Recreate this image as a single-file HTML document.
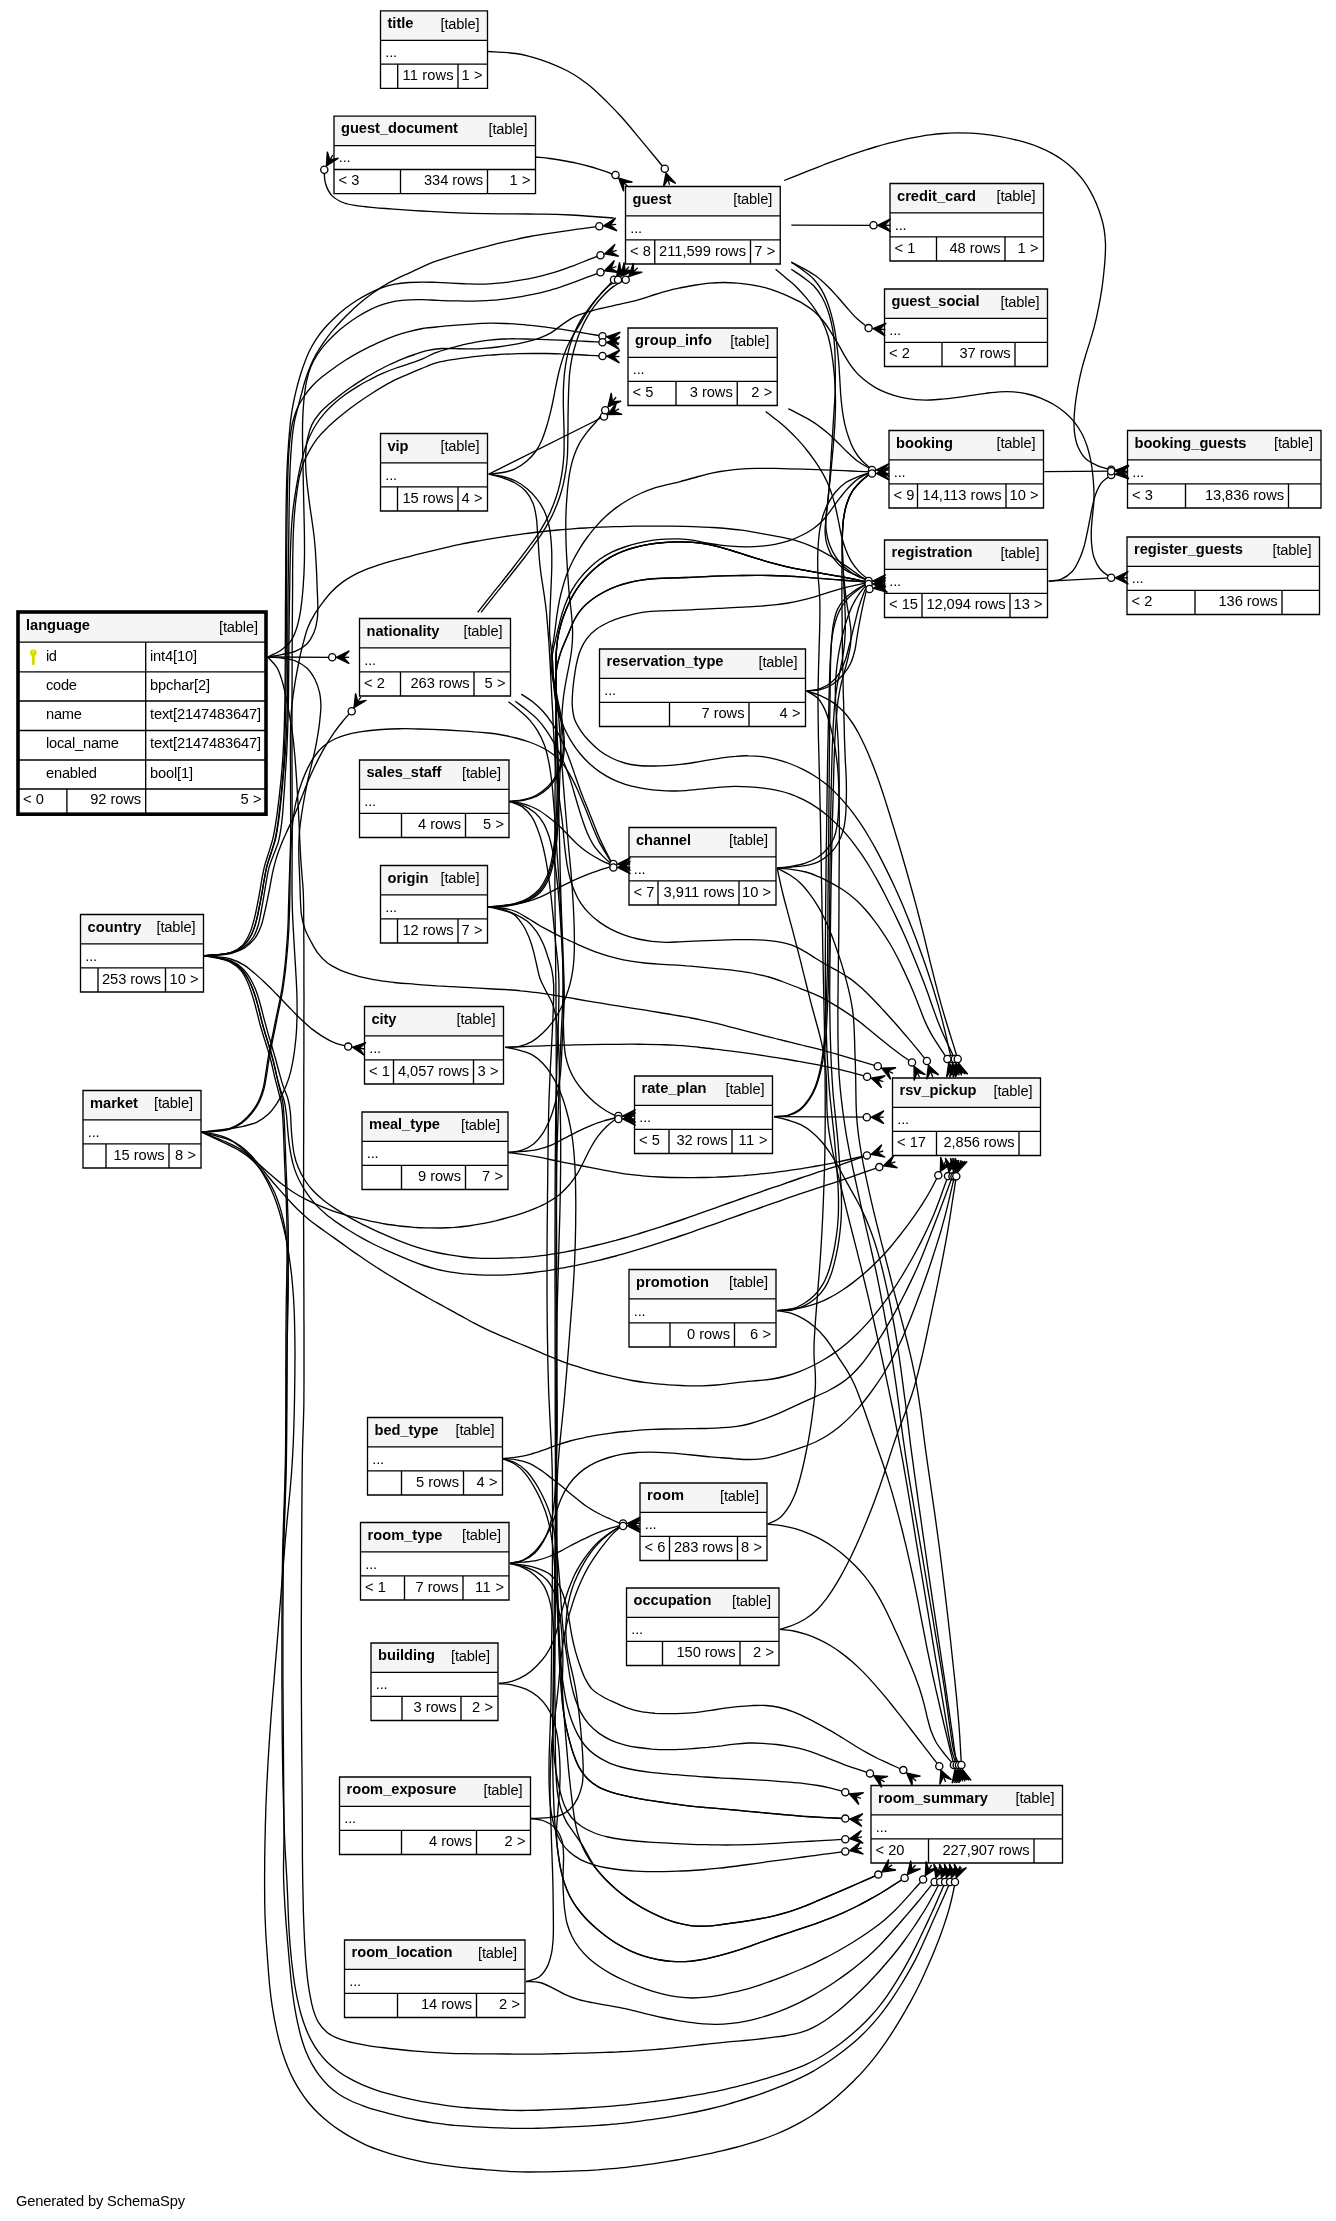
<!DOCTYPE html>
<html><head><meta charset="utf-8"><title>SchemaSpy - language</title>
<style>
html,body{margin:0;padding:0;background:#fff}
svg{display:block}
text{font-family:"Liberation Sans",sans-serif;font-size:14.67px;fill:#000}
.b{fill:none;stroke:#000;stroke-width:1.33}
.e path{fill:none;stroke:#000;stroke-width:1.33}
.h circle{fill:#fff;stroke:#000;stroke-width:1.33}
.h path{fill:none;stroke:#000;stroke-width:1.33}
.h path.c{fill:#000;stroke-width:1.3;stroke-linejoin:miter}
</style></head><body>
<svg width="1336" height="2221" viewBox="0 0 1336 2221">
<rect width="1336" height="2221" fill="#fff"/>
<g class="e">
<path d="M487.7,51.5C492.4,51.8 497.0,52.0 501.7,52.3C506.4,52.6 511.0,52.8 515.7,53.5C520.0,54.1 524.2,55.0 528.4,56.1C532.9,57.2 537.4,58.6 541.8,60.1C546.2,61.6 550.6,63.2 554.9,65.1C559.3,66.9 563.5,68.8 567.6,71.0C571.7,73.2 575.8,75.6 579.6,78.3C583.2,80.7 586.6,83.4 590.0,86.1C593.6,89.1 597.0,92.3 600.4,95.5C603.8,98.7 607.1,102.0 610.4,105.4C613.7,108.7 616.9,112.0 620.1,115.5C623.3,118.9 626.3,122.5 629.3,126.0C632.4,129.6 635.3,133.3 638.3,136.9C641.0,140.2 643.8,143.5 646.6,146.9C649.6,150.5 652.6,154.1 655.6,157.7C658.5,161.3 661.5,164.9 664.5,168.5"/>
<path d="M535.5,157.0C540.2,157.5 544.8,157.9 549.5,158.5C553.8,159.1 558.1,159.8 562.4,160.5C567.0,161.3 571.6,162.1 576.2,163.1C580.7,164.1 585.3,165.2 589.8,166.5C594.0,167.6 598.1,169.1 602.2,170.4C606.7,171.9 611.1,173.5 615.5,175.0"/>
<path d="M613.7,218.0C609.1,217.7 604.4,217.3 599.8,217.0C595.1,216.7 590.5,216.3 585.8,216.0C580.8,215.6 575.8,215.3 570.8,215.0C566.2,214.8 561.5,214.6 556.8,214.4C552.2,214.3 547.5,214.2 542.8,214.1C538.1,214.1 533.5,214.0 528.8,214.0C523.8,214.0 518.8,214.0 513.8,213.9C509.1,213.9 504.5,213.9 499.8,213.9C495.1,213.8 490.4,213.8 485.8,213.7C481.1,213.6 476.4,213.5 471.8,213.4C467.1,213.2 462.4,213.0 457.8,212.8C452.8,212.6 447.8,212.4 442.8,212.1C438.1,211.9 433.4,211.6 428.8,211.4C424.1,211.1 419.5,210.9 414.8,210.6C410.1,210.3 405.5,210.0 400.8,209.7C395.8,209.3 390.8,208.9 385.8,208.5C381.2,208.2 376.5,207.8 371.9,207.3C367.2,206.9 362.6,206.6 358.0,205.9C353.4,205.1 348.6,204.7 344.3,203.0C339.9,201.3 335.3,199.0 331.9,195.6C328.8,192.4 326.9,188.0 325.6,183.8C324.2,179.4 324.5,174.6 324.0,170.0"/>
<path d="M784.2,180.5C788.5,178.8 792.9,177.1 797.2,175.4C801.6,173.6 805.9,171.9 810.3,170.2C814.6,168.5 819.0,166.7 823.3,165.0C827.4,163.5 831.4,161.9 835.5,160.4C839.9,158.8 844.3,157.3 848.7,155.7C853.1,154.2 857.5,152.7 862.0,151.2C866.4,149.8 870.9,148.3 875.3,147.0C879.8,145.6 884.3,144.3 888.8,143.1C893.3,141.9 897.9,140.8 902.4,139.8C907.0,138.8 911.6,137.9 916.2,137.1C920.8,136.3 925.4,135.5 930.0,134.9C934.3,134.3 938.6,133.8 943.0,133.5C947.6,133.1 952.3,132.9 956.9,132.8C961.6,132.8 966.3,132.9 971.0,133.1C975.6,133.4 980.3,133.8 984.9,134.3C989.6,134.8 994.2,135.5 998.8,136.3C1003.4,137.1 1008.0,138.0 1012.5,139.1C1017.1,140.1 1021.6,141.3 1026.1,142.7C1030.5,144.0 1035.0,145.5 1039.3,147.3C1043.3,148.9 1047.3,150.7 1051.1,152.8C1055.1,155.0 1059.2,157.4 1062.9,160.2C1066.7,162.9 1070.2,165.9 1073.6,169.2C1076.9,172.5 1080.0,176.0 1082.8,179.7C1085.6,183.4 1088.1,187.3 1090.4,191.4C1092.7,195.5 1094.7,199.7 1096.5,204.0C1098.3,208.3 1099.9,212.7 1101.2,217.2C1102.5,221.3 1103.5,225.5 1104.2,229.8C1104.9,234.4 1105.3,239.1 1105.5,243.7C1105.6,248.4 1105.4,253.1 1105.1,257.7C1104.9,262.4 1104.4,267.0 1103.9,271.7C1103.5,276.3 1102.9,281.0 1102.3,285.6C1101.7,290.2 1100.9,294.8 1100.1,299.4C1099.3,304.0 1098.4,308.6 1097.4,313.2C1096.5,317.8 1095.4,322.3 1094.2,326.9C1093.1,331.0 1091.9,335.2 1090.6,339.4C1089.3,343.8 1087.8,348.3 1086.4,352.7C1085.1,357.2 1083.7,361.7 1082.5,366.2C1081.3,370.7 1080.3,375.3 1079.3,379.8C1078.4,384.4 1077.5,389.0 1076.8,393.6C1076.0,398.2 1075.4,402.8 1074.9,407.5C1074.4,412.1 1074.0,416.8 1074.0,421.5C1074.0,426.1 1074.1,430.8 1074.9,435.4C1075.6,439.6 1076.5,443.9 1078.4,447.8C1080.3,451.9 1082.7,456.0 1086.0,459.1C1089.3,462.1 1093.6,464.0 1097.8,465.8C1102.1,467.6 1106.7,468.4 1111.2,469.7"/>
<path d="M791.3,225.1L873.5,225.3"/>
<path d="M791.3,262.1C795.8,264.4 800.3,266.6 804.7,269.1C808.8,271.4 812.9,273.7 816.6,276.5C820.6,279.5 824.3,283.0 827.9,286.5C831.2,289.8 834.3,293.3 837.5,296.8C840.9,300.6 844.0,304.5 847.4,308.3C850.5,311.8 853.5,315.4 856.9,318.6C860.6,322.1 864.7,324.9 868.6,328.1"/>
<path d="M1048.7,581.2C1052.9,580.5 1057.4,580.8 1061.4,579.1C1065.5,577.4 1069.2,574.7 1072.2,571.5C1075.2,568.3 1077.0,564.3 1078.8,560.4C1080.9,556.2 1082.4,551.7 1083.8,547.2C1085.1,543.1 1085.9,538.8 1086.8,534.5C1087.8,530.3 1088.6,526.0 1089.4,521.7C1090.3,517.1 1091.1,512.4 1092.1,507.9C1093.0,503.6 1093.8,499.3 1095.3,495.2C1096.9,490.9 1098.6,486.5 1101.4,482.9C1104.0,479.6 1107.9,477.6 1111.2,474.9"/>
<path d="M1048.7,581.2L1111.2,577.8"/>
<path d="M1044.4,471.7L1111.2,471.2"/>
<path d="M791.3,262.1C795.1,264.8 799.1,267.3 802.8,270.1C806.3,272.7 809.9,275.2 812.9,278.3C816.1,281.7 818.9,285.4 821.3,289.4C823.7,293.3 825.6,297.7 827.3,302.0C829.0,306.4 830.3,310.9 831.5,315.4C832.7,319.6 833.6,323.9 834.4,328.1C835.2,332.7 835.9,337.4 836.5,342.0C837.1,346.7 837.7,351.3 838.1,356.0C838.6,360.3 838.9,364.6 839.2,369.0C839.5,373.7 839.7,378.3 840.0,383.0C840.3,387.7 840.5,392.4 840.9,397.0C841.3,401.4 841.7,405.7 842.3,410.0C842.9,414.6 843.7,419.3 844.7,423.8C845.8,428.4 847.0,432.9 848.6,437.3C850.1,441.7 851.8,446.1 854.1,450.2C856.2,453.9 858.8,457.4 861.8,460.5C864.9,463.9 868.8,466.6 872.3,469.7"/>
<path d="M791.3,269.2C795.2,271.8 799.1,274.3 802.9,277.1C806.6,279.9 810.5,282.5 813.7,285.8C816.9,289.2 819.6,293.0 821.9,297.0C824.3,301.0 826.0,305.3 827.6,309.7C829.2,314.1 830.4,318.6 831.4,323.1C832.5,327.7 833.2,332.3 833.7,336.9C834.3,341.6 834.6,346.2 834.9,350.9C835.1,355.6 835.2,360.2 835.2,364.9C835.3,369.6 835.4,374.2 835.3,378.9C835.3,383.6 835.3,388.2 835.1,392.9C835.0,397.6 834.6,402.2 834.3,406.9C834.0,411.6 833.7,416.2 833.4,420.9C833.1,425.2 832.9,429.5 832.6,433.9C832.3,438.5 832.0,443.2 831.7,447.8C831.4,452.5 831.1,457.2 830.8,461.8C830.5,466.5 830.2,471.2 829.9,475.8C829.6,480.5 829.3,485.1 828.9,489.8C828.5,494.4 828.0,499.1 827.5,503.7C827.0,508.4 826.1,513.0 825.9,517.6C825.7,522.2 825.7,526.9 826.3,531.5C827.0,536.1 828.1,540.7 829.7,545.0C831.3,549.3 833.4,553.5 836.0,557.4C838.6,561.2 841.7,564.7 845.2,567.8C848.6,570.9 852.4,573.6 856.5,575.7C860.6,577.9 865.2,579.0 869.5,580.6"/>
<path d="M775.6,269.2C779.2,272.2 782.8,275.2 786.3,278.2C789.9,281.3 793.5,284.2 796.8,287.5C800.3,291.0 803.7,294.8 806.9,298.6C809.9,302.2 812.7,305.9 815.3,309.8C817.9,313.6 820.4,317.6 822.5,321.8C824.5,325.9 826.2,330.3 827.7,334.7C829.1,339.2 830.0,343.8 830.9,348.3C831.8,353.3 832.4,358.2 833.1,363.2C833.6,367.8 834.1,372.5 834.5,377.1C834.9,381.8 835.2,386.4 835.3,391.1C835.5,395.8 835.5,400.5 835.5,405.1C835.4,409.8 835.3,414.5 835.1,419.1C834.9,424.1 834.6,429.1 834.2,434.1C833.9,438.8 833.5,443.4 833.1,448.1C832.6,452.8 832.2,457.4 831.8,462.1C831.4,466.7 830.9,471.4 830.5,476.0C830.0,480.7 829.5,485.3 829.0,490.0C828.5,494.9 828.0,499.9 827.5,504.9C827.0,509.5 826.4,514.2 826.0,518.8C825.6,523.5 824.8,528.1 825.1,532.7C825.3,537.3 826.0,542.0 827.5,546.3C828.9,550.7 830.9,555.0 833.7,558.7C836.6,562.7 840.2,566.2 844.1,569.1C847.9,571.8 852.3,573.5 856.5,575.4C860.8,577.3 865.2,578.9 869.5,580.6"/>
<path d="M788.4,408.6C792.9,410.9 797.4,413.1 801.8,415.6C806.2,418.0 810.7,420.3 814.8,423.1C819.0,425.9 822.9,429.1 826.8,432.3C830.4,435.3 833.8,438.6 837.2,441.9C840.8,445.4 844.1,449.1 847.8,452.5C851.5,455.9 855.1,459.5 859.2,462.3C863.3,465.2 867.9,467.2 872.3,469.7"/>
<path d="M765.7,411.4C769.4,414.3 773.1,417.1 776.7,420.1C780.1,422.8 783.5,425.6 786.7,428.5C790.1,431.7 793.5,435.0 796.7,438.4C799.7,441.6 802.6,444.8 805.3,448.2C808.3,451.8 811.1,455.5 813.8,459.4C816.5,463.2 819.1,467.1 821.4,471.2C823.6,474.9 825.7,478.8 827.5,482.7C829.4,487.0 831.0,491.4 832.4,495.9C833.7,500.0 834.8,504.2 835.8,508.5C836.9,513.0 837.7,517.6 838.7,522.2C839.6,526.8 840.3,531.5 841.5,536.0C842.5,540.2 843.7,544.4 845.3,548.5C846.9,552.8 848.7,557.2 851.1,561.2C853.3,564.9 856.0,568.3 858.9,571.4C862.1,574.8 866.0,577.5 869.5,580.6"/>
<path d="M488.8,474.2L604.0,416.5"/>
<path d="M488.8,474.2C493.4,473.6 498.1,473.5 502.7,472.5C506.9,471.7 511.1,470.6 515.0,468.8C519.2,466.8 523.1,464.2 526.6,461.2C530.2,458.2 533.4,454.7 536.0,451.0C538.5,447.5 540.4,443.5 542.1,439.5C543.9,435.2 545.3,430.8 546.7,426.3C548.1,421.8 549.2,417.3 550.4,412.7C551.4,408.5 552.3,404.3 553.2,400.0C554.1,395.4 554.9,390.8 555.9,386.2C556.8,381.6 557.7,377.0 558.8,372.5C559.8,368.3 561.0,364.1 562.3,359.9C563.8,355.5 565.3,351.1 567.2,346.8C569.1,342.5 571.4,338.5 573.7,334.4C575.9,330.6 578.2,327.0 580.5,323.2C582.9,319.2 585.2,315.2 587.8,311.2C590.3,307.3 593.0,303.5 595.9,299.8C598.6,296.4 601.6,293.2 604.5,290.0C607.6,286.5 610.8,283.1 614.0,279.7"/>
<path d="M477.7,612.4C480.6,608.7 483.4,605.0 486.3,601.4C489.2,597.7 492.1,594.1 495.0,590.4C498.0,586.8 500.9,583.1 503.8,579.5C506.7,575.8 509.6,572.2 512.5,568.5C515.3,564.8 518.2,561.1 521.0,557.4C523.9,553.7 526.7,550.0 529.4,546.2C532.2,542.5 534.9,538.7 537.5,534.8C540.1,530.9 542.6,527.0 544.8,522.9C547.1,518.8 549.2,514.6 551.0,510.4C552.9,506.1 554.6,501.7 556.1,497.3C557.6,492.9 558.8,488.4 559.9,483.9C560.9,479.3 561.8,474.7 562.4,470.1C563.1,465.5 563.5,460.8 563.8,456.2C564.1,451.9 564.1,447.5 564.1,443.2C564.2,438.5 564.1,433.9 564.0,429.2C563.9,424.5 563.7,419.9 563.6,415.2C563.5,410.6 563.3,405.9 563.3,401.2C563.3,396.6 563.3,391.9 563.5,387.2C563.7,382.6 564.0,377.9 564.5,373.3C565.0,368.6 565.7,364.0 566.6,359.4C567.5,354.9 568.5,350.3 569.8,345.9C571.2,341.4 572.6,336.9 574.4,332.7C576.2,328.4 578.4,324.2 580.7,320.2C583.1,316.2 585.9,312.5 588.7,308.7C591.5,305.0 594.4,301.3 597.4,297.8C600.4,294.2 603.3,290.6 606.8,287.5C610.2,284.5 614.3,282.3 618.0,279.7"/>
<path d="M481.0,612.4C483.9,608.7 486.8,605.0 489.7,601.4C492.6,597.7 495.5,594.1 498.4,590.4C501.3,586.8 504.2,583.1 507.2,579.5C510.1,575.8 513.0,572.2 515.9,568.5C518.8,564.8 521.6,561.2 524.5,557.5C527.3,553.7 530.1,550.0 532.9,546.3C535.6,542.5 538.4,538.7 541.0,534.8C543.6,530.9 546.1,527.0 548.3,522.9C550.6,518.8 552.7,514.6 554.5,510.4C556.4,506.1 558.1,501.7 559.6,497.3C561.0,492.9 562.3,488.4 563.4,483.8C564.4,479.3 565.2,474.7 565.9,470.1C566.6,465.5 567.1,460.8 567.4,456.2C567.7,451.2 567.7,446.2 567.8,441.2C567.9,436.5 567.9,431.8 568.0,427.1C568.0,422.5 568.0,417.8 568.1,413.1C568.2,408.5 568.2,403.8 568.4,399.1C568.5,394.5 568.6,389.8 568.9,385.1C569.1,380.5 569.3,375.8 569.9,371.2C570.4,366.5 571.2,361.9 572.1,357.4C573.1,352.8 574.3,348.3 575.7,343.8C577.1,339.4 578.6,335.0 580.4,330.7C582.3,326.4 584.3,322.1 586.6,318.1C588.9,314.0 591.4,310.1 594.2,306.4C596.9,302.6 599.9,299.0 603.2,295.7C606.4,292.4 609.8,289.1 613.6,286.4C617.4,283.8 621.7,281.9 625.7,279.7"/>
<path d="M509.7,801.5C514.3,800.9 519.0,800.7 523.5,799.6C528.0,798.5 532.5,797.2 536.6,795.0C540.6,792.9 544.4,790.0 547.7,786.8C550.7,783.8 553.4,780.4 555.5,776.7C557.9,772.7 559.8,768.4 561.0,764.0C562.3,759.5 562.8,754.9 563.2,750.2C563.5,745.6 563.3,740.9 563.0,736.3C562.7,731.6 562.1,727.0 561.3,722.4C560.6,717.8 559.5,713.2 558.6,708.7C557.7,704.4 556.7,700.2 555.9,695.9C555.0,691.4 554.1,686.8 553.3,682.2C552.5,677.6 551.6,673.0 551.3,668.3C550.9,663.7 550.9,659.1 551.2,654.4C551.6,649.8 552.8,645.3 553.5,640.7C554.2,636.1 554.8,631.4 555.4,626.8C556.0,622.5 556.4,618.2 557.1,613.9C557.8,609.3 558.6,604.7 559.5,600.1C560.5,595.6 561.6,591.0 562.9,586.5C564.1,582.1 565.5,577.6 567.2,573.3C568.9,568.9 570.9,564.7 573.0,560.5C575.1,556.3 577.4,552.3 579.8,548.3C582.1,544.6 584.5,541.0 587.1,537.5C589.9,533.8 592.7,530.1 595.8,526.6C598.9,523.1 602.1,519.7 605.5,516.5C608.9,513.4 612.5,510.4 616.3,507.6C620.0,504.8 624.0,502.3 628.0,500.0C632.0,497.6 636.1,495.4 640.4,493.5C644.6,491.5 648.9,489.7 653.3,488.3C657.4,486.9 661.7,485.9 665.9,484.9C670.4,483.8 675.0,482.9 679.5,481.8C684.0,480.6 688.5,479.3 693.0,478.0C697.5,476.8 702.0,475.4 706.5,474.3C711.0,473.2 715.6,472.3 720.2,471.5C724.8,470.7 729.4,470.1 734.1,469.6C738.4,469.1 742.7,468.8 747.0,468.6C751.7,468.4 756.4,468.4 761.0,468.3C765.7,468.3 770.4,468.4 775.0,468.4C779.7,468.5 784.4,468.6 789.0,468.8C793.7,468.9 798.4,469.0 803.0,469.1C807.7,469.3 812.4,469.4 817.0,469.6C821.4,469.7 825.7,469.9 830.0,470.1C834.7,470.3 839.4,470.5 844.0,470.7C848.7,470.9 853.3,471.1 858.0,471.3C862.7,471.5 867.3,471.7 872.0,471.9"/>
<path d="M509.7,801.5C514.3,801.1 519.0,801.2 523.6,800.3C528.1,799.4 532.7,798.2 536.8,796.2C540.9,794.2 544.7,791.5 548.1,788.3C551.2,785.4 553.8,781.8 555.9,778.2C558.3,774.2 560.2,769.9 561.6,765.5C563.0,761.1 563.7,756.4 564.1,751.8C564.5,747.2 564.4,742.5 564.1,737.8C563.9,733.2 563.3,728.5 562.6,723.9C561.9,719.3 560.8,714.8 559.9,710.2C559.0,705.6 557.9,701.1 557.0,696.5C556.2,692.2 555.3,688.0 554.6,683.7C553.8,679.1 552.9,674.5 552.5,669.9C552.1,665.3 551.8,660.6 552.2,656.0C552.6,651.4 553.9,646.8 554.9,642.3C555.9,637.7 557.0,633.2 558.2,628.7C559.3,624.2 560.3,619.6 561.6,615.1C563.0,610.7 564.4,606.2 566.2,601.9C567.8,597.9 569.7,594.0 571.9,590.2C574.2,586.2 576.8,582.3 579.7,578.7C582.6,575.0 585.7,571.6 589.1,568.3C592.4,565.1 596.0,562.0 599.7,559.3C603.5,556.6 607.5,554.2 611.7,552.1C615.9,550.1 620.3,548.5 624.7,547.0C629.1,545.5 633.6,544.2 638.1,543.1C642.7,542.0 647.2,541.1 651.9,540.4C656.1,539.8 660.5,539.4 664.8,539.1C669.4,538.9 674.1,538.7 678.8,538.9C683.4,539.1 688.1,539.5 692.7,540.2C697.3,540.9 701.8,542.1 706.4,543.0C711.0,543.8 715.6,544.6 720.2,545.2C724.8,545.7 729.5,546.1 734.2,546.4C738.8,546.6 743.5,546.8 748.1,546.8C752.5,546.8 756.8,546.6 761.1,546.2C765.8,545.8 770.4,545.2 775.0,544.3C779.5,543.4 784.1,542.3 788.5,540.8C792.9,539.4 797.3,537.6 801.4,535.5C805.6,533.5 809.7,531.2 813.5,528.5C817.2,525.7 820.7,522.6 823.9,519.2C827.0,515.8 829.6,511.9 832.4,508.2C835.0,504.7 837.4,501.1 840.1,497.7C843.0,494.1 845.8,490.3 849.1,487.0C852.3,483.7 855.7,480.4 859.5,477.9C863.4,475.3 867.8,473.9 872.0,471.9"/>
<path d="M488.5,906.8C493.2,906.5 497.8,906.4 502.5,905.8C507.1,905.2 511.7,904.6 516.1,903.2C520.6,901.8 525.0,900.2 528.9,897.8C532.8,895.4 536.5,892.4 539.5,889.0C542.5,885.5 544.7,881.3 546.6,877.1C548.5,872.9 549.7,868.3 550.8,863.8C552.0,859.3 552.7,854.7 553.4,850.1C554.1,845.5 554.6,840.8 555.1,836.2C555.5,831.2 555.8,826.2 556.0,821.2C556.3,816.5 556.5,811.8 556.7,807.2C556.8,802.5 557.0,797.8 557.1,793.2C557.2,788.5 557.2,783.8 557.3,779.2C557.3,774.5 557.3,769.8 557.2,765.1C557.2,760.5 557.1,755.8 557.0,751.1C556.9,746.5 556.8,741.8 556.7,737.1C556.5,732.4 556.4,727.8 556.3,723.1C556.2,718.4 556.1,713.8 556.1,709.1C556.0,704.4 556.0,699.7 556.0,695.1C555.9,690.4 555.8,685.7 555.8,681.1C555.7,676.4 555.6,671.7 555.7,667.0C555.8,662.4 555.9,657.7 556.2,653.0C556.5,648.4 556.9,643.7 557.6,639.1C558.4,634.5 559.3,629.9 560.6,625.4C562.0,620.6 563.6,615.9 565.5,611.3C567.2,606.9 569.1,602.6 571.2,598.5C573.4,594.4 575.8,590.4 578.5,586.6C581.2,582.8 584.1,579.1 587.3,575.7C590.5,572.3 593.9,569.2 597.5,566.2C601.1,563.3 604.9,560.5 608.9,558.1C612.9,555.7 617.1,553.7 621.4,551.9C625.7,550.1 630.2,548.7 634.7,547.5C639.2,546.2 643.7,545.2 648.3,544.4C652.9,543.6 657.6,543.1 662.2,542.7C666.9,542.3 671.5,542.0 676.2,541.9C680.9,541.8 685.6,541.9 690.2,542.2C694.9,542.5 699.5,542.9 704.1,543.7C708.7,544.4 713.3,545.4 717.8,546.6C722.4,547.7 726.8,549.1 731.3,550.5C735.7,551.8 740.2,553.3 744.6,554.7C749.1,556.1 753.5,557.5 758.0,558.9C762.8,560.3 767.6,561.9 772.4,563.2C776.9,564.4 781.4,565.6 786.0,566.6C790.5,567.6 795.1,568.5 799.7,569.4C804.3,570.2 808.9,571.1 813.5,571.9C818.1,572.7 822.7,573.5 827.3,574.3C831.9,575.1 836.5,575.8 841.1,576.7C845.7,577.5 850.3,578.5 854.9,579.4C859.5,580.3 864.0,581.3 868.6,582.3"/>
<path d="M488.5,906.8C493.2,906.6 497.8,906.6 502.5,906.1C507.1,905.6 511.7,905.0 516.2,903.8C520.7,902.6 525.2,901.1 529.2,898.9C533.2,896.7 537.0,893.9 540.1,890.5C543.1,887.1 545.4,883.0 547.3,878.8C549.3,874.6 550.5,870.0 551.7,865.6C552.8,861.0 553.6,856.4 554.3,851.8C555.1,847.2 555.6,842.6 556.1,837.9C556.5,833.3 556.8,828.6 557.0,823.9C557.3,819.3 557.5,814.6 557.7,809.9C557.9,805.3 558.1,800.6 558.2,795.9C558.3,791.6 558.4,787.3 558.5,782.9C558.5,778.3 558.5,773.6 558.4,768.9C558.4,764.3 558.2,759.6 558.0,754.9C557.9,750.3 557.7,745.6 557.4,740.9C557.2,736.3 557.0,731.6 556.8,726.9C556.5,722.3 556.3,717.6 556.1,712.9C555.9,708.3 555.8,703.6 555.7,698.9C555.6,694.3 555.4,689.6 555.5,684.9C555.6,680.3 555.7,675.6 556.3,671.0C556.9,666.4 557.9,661.8 559.2,657.3C560.4,652.8 562.2,648.5 563.9,644.2C565.7,639.9 567.6,635.6 569.4,631.3C571.3,627.1 572.7,622.6 575.0,618.5C577.3,614.5 580.0,610.7 583.1,607.3C586.2,603.9 589.9,601.0 593.7,598.3C597.5,595.5 601.5,593.2 605.7,591.1C609.8,589.0 614.1,587.2 618.5,585.6C622.9,584.1 627.4,582.9 632.0,581.8C636.5,580.8 641.2,580.1 645.8,579.5C650.4,578.9 655.1,578.6 659.7,578.4C664.4,578.1 669.1,578.0 673.7,577.9C678.4,577.7 683.1,577.6 687.7,577.5C692.4,577.3 697.1,577.0 701.7,576.8C706.1,576.6 710.4,576.4 714.7,576.2C719.4,576.0 724.1,575.9 728.7,575.7C733.4,575.6 738.1,575.5 742.7,575.5C747.4,575.4 752.1,575.4 756.8,575.4C761.4,575.4 766.1,575.4 770.8,575.5C775.4,575.6 780.1,575.8 784.8,576.0C789.4,576.2 794.1,576.5 798.8,576.8C803.4,577.1 808.1,577.5 812.7,577.8C817.4,578.2 822.0,578.5 826.7,578.9C831.4,579.2 836.0,579.6 840.7,580.0C845.3,580.3 850.0,580.7 854.6,581.1C859.3,581.5 863.9,581.9 868.6,582.3"/>
<path d="M488.5,906.8C493.2,906.7 497.8,906.8 502.5,906.4C507.1,906.0 511.8,905.5 516.3,904.4C520.5,903.5 524.7,902.3 528.6,900.4C532.7,898.4 536.7,896.0 539.9,892.7C543.2,889.5 545.6,885.4 547.6,881.3C549.7,877.2 551.0,872.7 552.2,868.2C553.4,863.7 554.2,859.0 555.0,854.4C555.7,849.8 556.3,845.2 556.8,840.6C557.2,836.2 557.5,831.9 557.8,827.6C558.1,822.9 558.3,818.2 558.5,813.6C558.7,808.9 558.9,804.2 559.1,799.6C559.2,794.9 559.4,790.2 559.5,785.6C559.7,780.9 559.8,776.2 560.0,771.5C560.1,766.9 560.3,762.2 560.4,757.5C560.5,753.2 560.6,748.8 560.8,744.5C560.9,739.8 561.0,735.2 561.2,730.5C561.4,725.8 561.5,721.2 561.8,716.5C562.1,711.8 562.4,707.2 562.9,702.5C563.3,697.9 563.9,693.2 564.7,688.6C565.3,684.3 566.2,680.1 567.0,675.8C567.9,671.2 568.9,666.7 569.7,662.1C570.5,657.5 571.4,652.9 571.8,648.2C572.3,643.6 572.6,638.9 572.6,634.2C572.7,629.6 572.4,624.9 572.0,620.3C571.7,615.6 571.1,611.0 570.6,606.3C570.1,602.0 569.6,597.7 569.2,593.4C568.7,588.7 568.4,584.1 568.1,579.4C567.7,574.7 567.4,570.1 567.2,565.4C566.9,560.7 566.6,556.1 566.4,551.4C566.2,546.7 566.0,542.1 565.9,537.4C565.8,532.7 565.8,528.0 565.8,523.4C565.8,519.0 565.9,514.7 566.1,510.4C566.3,505.7 566.6,501.0 567.0,496.4C567.3,491.7 567.7,487.0 568.3,482.4C568.8,477.8 569.5,473.1 570.5,468.6C571.5,464.0 572.7,459.5 574.3,455.1C575.8,450.8 577.7,446.5 580.0,442.4C582.1,438.6 584.7,435.2 587.3,431.8C590.2,428.1 593.5,424.8 596.5,421.2C599.5,417.6 602.3,413.9 605.2,410.2"/>
<path d="M868.6,582.3C864.0,583.3 859.5,584.3 854.9,585.3C850.4,586.4 845.8,587.3 841.3,588.6C836.8,589.8 832.3,591.2 827.9,592.6C823.4,594.0 819.1,595.6 814.6,596.9C810.1,598.2 805.6,599.4 801.0,600.4C796.8,601.4 792.5,602.3 788.3,603.0C783.7,603.8 779.0,604.4 774.4,604.9C769.8,605.4 765.1,605.8 760.4,606.1C755.8,606.4 751.1,606.7 746.5,606.9C741.8,607.2 737.1,607.4 732.5,607.6C727.8,607.9 723.1,608.2 718.5,608.4C713.8,608.6 709.1,608.9 704.5,609.1C699.8,609.3 695.2,609.6 690.5,609.8C685.8,610.0 681.2,610.2 676.5,610.4C671.8,610.6 667.2,610.6 662.5,610.8C657.8,611.0 653.2,611.1 648.5,611.6C643.9,612.1 639.3,612.9 634.7,613.8C630.5,614.7 626.3,615.9 622.2,617.2C617.7,618.6 613.3,620.1 609.0,622.0C604.8,624.0 600.6,626.0 596.9,628.8C593.2,631.5 589.8,634.7 587.0,638.4C584.2,642.0 582.0,646.2 580.3,650.5C578.5,654.8 577.5,659.3 576.5,663.9C575.5,668.4 574.9,673.1 574.2,677.7C573.6,682.3 573.0,687.0 572.7,691.6C572.3,696.3 571.9,700.9 572.3,705.6C572.6,710.2 573.1,714.8 574.6,719.2C576.1,723.5 578.6,727.5 581.2,731.3C583.6,734.9 586.4,738.2 589.4,741.3C592.6,744.7 596.0,747.9 599.7,750.7C603.4,753.5 607.4,755.9 611.6,758.0C615.7,760.1 620.1,761.8 624.6,763.0C629.0,764.3 633.7,765.0 638.3,765.5C642.9,766.0 647.6,766.0 652.3,766.0C656.9,766.1 661.6,765.9 666.3,765.6C670.9,765.3 675.6,764.9 680.2,764.4C684.9,763.9 689.5,763.2 694.1,762.5C698.7,761.8 703.3,760.9 707.9,760.1C712.5,759.3 717.1,758.5 721.7,757.8C726.3,757.2 731.0,756.6 735.6,756.3C740.0,755.9 744.3,755.7 748.6,755.8C753.3,755.8 757.9,756.1 762.6,756.7C767.2,757.3 771.8,758.1 776.3,759.3C780.8,760.4 785.3,761.9 789.6,763.5C794.0,765.2 798.2,767.1 802.4,769.2C806.6,771.3 810.7,773.5 814.7,776.0C818.6,778.4 822.4,781.2 826.0,784.1C829.6,787.0 833.0,790.3 836.3,793.6C839.6,796.9 842.7,800.3 845.7,803.9C848.8,807.5 851.7,811.1 854.4,814.9C857.2,818.6 859.8,822.5 862.4,826.4C864.8,830.0 867.0,833.7 869.2,837.5C871.6,841.5 873.9,845.5 876.1,849.6C878.4,853.8 880.5,857.9 882.6,862.1C884.7,866.2 886.8,870.4 888.8,874.6C890.9,878.8 892.9,883.1 894.8,887.3C896.7,891.5 898.7,895.8 900.5,900.1C902.4,904.4 904.2,908.7 905.9,913.0C907.7,917.3 909.4,921.7 911.1,926.0C912.8,930.4 914.4,934.8 916.1,939.1C917.7,943.5 919.3,947.9 920.9,952.3C922.5,956.7 924.1,961.1 925.6,965.5C927.1,969.9 928.6,974.3 930.0,978.8C931.4,982.9 932.7,987.0 934.0,991.2C935.3,995.6 936.7,1000.1 938.0,1004.6C939.3,1009.1 940.5,1013.6 941.7,1018.1C942.9,1022.6 944.0,1027.2 945.1,1031.7C946.2,1036.2 947.2,1040.8 948.2,1045.4C949.3,1049.9 950.3,1054.5 951.4,1059.0"/>
<path d="M488.8,474.2C493.4,475.0 498.1,475.3 502.6,476.5C507.1,477.6 511.5,478.9 515.7,481.0C519.8,483.1 523.6,485.8 527.1,488.8C530.7,491.8 534.0,495.1 536.8,498.8C539.7,502.4 542.2,506.4 544.1,510.6C546.1,514.8 547.5,519.3 548.6,523.8C549.7,528.0 550.2,532.3 550.7,536.6C551.2,541.2 551.5,545.9 551.7,550.5C551.9,555.2 551.8,559.9 551.8,564.5C551.8,569.2 551.6,573.9 551.4,578.5C551.3,583.2 551.0,587.9 550.8,592.5C550.6,597.2 550.4,601.9 550.2,606.5C550.1,611.2 549.8,615.9 549.7,620.5C549.6,625.2 549.4,629.9 549.7,634.5C549.9,639.2 550.6,643.8 551.1,648.4C551.6,653.0 552.4,657.6 552.7,662.3C553.1,666.9 553.1,671.6 553.3,676.3C553.6,680.9 553.7,685.6 554.2,690.2C554.6,694.5 555.2,698.8 556.0,703.1C557.0,707.6 558.2,712.2 559.7,716.6C561.2,721.0 562.9,725.3 564.9,729.5C566.9,733.7 569.1,737.9 571.6,741.8C574.1,745.8 576.7,749.6 579.7,753.2C582.6,756.8 585.8,760.2 589.3,763.4C592.7,766.5 596.3,769.5 600.2,772.1C604.0,774.7 608.0,777.1 612.2,779.1C616.4,781.2 620.8,782.8 625.2,784.3C629.6,785.7 634.2,786.8 638.7,787.7C643.3,788.6 647.9,789.3 652.6,789.9C657.2,790.4 661.9,790.7 666.5,790.9C671.2,791.1 675.9,791.0 680.5,790.8C684.9,790.7 689.2,790.3 693.5,789.9C698.1,789.5 702.8,788.9 707.4,788.4C712.1,788.0 716.7,787.4 721.4,787.1C726.0,786.8 730.7,786.5 735.4,786.4C740.0,786.4 744.7,786.5 749.3,786.8C754.0,787.1 758.7,787.5 763.3,788.1C767.9,788.7 772.5,789.4 777.1,790.4C781.6,791.4 786.2,792.5 790.6,794.1C795.0,795.6 799.2,797.6 803.4,799.6C807.5,801.7 811.6,804.0 815.5,806.6C819.4,809.1 823.2,811.9 826.7,814.9C830.3,817.9 833.7,821.1 837.0,824.4C840.1,827.4 843.1,830.6 845.9,833.9C849.0,837.4 851.9,841.0 854.7,844.8C857.5,848.5 860.2,852.3 862.8,856.2C865.4,860.1 867.9,864.0 870.3,868.0C872.7,872.0 875.0,876.1 877.3,880.2C879.5,884.2 881.7,888.4 883.9,892.5C886.0,896.7 888.1,900.8 890.2,905.0C892.3,909.2 894.4,913.4 896.4,917.6C898.4,921.8 900.4,926.0 902.3,930.3C904.2,934.5 906.1,938.8 907.9,943.1C909.7,947.4 911.5,951.7 913.3,956.1C915.1,960.4 916.8,964.7 918.6,969.0C920.2,973.1 921.8,977.1 923.3,981.1C925.0,985.5 926.6,989.9 928.2,994.3C929.7,998.7 931.2,1003.1 932.8,1007.5C934.4,1011.9 935.9,1016.3 937.6,1020.7C939.3,1025.0 941.1,1029.3 942.9,1033.6C944.8,1037.9 946.8,1042.1 948.8,1046.3C950.8,1050.6 952.8,1054.8 954.8,1059.0"/>
<path d="M488.8,474.2C493.3,475.4 497.9,476.2 502.3,477.7C506.7,479.2 511.2,480.7 515.2,483.0C519.1,485.3 523.0,488.1 526.0,491.5C529.0,494.9 531.3,499.0 533.0,503.3C534.7,507.5 535.5,512.2 536.2,516.8C537.0,521.4 537.1,526.0 537.4,530.7C537.8,535.3 538.0,540.0 538.4,544.7C538.7,549.3 538.9,554.0 539.3,558.6C539.7,563.3 540.2,567.9 540.8,572.6C541.4,577.2 542.2,581.8 542.9,586.4C543.5,590.7 544.3,595.0 544.8,599.3C545.5,603.9 546.0,608.5 546.5,613.2C546.9,617.8 547.3,622.5 547.7,627.1C548.1,631.8 548.4,636.4 548.8,641.1C549.1,645.7 549.4,650.4 549.6,655.0C549.9,659.7 550.1,664.4 550.4,669.0C550.6,673.7 550.9,678.4 551.1,683.0C551.3,687.7 551.6,692.3 551.8,697.0C552.1,701.7 552.3,706.3 552.6,711.0C552.8,715.7 553.0,720.3 553.2,725.0C553.5,729.6 553.7,734.3 553.9,739.0C554.2,743.6 554.4,748.3 554.7,753.0C555.0,757.6 555.3,762.3 555.7,766.9C556.1,771.6 556.5,776.2 557.0,780.9C557.6,785.5 558.2,790.1 558.8,794.8C559.4,799.4 560.0,804.0 560.6,808.6C561.2,813.3 561.8,817.9 562.4,822.5C562.9,827.2 563.3,831.8 563.7,836.5C564.2,841.1 564.5,845.8 565.1,850.4C565.7,855.0 566.3,859.7 567.0,864.3C567.8,868.5 568.6,872.8 569.7,877.0C570.9,881.5 572.3,885.9 574.1,890.2C575.9,894.5 577.9,898.7 580.4,902.6C583.0,906.5 585.9,910.1 589.2,913.4C592.4,916.8 596.1,919.7 599.8,922.4C603.6,925.1 607.6,927.6 611.7,929.7C615.9,931.8 620.2,933.7 624.6,935.2C628.9,936.8 633.5,938.0 638.0,939.0C642.6,940.0 647.2,940.8 651.8,941.4C656.4,941.9 661.1,942.2 665.7,942.3C670.4,942.4 675.1,942.0 679.7,941.8C684.4,941.7 689.0,941.4 693.7,941.2C698.4,941.0 703.0,940.9 707.7,940.7C712.4,940.5 717.0,940.3 721.7,940.1C726.4,940.0 731.0,939.8 735.7,939.7C740.4,939.6 745.0,939.6 749.7,939.6C754.4,939.7 759.0,939.8 763.7,940.1C768.3,940.4 773.0,940.8 777.6,941.6C782.2,942.4 786.8,943.4 791.1,944.9C795.5,946.4 799.7,948.5 803.7,950.8C807.8,953.0 811.6,955.8 815.5,958.3C819.2,960.6 822.9,962.8 826.7,965.0C830.7,967.3 834.9,969.3 839.0,971.7C843.0,974.0 847.0,976.4 850.8,979.1C854.6,981.9 858.1,984.9 861.6,988.0C865.1,991.1 868.4,994.4 871.6,997.8C874.9,1001.1 878.0,1004.5 881.2,1007.9C884.4,1011.4 887.6,1014.8 890.7,1018.3C893.8,1021.7 896.9,1025.2 900.0,1028.7C903.0,1032.3 906.0,1035.8 909.1,1039.4C912.1,1043.0 915.1,1046.6 918.0,1050.1C921.0,1053.7 923.9,1057.4 926.9,1061.0"/>
<path d="M806.5,691.0C810.9,692.4 815.5,693.5 819.8,695.3C824.1,697.2 828.2,699.3 832.1,701.9C835.9,704.5 839.5,707.5 842.8,710.8C846.2,714.4 849.3,718.4 852.1,722.5C854.8,726.3 857.0,730.4 859.2,734.5C861.4,738.6 863.4,742.9 865.3,747.1C867.3,751.4 869.1,755.7 870.8,760.0C872.6,764.3 874.3,768.7 875.9,773.1C877.6,777.5 879.1,781.9 880.6,786.3C882.1,790.7 883.6,795.2 885.0,799.6C886.5,804.4 888.0,809.2 889.5,814.0C890.9,818.4 892.2,822.9 893.6,827.4C895.0,831.8 896.3,836.3 897.7,840.8C899.0,845.3 900.4,849.7 901.7,854.2C903.0,858.7 904.3,863.2 905.6,867.7C906.9,872.2 908.2,876.7 909.4,881.2C910.7,885.7 911.9,890.2 913.2,894.7C914.4,899.2 915.6,903.7 916.8,908.2C918.1,913.1 919.4,917.9 920.6,922.8C921.8,927.3 922.9,931.8 924.0,936.4C925.1,940.9 926.2,945.5 927.3,950.0C928.4,954.5 929.5,959.1 930.6,963.6C931.8,968.2 932.9,972.7 934.0,977.2C935.1,981.8 936.3,986.3 937.5,990.8C938.7,995.3 939.9,999.9 941.1,1004.4C942.5,1009.2 943.9,1014.0 945.3,1018.8C946.7,1023.3 948.0,1027.7 949.4,1032.2C950.8,1036.7 952.2,1041.1 953.6,1045.6C955.0,1050.1 956.3,1054.5 957.7,1059.0"/>
<path d="M806.5,691.0C811.1,690.2 815.8,690.2 820.2,688.7C824.2,687.3 828.1,685.3 831.3,682.6C834.6,679.9 837.3,676.4 839.5,672.8C842.0,668.8 843.7,664.4 845.3,660.1C846.9,655.7 847.8,651.0 849.0,646.5C850.2,642.3 851.2,638.1 852.2,633.8C853.2,629.6 854.2,625.4 855.3,621.1C856.4,616.6 857.4,612.0 858.7,607.5C860.1,603.0 861.6,598.6 863.3,594.2C864.9,590.2 866.8,586.3 868.6,582.3"/>
<path d="M806.5,691.0C811.1,690.5 815.9,690.8 820.3,689.6C824.7,688.5 829.0,686.7 832.8,684.2C836.7,681.6 840.0,678.3 843.0,674.8C846.0,671.3 848.7,667.4 850.7,663.2C852.7,659.0 853.8,654.5 854.9,650.0C855.9,645.8 856.3,641.4 857.0,637.2C857.7,632.5 858.5,627.9 859.3,623.3C860.2,618.7 861.1,614.1 862.0,609.6C863.0,605.0 864.0,600.4 865.1,595.9C866.2,591.3 867.4,586.8 868.6,582.3"/>
<path d="M777.2,868.2C781.9,868.6 786.6,868.7 791.2,869.3C796.1,869.9 801.1,870.7 805.9,872.0C810.4,873.2 814.7,875.1 819.0,876.9C823.3,878.8 827.4,881.0 831.5,883.2C835.6,885.4 839.8,887.7 843.6,890.3C847.7,893.1 851.7,896.2 855.5,899.5C859.0,902.6 862.2,906.0 865.3,909.5C868.4,912.9 871.3,916.6 874.1,920.4C877.0,924.1 879.7,927.9 882.3,931.8C885.1,935.9 887.8,940.2 890.4,944.5C892.7,948.5 895.0,952.6 897.1,956.7C899.3,960.9 901.3,965.1 903.3,969.4C905.3,973.6 907.2,977.9 909.1,982.1C911.1,986.7 913.1,991.3 915.0,996.0C916.8,1000.3 918.4,1004.7 920.1,1009.1C921.8,1013.4 923.3,1017.8 925.3,1022.1C927.2,1026.4 929.3,1030.5 931.6,1034.6C934.1,1038.9 936.9,1043.1 939.7,1047.3C942.2,1051.2 944.8,1055.1 947.4,1059.0"/>
<path d="M777.2,868.2C781.8,867.6 786.5,867.1 791.1,866.3C795.7,865.5 800.3,864.9 804.7,863.4C809.1,862.0 813.4,860.0 817.3,857.5C820.9,855.2 824.3,852.5 827.0,849.2C830.0,845.7 832.4,841.6 834.1,837.4C835.9,833.1 836.6,828.5 837.3,823.9C838.1,819.3 838.3,814.6 838.5,809.9C838.8,805.3 839.0,800.6 839.1,795.9C839.2,791.6 839.2,787.3 839.2,782.9C839.2,778.2 839.1,773.6 839.0,768.9C838.9,764.2 838.8,759.5 838.7,754.9C838.5,750.2 838.4,745.5 838.1,740.9C837.9,736.2 837.5,731.5 837.2,726.9C836.9,722.2 836.5,717.5 836.2,712.9C835.9,708.2 835.6,703.6 835.5,698.9C835.3,694.5 835.3,690.2 835.4,685.9C835.6,681.2 835.8,676.5 836.3,671.9C836.7,667.2 837.3,662.6 838.0,658.0C838.7,653.4 839.5,648.8 840.5,644.2C841.4,639.6 842.5,635.0 843.7,630.5C844.8,626.3 846.0,622.2 847.4,618.1C849.0,613.7 850.5,609.2 852.6,605.1C854.6,600.9 857.1,596.9 859.7,593.1C862.4,589.3 865.6,585.9 868.6,582.3"/>
<path d="M777.2,868.2C781.8,867.8 786.5,867.5 791.1,867.1C795.8,866.6 800.5,866.6 805.1,865.7C809.6,864.8 814.2,863.8 818.3,861.8C822.7,859.7 826.8,856.7 830.3,853.3C833.6,850.1 836.3,846.2 838.5,842.2C840.7,838.1 842.3,833.7 843.5,829.3C844.7,824.8 845.2,820.1 845.6,815.5C846.1,810.8 846.1,806.2 846.2,801.5C846.4,796.8 846.5,792.2 846.4,787.5C846.4,782.5 846.2,777.5 846.0,772.5C845.8,767.9 845.4,763.2 845.2,758.5C845.0,753.9 844.9,749.2 844.7,744.6C844.5,739.9 844.4,735.2 844.3,730.6C844.2,725.9 844.1,721.2 843.9,716.6C843.8,711.9 843.7,707.2 843.6,702.6C843.4,697.9 843.3,693.2 843.2,688.6C843.1,683.6 843.0,678.6 842.9,673.6C842.8,668.9 842.7,664.2 842.6,659.6C842.5,654.9 842.4,650.2 842.4,645.6C842.3,640.9 842.3,636.2 842.2,631.6C842.2,626.9 842.1,622.2 842.1,617.6C842.0,612.9 842.0,608.2 842.0,603.6C841.9,598.6 841.9,593.6 841.9,588.6C841.9,583.9 841.9,579.2 841.9,574.6C841.9,569.9 841.9,565.2 842.0,560.6C842.0,555.9 842.1,551.2 842.1,546.6C842.2,541.9 842.2,537.2 842.4,532.6C842.7,527.9 842.9,523.2 843.5,518.6C844.3,513.7 845.2,508.8 846.7,504.0C848.1,499.6 849.8,495.3 852.3,491.4C854.8,487.5 858.1,484.2 861.3,480.9C864.6,477.7 868.4,474.9 872.0,471.9"/>
<path d="M488.5,906.8C493.1,907.2 497.8,907.2 502.4,908.0C507.0,908.8 511.5,909.8 515.8,911.5C520.1,913.3 523.9,916.0 528.0,918.3C532.0,920.7 535.8,923.3 539.9,925.7C543.9,928.0 548.1,930.1 552.2,932.3C556.4,934.4 560.6,936.5 564.8,938.5C569.0,940.5 573.3,942.4 577.5,944.3C581.8,946.2 586.1,948.1 590.4,949.9C594.8,951.6 599.1,953.3 603.6,954.7C608.0,956.1 612.5,957.4 617.1,958.4C621.6,959.5 626.2,960.4 630.8,961.2C635.4,961.9 640.0,962.5 644.7,963.0C649.3,963.5 654.0,963.8 658.6,964.1C663.3,964.5 668.0,964.6 672.6,964.9C677.3,965.2 682.0,965.5 686.6,965.9C691.3,966.2 695.9,966.7 700.6,967.1C704.9,967.5 709.2,967.9 713.5,968.3C718.2,968.7 722.8,969.2 727.5,969.7C732.1,970.2 736.8,970.8 741.4,971.4C746.0,972.1 750.6,972.8 755.2,973.8C759.8,974.7 764.3,975.7 768.8,977.0C773.3,978.3 777.7,979.9 782.1,981.5C786.5,983.1 790.8,984.9 795.2,986.5C799.5,988.2 803.9,989.8 808.3,991.6C812.6,993.3 816.9,995.1 821.0,997.2C825.2,999.3 829.2,1001.7 833.2,1004.1C837.3,1006.5 841.2,1009.0 845.1,1011.6C849.0,1014.1 852.8,1016.8 856.6,1019.6C860.4,1022.3 864.0,1025.3 867.6,1028.2C871.2,1031.2 874.8,1034.2 878.4,1037.2C882.0,1040.1 885.6,1043.1 889.3,1046.0C893.0,1048.8 896.7,1051.7 900.4,1054.5C904.2,1057.2 908.1,1059.8 912.0,1062.4"/>
<path d="M521.3,694.1C525.2,696.7 529.3,699.0 532.9,702.0C536.5,704.9 540.0,708.0 543.1,711.5C546.2,714.9 549.0,718.7 551.6,722.6C554.4,726.7 556.9,731.1 559.3,735.5C561.4,739.7 563.3,744.0 565.1,748.3C566.9,752.6 568.6,757.0 570.2,761.4C571.8,765.7 573.3,770.2 574.8,774.6C576.3,779.0 577.8,783.5 579.5,787.9C581.1,792.3 582.8,796.6 584.5,801.0C586.3,805.3 588.1,809.6 589.8,814.0C591.7,818.6 593.4,823.3 595.3,828.0C597.1,832.3 598.8,836.6 600.8,840.9C602.7,845.2 604.9,849.3 607.0,853.5C609.1,857.7 611.3,861.8 613.4,866.0"/>
<path d="M515.3,701.3C519.0,704.1 522.9,706.8 526.5,709.7C530.2,712.7 533.8,715.6 537.1,718.9C540.3,722.3 543.2,726.0 545.9,729.8C548.6,733.6 551.0,737.6 553.3,741.7C555.7,745.7 557.9,749.9 560.0,754.1C562.0,758.2 564.0,762.5 565.7,766.9C567.4,771.2 569.0,775.6 570.4,780.1C571.9,784.5 573.1,789.1 574.4,793.5C575.7,798.0 577.0,802.5 578.4,807.0C579.7,811.5 581.1,816.0 582.6,820.4C584.1,824.8 585.6,829.3 587.5,833.6C589.4,837.8 591.4,842.0 594.0,845.9C596.6,849.7 599.9,853.1 603.1,856.4C606.4,859.8 610.0,862.8 613.4,866.0"/>
<path d="M509.7,801.5C514.3,802.3 519.0,802.6 523.5,803.9C528.0,805.1 532.3,806.9 536.5,809.0C540.3,811.0 543.9,813.6 547.4,816.2C551.2,819.0 554.8,822.0 558.3,825.1C561.7,828.3 564.9,831.7 568.2,835.0C571.6,838.4 574.7,841.9 578.2,845.0C581.5,847.9 584.9,850.6 588.5,853.0C592.4,855.6 596.5,857.9 600.6,860.1C604.8,862.3 609.1,864.0 613.4,866.0"/>
<path d="M488.5,906.8C493.5,906.3 498.5,905.8 503.5,905.3C508.2,904.8 512.9,904.5 517.5,903.6C522.4,902.7 527.3,901.6 532.1,900.1C536.8,898.5 541.4,896.4 545.9,894.3C550.2,892.3 554.3,890.0 558.4,887.8C562.9,885.6 567.4,883.2 571.9,881.1C576.5,879.0 581.1,877.0 585.8,875.1C590.1,873.4 594.5,871.7 598.9,870.3C603.7,868.7 608.6,867.4 613.4,866.0"/>
<path d="M267.8,657.0L332.2,657.3"/>
<path d="M267.8,657.0C271.9,654.9 276.4,653.3 280.2,650.7C284.0,648.1 287.7,645.3 290.4,641.7C293.2,638.1 294.8,633.6 296.3,629.3C297.9,624.9 298.8,620.3 299.7,615.7C300.6,611.2 301.2,606.5 301.7,601.9C302.3,597.6 302.6,593.3 303.0,588.9C303.3,584.3 303.6,579.6 303.9,575.0C304.1,570.3 304.3,565.6 304.4,561.0C304.5,556.3 304.6,551.6 304.5,546.9C304.5,542.3 304.4,537.6 304.4,532.9C304.3,528.3 304.2,523.6 304.1,518.9C304.0,514.3 303.9,509.6 303.8,504.9C303.7,500.3 303.6,495.6 303.5,490.9C303.4,486.2 303.3,481.6 303.2,476.9C303.1,472.2 303.0,467.6 303.0,462.9C302.9,458.2 302.7,453.6 302.7,448.9C302.6,444.6 302.5,440.2 302.5,435.9C302.5,431.2 302.5,426.5 302.6,421.9C302.8,417.2 303.0,412.5 303.3,407.9C303.6,403.2 304.0,398.6 304.6,393.9C305.2,389.3 305.7,384.7 306.8,380.1C307.8,375.6 309.1,371.1 310.8,366.8C312.6,362.5 314.9,358.4 317.4,354.5C319.9,350.6 322.8,346.9 325.9,343.4C328.9,339.9 332.2,336.6 335.6,333.4C339.1,330.2 342.7,327.3 346.4,324.5C350.1,321.7 354.0,319.0 357.9,316.5C361.9,314.1 366.0,311.8 370.2,309.7C374.0,307.8 378.0,306.1 382.1,304.7C386.5,303.2 391.1,302.1 395.6,301.2C400.2,300.4 404.9,300.0 409.5,299.8C414.2,299.5 418.9,299.5 423.5,299.6C428.2,299.7 432.8,300.1 437.5,300.3C442.2,300.5 446.8,300.7 451.5,300.8C456.2,300.9 460.8,301.0 465.5,301.1C470.2,301.1 474.8,301.1 479.5,300.9C484.2,300.8 488.8,300.5 493.5,300.1C498.1,299.8 502.8,299.2 507.4,298.7C512.1,298.1 516.7,297.4 521.3,296.6C525.6,295.9 529.8,295.1 534.1,294.2C538.6,293.2 543.2,292.1 547.7,290.9C552.2,289.7 556.6,288.3 561.1,286.9C565.5,285.4 569.9,283.8 574.3,282.2C578.7,280.6 583.0,278.8 587.4,277.2C591.7,275.6 596.1,273.9 600.5,272.3"/>
<path d="M267.8,657.0C272.4,656.2 277.0,655.6 281.6,654.6C286.1,653.7 290.8,653.2 295.1,651.4C299.3,649.7 303.4,647.4 306.6,644.3C309.8,641.0 312.1,636.9 313.9,632.7C315.7,628.5 316.6,623.9 317.2,619.3C317.9,614.7 317.8,610.0 317.8,605.3C317.8,600.7 317.5,596.0 317.3,591.4C317.1,586.7 316.9,582.0 316.8,577.4C316.6,572.7 316.4,568.0 316.1,563.4C315.9,558.7 315.6,554.1 315.3,549.4C314.9,544.8 314.5,540.1 314.0,535.5C313.4,530.8 312.8,526.2 312.1,521.6C311.5,517.0 310.7,512.4 310.1,507.7C309.4,503.1 308.8,498.5 308.3,493.9C307.7,489.2 307.1,484.6 306.7,479.9C306.2,475.3 305.8,470.6 305.7,466.0C305.5,461.3 305.5,456.7 305.8,452.0C306.1,447.4 306.6,442.7 307.6,438.2C308.6,433.6 309.8,429.1 311.8,424.9C313.7,420.8 316.4,417.0 319.4,413.5C322.4,409.9 326.0,406.9 329.5,403.8C333.0,400.7 336.6,397.8 340.3,394.9C344.0,392.1 347.8,389.3 351.6,386.7C355.7,383.9 360.0,381.2 364.2,378.6C368.2,376.2 372.2,373.8 376.3,371.5C380.4,369.3 384.5,367.0 388.7,365.0C392.9,363.0 397.2,361.0 401.5,359.3C405.8,357.5 410.2,355.9 414.6,354.5C419.0,353.0 423.4,351.4 428.0,350.4C432.5,349.4 437.1,348.8 441.8,348.5C446.4,348.3 451.1,348.7 455.7,348.7C460.4,348.8 465.1,349.0 469.7,348.9C474.4,348.8 479.1,348.6 483.7,348.3C488.4,348.0 493.0,347.6 497.6,347.0C502.3,346.4 506.9,345.7 511.5,344.9C516.1,344.1 520.7,343.2 525.2,342.1C529.7,341.0 534.3,340.0 538.7,338.4C543.0,336.8 547.3,334.9 551.3,332.6C555.3,330.2 558.7,327.0 562.5,324.4C566.3,321.7 570.1,319.0 574.2,316.9C578.4,314.8 582.9,313.5 587.3,312.1C591.7,310.7 596.3,309.6 600.8,308.5C605.3,307.4 609.9,306.5 614.5,305.4C619.0,304.4 623.6,303.5 628.1,302.4C632.7,301.3 637.2,300.2 641.7,298.8C646.2,297.5 650.5,295.9 655.0,294.5C659.4,293.1 663.9,291.7 668.4,290.6C672.9,289.4 677.5,288.5 682.1,287.5C686.6,286.6 691.2,285.7 695.8,285.0C700.4,284.3 705.1,283.6 709.7,283.2C714.4,282.8 719.0,282.6 723.7,282.5C728.3,282.5 733.0,282.8 737.6,283.2C742.3,283.5 746.9,284.1 751.5,284.9C756.1,285.7 760.7,286.5 765.2,287.7C769.7,288.9 774.1,290.4 778.5,292.1C782.9,293.7 787.1,295.6 791.3,297.7C795.5,299.7 799.7,301.7 803.7,304.1C807.7,306.6 811.6,309.1 815.1,312.2C818.5,315.3 821.6,318.8 824.4,322.5C827.3,326.2 829.6,330.2 832.1,334.1C834.6,338.1 837.0,342.1 839.3,346.1C841.7,350.2 843.7,354.4 846.2,358.4C848.6,362.3 851.1,366.3 854.1,369.8C857.0,373.4 860.4,376.7 863.9,379.6C867.5,382.6 871.4,385.3 875.4,387.6C879.4,389.9 883.7,391.8 888.0,393.4C892.4,395.1 896.9,396.4 901.4,397.4C906.0,398.5 910.6,399.2 915.2,399.6C920.2,400.1 925.2,400.1 930.2,400.0C934.8,399.9 939.5,399.3 944.1,398.9C948.8,398.4 953.4,397.9 958.0,397.3C962.6,396.7 967.3,396.1 971.9,395.4C976.5,394.7 981.1,393.9 985.7,393.3C990.3,392.7 995.0,392.0 999.6,391.8C1004.3,391.6 1009.0,391.5 1013.6,391.9C1018.2,392.3 1022.9,392.9 1027.4,394.0C1031.9,395.0 1036.4,396.4 1040.7,398.1C1045.0,399.9 1049.3,401.8 1053.3,404.2C1057.3,406.5 1061.1,409.2 1064.7,412.2C1068.2,415.2 1071.5,418.5 1074.4,422.1C1077.3,425.7 1079.8,429.7 1082.0,433.8C1084.1,437.9 1085.8,442.3 1087.3,446.7C1088.7,451.1 1089.8,455.7 1090.7,460.2C1091.6,464.8 1092.2,469.4 1092.7,474.1C1093.2,478.7 1093.6,483.4 1093.8,488.0C1094.0,492.7 1094.1,497.3 1093.8,502.0C1093.6,506.7 1092.9,511.3 1092.5,515.9C1092.0,520.6 1091.5,525.2 1091.3,529.9C1091.2,534.5 1091.1,539.2 1091.6,543.8C1092.0,548.4 1092.5,553.1 1094.0,557.5C1095.5,561.8 1097.5,566.0 1100.5,569.5C1103.4,573.0 1107.6,575.0 1111.2,577.8"/>
<path d="M203.9,955.6C208.6,955.3 213.2,955.3 217.9,954.7C222.4,954.2 227.2,954.1 231.5,952.4C235.6,950.8 239.6,948.3 242.7,945.1C245.8,941.8 247.8,937.5 249.7,933.3C251.6,929.0 252.7,924.5 254.0,920.0C255.2,915.5 256.1,910.9 257.0,906.3C258.0,901.8 258.8,897.2 259.6,892.6C260.5,888.0 261.1,883.4 261.9,878.8C262.8,874.2 263.6,869.6 264.8,865.1C266.0,860.6 267.6,856.2 269.0,851.8C270.3,847.3 271.8,842.9 272.9,838.4C274.0,833.8 274.7,829.2 275.5,824.6C276.2,820.0 276.9,815.4 277.5,810.8C278.1,806.1 278.7,801.5 279.2,796.9C279.7,792.2 280.2,787.6 280.7,782.9C281.1,778.3 281.6,773.6 282.0,769.0C282.3,764.3 282.7,759.7 283.0,755.0C283.3,750.4 283.5,745.7 283.7,741.0C283.9,736.4 284.1,731.7 284.3,727.1C284.4,722.4 284.5,717.7 284.6,713.1C284.8,708.4 284.8,703.7 284.9,699.1C285.0,694.4 285.0,689.7 285.1,685.1C285.1,680.4 285.2,675.7 285.2,671.1C285.2,666.4 285.3,661.7 285.3,657.0C285.3,652.4 285.3,647.7 285.3,643.0C285.3,638.4 285.3,633.7 285.4,629.0C285.4,624.4 285.4,619.7 285.4,615.0C285.4,610.4 285.5,605.7 285.5,601.0C285.5,596.4 285.6,591.7 285.6,587.0C285.6,582.4 285.6,577.7 285.7,573.0C285.7,568.4 285.7,563.7 285.7,559.0C285.7,554.4 285.8,549.7 285.8,545.0C285.8,540.4 285.9,535.7 285.9,531.0C285.9,526.4 286.0,521.7 286.0,517.0C286.1,512.0 286.1,507.0 286.2,502.0C286.3,497.4 286.4,492.7 286.5,488.0C286.6,483.4 286.7,478.7 286.9,474.0C287.0,469.4 287.3,464.7 287.5,460.0C287.8,455.4 288.0,450.7 288.4,446.1C288.7,441.4 289.0,436.7 289.5,432.1C289.9,427.5 290.3,422.8 290.9,418.2C291.5,413.6 292.2,408.9 293.1,404.3C294.0,399.8 295.0,395.2 296.1,390.7C297.2,386.1 298.4,381.6 299.7,377.2C301.1,372.7 302.4,368.2 304.1,363.9C305.7,359.5 307.4,355.1 309.4,351.0C311.5,346.8 313.8,342.7 316.4,338.8C318.9,335.0 321.9,331.3 324.9,327.8C328.0,324.3 331.3,321.0 334.7,317.8C338.0,314.6 341.6,311.5 345.2,308.6C348.9,305.7 352.7,303.0 356.6,300.5C360.6,298.0 364.6,295.7 368.8,293.6C372.9,291.5 377.2,289.5 381.5,287.9C385.9,286.3 390.4,285.0 394.9,284.1C399.5,283.2 404.2,282.8 408.8,282.5C413.5,282.2 418.1,282.1 422.8,282.1C427.5,282.1 432.1,282.3 436.8,282.4C441.5,282.6 446.1,282.8 450.8,283.1C455.4,283.3 460.1,283.6 464.8,283.8C469.4,283.9 474.1,284.1 478.8,284.1C483.4,284.1 488.1,283.9 492.7,283.6C497.4,283.3 502.0,282.8 506.7,282.3C511.3,281.7 515.9,281.0 520.5,280.2C525.1,279.4 529.7,278.6 534.3,277.6C538.8,276.6 543.4,275.5 547.9,274.2C552.4,273.0 556.8,271.6 561.2,270.1C565.7,268.6 570.0,266.9 574.4,265.3C578.7,263.6 583.1,261.9 587.4,260.2C591.8,258.5 596.1,256.9 600.5,255.2"/>
<path d="M203.9,955.6C208.6,955.3 213.2,955.2 217.9,954.7C222.5,954.1 227.2,953.9 231.6,952.4C235.8,950.9 240.0,948.8 243.4,945.8C246.8,942.7 249.3,938.8 251.4,934.7C253.6,930.6 254.8,926.1 256.1,921.6C257.4,917.1 258.2,912.5 259.1,907.9C260.1,903.4 260.9,898.8 261.8,894.2C262.6,889.6 263.2,885.0 264.1,880.4C264.9,875.8 265.7,871.2 266.8,866.6C267.9,862.1 269.5,857.7 270.9,853.3C272.2,848.8 273.8,844.4 274.9,839.9C276.0,835.7 276.6,831.4 277.3,827.1C278.0,822.5 278.6,817.9 279.1,813.2C279.7,808.6 280.2,804.0 280.7,799.3C281.2,794.7 281.6,790.0 282.0,785.4C282.4,780.7 282.8,776.0 283.2,771.4C283.5,766.7 283.8,762.1 284.1,757.4C284.3,752.7 284.6,748.1 284.7,743.4C284.9,738.7 285.1,734.1 285.2,729.4C285.4,724.7 285.5,720.1 285.6,715.4C285.7,710.7 285.8,706.1 285.8,701.4C285.9,696.7 286.0,692.1 286.0,687.4C286.1,682.7 286.1,678.0 286.1,673.4C286.2,668.7 286.2,664.0 286.2,659.4C286.2,654.7 286.3,650.0 286.3,645.3C286.3,640.7 286.3,636.0 286.3,631.3C286.4,626.7 286.4,622.0 286.4,617.3C286.4,612.6 286.5,608.0 286.5,603.3C286.5,598.6 286.5,594.0 286.6,589.3C286.6,584.6 286.6,580.0 286.6,575.3C286.7,570.6 286.7,565.9 286.7,561.3C286.7,556.6 286.7,551.9 286.8,547.3C286.8,542.9 286.8,538.6 286.9,534.2C286.9,529.6 287.0,524.9 287.0,520.2C287.1,515.6 287.1,510.9 287.2,506.2C287.2,501.6 287.3,496.9 287.4,492.2C287.5,487.5 287.6,482.9 287.8,478.2C287.9,473.5 288.0,468.9 288.2,464.2C288.4,459.5 288.6,454.9 289.0,450.2C289.3,445.6 289.7,440.9 290.3,436.3C290.9,431.6 291.5,427.0 292.6,422.5C293.7,418.0 295.0,413.5 296.9,409.2C298.7,404.9 301.1,400.9 303.6,397.0C306.2,393.1 309.1,389.4 312.2,386.0C315.4,382.6 318.9,379.5 322.5,376.6C326.1,373.6 329.9,370.9 333.7,368.2C337.5,365.5 341.3,362.8 345.3,360.3C349.2,357.8 353.2,355.4 357.3,353.1C361.4,350.9 365.6,348.8 369.8,346.7C374.0,344.7 378.2,342.7 382.5,340.9C386.8,339.0 391.1,337.3 395.5,335.7C399.9,334.2 404.4,332.8 408.9,331.6C413.4,330.3 417.9,329.3 422.5,328.5C427.1,327.8 431.8,327.4 436.4,327.0C441.1,326.5 445.7,326.1 450.4,325.7C454.7,325.4 459.0,324.9 463.3,324.6C468.0,324.2 472.7,323.8 477.3,323.6C482.0,323.4 486.6,323.2 491.3,323.2C496.0,323.2 500.7,323.3 505.3,323.5C510.0,323.7 514.6,324.0 519.3,324.4C524.0,324.8 528.6,325.2 533.3,325.7C537.9,326.2 542.5,326.7 547.2,327.3C551.8,327.8 556.4,328.5 561.1,329.2C565.7,329.9 570.3,330.7 574.9,331.4C579.5,332.2 584.1,333.0 588.7,333.8C593.3,334.6 597.9,335.4 602.5,336.2"/>
<path d="M203.9,955.6C208.6,955.3 213.2,955.2 217.9,954.7C222.5,954.1 227.2,953.9 231.6,952.4C235.8,950.9 240.0,948.8 243.4,945.8C246.8,942.7 249.3,938.8 251.5,934.7C253.6,930.6 254.8,926.1 256.1,921.6C257.4,917.1 258.2,912.5 259.1,907.9C260.1,903.4 260.9,898.8 261.8,894.2C262.6,889.6 263.2,884.9 264.1,880.3C264.9,875.8 265.6,871.1 266.8,866.6C268.0,862.1 269.6,857.7 271.1,853.3C272.5,848.9 274.1,844.5 275.3,840.0C276.4,835.5 277.1,830.9 277.8,826.2C278.6,821.6 279.1,817.0 279.7,812.4C280.2,807.7 280.7,803.1 281.2,798.4C281.7,793.8 282.1,789.1 282.6,784.5C283.0,779.8 283.4,775.2 283.9,770.5C284.3,765.9 284.7,761.2 285.0,756.6C285.4,751.9 285.7,747.2 286.0,742.6C286.2,737.9 286.5,733.2 286.7,728.6C286.9,723.9 287.0,719.2 287.1,714.6C287.2,709.9 287.3,705.2 287.4,700.6C287.5,695.9 287.5,691.2 287.6,686.6C287.6,681.9 287.7,677.2 287.7,672.5C287.7,667.9 287.8,663.2 287.8,658.5C287.8,653.9 287.8,649.2 287.8,644.5C287.8,639.8 287.8,635.2 287.8,630.5C287.8,625.8 287.9,621.2 287.9,616.5C287.9,611.8 287.9,607.1 288.0,602.5C288.0,597.8 288.1,593.1 288.1,588.5C288.2,583.8 288.2,579.1 288.3,574.4C288.3,569.8 288.4,565.1 288.4,560.4C288.5,555.8 288.6,551.1 288.6,546.4C288.7,541.7 288.8,537.1 288.8,532.4C288.9,527.7 289.0,523.1 289.0,518.4C289.1,513.7 289.1,509.0 289.2,504.4C289.3,499.7 289.3,495.0 289.4,490.4C289.5,485.7 289.6,481.0 289.8,476.4C289.9,471.7 290.1,467.0 290.4,462.4C290.6,457.7 290.9,453.0 291.3,448.4C291.6,443.7 292.0,439.1 292.5,434.4C293.1,429.8 293.7,425.2 294.6,420.6C295.6,416.0 296.8,411.5 298.0,407.0C299.2,402.5 300.4,398.0 301.6,393.5C302.8,388.9 303.9,384.4 305.3,380.0C306.7,375.5 308.3,371.1 310.1,366.8C311.9,362.5 313.9,358.3 316.2,354.2C318.5,350.2 321.1,346.2 323.7,342.4C326.4,338.6 329.2,334.8 332.1,331.2C335.1,327.6 338.2,324.1 341.4,320.7C344.6,317.3 347.9,314.0 351.3,310.9C354.7,307.7 358.3,304.6 361.8,301.6C365.4,298.6 369.1,295.7 372.9,293.0C376.7,290.3 380.5,287.6 384.6,285.3C388.6,282.9 392.8,280.8 396.9,278.7C401.1,276.6 405.4,274.8 409.6,272.8C413.9,270.8 418.0,268.7 422.3,266.8C426.5,264.9 430.8,263.0 435.2,261.4C439.6,259.8 444.1,258.5 448.5,257.1C453.0,255.7 457.5,254.5 462.0,253.2C466.5,251.9 471.0,250.6 475.5,249.4C480.0,248.2 484.5,246.9 489.0,245.8C493.5,244.6 498.1,243.5 502.6,242.4C507.1,241.3 511.7,240.3 516.3,239.3C520.8,238.3 525.4,237.4 530.0,236.5C534.6,235.7 539.2,234.9 543.8,234.2C548.4,233.4 553.0,232.7 557.7,232.1C562.3,231.4 566.9,230.8 571.6,230.1C576.2,229.5 580.8,228.9 585.4,228.2C590.1,227.6 594.7,226.9 599.3,226.2"/>
<path d="M203.9,955.6C208.6,955.3 213.2,955.2 217.9,954.7C222.5,954.3 227.2,954.1 231.6,952.7C236.0,951.4 240.4,949.7 244.1,947.0C247.8,944.3 251.0,940.8 253.4,937.0C255.8,933.1 257.2,928.6 258.5,924.2C259.8,919.7 260.4,915.1 261.3,910.5C262.2,905.6 263.1,900.6 263.9,895.7C264.7,891.1 265.3,886.5 266.2,881.9C267.0,877.3 267.7,872.6 268.9,868.1C270.1,863.6 271.9,859.3 273.5,854.9C275.0,850.6 277.1,846.4 278.4,841.9C279.6,837.4 280.3,832.8 281.0,828.2C281.7,823.6 282.1,818.9 282.6,814.3C283.0,809.6 283.3,805.0 283.6,800.3C284.0,795.6 284.3,791.0 284.6,786.3C284.9,781.7 285.2,777.0 285.5,772.3C285.8,767.7 286.1,763.0 286.4,758.3C286.7,753.7 286.9,749.0 287.1,744.3C287.3,739.3 287.5,734.3 287.7,729.3C287.9,724.7 288.0,720.0 288.1,715.3C288.2,710.7 288.3,706.0 288.4,701.3C288.5,696.7 288.5,692.0 288.6,687.3C288.6,682.6 288.7,678.0 288.7,673.3C288.8,668.6 288.8,663.9 288.8,659.3C288.9,654.6 288.9,649.9 288.9,645.3C289.0,640.6 289.0,635.9 289.1,631.2C289.1,626.6 289.2,621.9 289.2,617.2C289.3,612.6 289.4,607.9 289.4,603.2C289.5,598.5 289.6,593.9 289.7,589.2C289.8,584.5 289.8,579.9 289.9,575.2C290.0,570.5 290.1,565.8 290.2,561.2C290.3,556.2 290.4,551.2 290.6,546.2C290.8,541.5 291.0,536.8 291.2,532.2C291.5,527.5 291.8,522.8 292.2,518.2C292.6,513.5 293.1,508.9 293.7,504.3C294.3,499.6 295.0,495.0 295.8,490.4C296.5,485.8 297.4,481.2 298.2,476.6C299.1,472.0 300.0,467.4 301.1,462.9C302.2,458.4 303.4,453.8 304.8,449.4C306.3,445.0 307.8,440.5 309.7,436.3C311.7,432.1 313.9,427.9 316.4,424.0C318.9,420.1 321.8,416.4 324.8,412.9C327.9,409.4 331.3,406.1 334.7,403.0C338.2,399.9 341.9,397.0 345.7,394.3C349.7,391.4 354.0,388.7 358.2,386.1C362.2,383.7 366.4,381.5 370.5,379.3C374.7,377.2 378.8,375.1 383.1,373.2C387.4,371.3 391.7,369.6 396.1,368.0C400.5,366.4 405.0,365.3 409.4,363.7C413.8,362.2 418.2,360.6 422.5,358.8C426.8,357.0 430.8,354.6 435.1,352.9C439.4,351.2 443.9,349.9 448.4,348.6C452.9,347.3 457.4,346.2 462.0,345.1C466.5,344.1 471.1,343.0 475.7,342.2C480.3,341.4 484.9,340.6 489.5,340.1C494.1,339.5 498.8,339.2 503.5,339.0C508.5,338.7 513.5,338.8 518.5,338.8C523.2,338.9 527.8,339.1 532.5,339.2C537.2,339.4 541.8,339.5 546.5,339.7C551.2,339.8 555.8,340.0 560.5,340.2C565.2,340.3 569.8,340.6 574.5,340.8C579.2,341.0 583.8,341.3 588.5,341.5C593.2,341.7 597.8,342.0 602.5,342.2"/>
<path d="M203.9,955.6C208.6,955.4 213.3,955.4 217.9,955.0C222.5,954.6 227.2,954.5 231.7,953.3C236.2,952.1 240.6,950.5 244.5,948.0C248.3,945.6 251.8,942.4 254.6,938.7C257.4,935.1 259.2,930.8 260.9,926.5C262.5,922.4 263.3,918.1 264.3,913.9C265.4,909.4 266.3,904.8 267.3,900.2C268.2,895.7 269.1,891.1 270.0,886.5C270.9,881.9 271.6,877.3 272.6,872.7C273.6,868.1 274.7,863.6 276.0,859.1C277.3,854.6 278.9,850.2 280.6,845.9C282.3,841.5 284.2,837.3 286.2,833.0C288.1,828.7 290.2,824.6 292.1,820.3C294.0,816.0 295.9,811.7 297.6,807.4C299.4,803.1 301.0,798.7 302.8,794.4C304.5,790.0 306.2,785.7 308.0,781.3C309.7,777.3 311.5,773.4 313.3,769.4C315.3,765.2 317.3,761.0 319.5,756.9C321.7,752.7 323.9,748.6 326.3,744.6C328.7,740.6 331.2,736.7 333.9,732.8C336.6,729.0 339.4,725.3 342.4,721.7C345.4,718.1 348.6,714.7 351.7,711.2"/>
<path d="M203.9,955.6C208.6,956.0 213.2,956.2 217.9,956.8C222.1,957.4 226.5,957.7 230.6,959.0C235.0,960.3 239.3,962.3 243.2,964.6C247.0,966.8 250.3,969.7 253.6,972.4C257.2,975.4 260.6,978.6 264.0,981.8C267.2,984.8 270.3,987.9 273.3,990.9C276.6,994.3 279.9,997.6 283.1,1001.0C286.1,1004.1 289.1,1007.3 292.1,1010.4C295.4,1013.7 298.6,1017.1 302.0,1020.3C305.2,1023.3 308.4,1026.2 311.8,1028.9C315.5,1031.7 319.3,1034.5 323.3,1036.9C326.9,1039.2 330.8,1041.3 334.8,1042.8C339.1,1044.5 343.7,1045.3 348.2,1046.6"/>
<path d="M201.7,1132.1C206.4,1131.7 211.0,1131.6 215.7,1131.0C220.2,1130.5 224.9,1130.2 229.3,1128.7C233.7,1127.2 237.8,1125.0 241.5,1122.3C245.2,1119.5 248.4,1116.1 251.3,1112.5C254.2,1108.9 256.7,1104.9 258.7,1100.7C260.7,1096.5 262.1,1092.1 263.3,1087.6C264.5,1083.1 265.0,1078.4 265.7,1073.8C266.5,1069.2 267.0,1064.6 267.8,1060.0C268.6,1055.4 269.5,1050.8 270.4,1046.2C271.3,1041.6 272.2,1037.1 273.2,1032.5C274.1,1027.6 275.1,1022.7 276.1,1017.8C277.1,1013.2 278.1,1008.6 279.0,1004.1C280.0,999.5 280.9,994.9 281.7,990.3C282.5,985.7 283.1,981.1 283.7,976.5C284.3,971.8 284.8,967.2 285.3,962.5C285.7,957.9 286.2,953.2 286.5,948.6C286.9,943.9 287.2,939.3 287.5,934.6C287.8,929.9 288.0,925.3 288.2,920.6C288.3,915.9 288.4,911.3 288.5,906.6C288.7,901.9 288.8,897.3 288.9,892.6C289.0,887.9 289.2,883.3 289.4,878.6C289.5,873.9 289.7,869.3 289.9,864.6C290.1,859.9 290.2,855.3 290.3,850.6C290.5,845.9 290.6,841.2 290.6,836.6C290.7,831.9 290.7,827.2 290.7,822.6C290.7,817.9 290.7,813.2 290.6,808.6C290.6,803.9 290.6,799.2 290.6,794.5C290.5,789.9 290.5,785.2 290.5,780.5C290.5,775.9 290.5,771.2 290.5,766.5C290.4,761.9 290.4,757.2 290.4,752.5C290.4,747.5 290.4,742.5 290.4,737.5C290.5,732.8 290.5,728.2 290.7,723.5C290.8,718.8 291.1,714.2 291.5,709.5C291.9,704.9 292.5,700.2 293.1,695.6C293.7,691.0 294.5,686.4 295.2,681.7C296.0,677.1 296.8,672.5 297.7,668.0C298.6,663.4 299.5,658.8 300.5,654.2C301.6,649.7 302.6,645.1 303.9,640.6C305.1,636.1 306.2,631.6 308.0,627.3C309.7,623.0 311.8,618.8 314.2,614.9C316.5,610.9 319.3,607.1 322.1,603.4C324.9,599.6 327.7,595.9 330.9,592.5C334.1,589.1 337.5,585.9 341.2,583.1C344.9,580.2 348.9,577.8 352.9,575.6C357.0,573.3 361.3,571.5 365.6,569.7C370.0,567.9 374.4,566.4 378.8,564.9C383.2,563.5 387.7,562.2 392.2,560.9C396.7,559.7 401.2,558.5 405.8,557.3C410.3,556.2 414.8,555.0 419.4,553.9C423.9,552.8 428.4,551.7 433.0,550.6C437.5,549.5 442.0,548.4 446.6,547.3C451.5,546.2 456.3,545.1 461.2,544.1C465.8,543.1 470.4,542.3 475.0,541.5C479.6,540.6 484.2,539.9 488.8,539.1C493.4,538.4 498.0,537.6 502.7,536.9C507.3,536.2 511.9,535.5 516.5,534.8C521.1,534.2 525.8,533.6 530.4,533.0C535.0,532.4 539.7,531.9 544.3,531.4C549.0,530.9 553.6,530.4 558.3,530.0C562.9,529.6 567.6,529.2 572.2,528.9C576.9,528.5 581.5,528.2 586.2,528.0C590.9,527.7 595.5,527.4 600.2,527.2C604.9,527.0 609.5,526.8 614.2,526.7C618.9,526.5 623.5,526.4 628.2,526.3C632.9,526.2 637.5,526.2 642.2,526.1C646.9,526.1 651.6,526.1 656.2,526.1C660.9,526.1 665.6,526.1 670.2,526.2C674.9,526.2 679.6,526.3 684.3,526.4C688.9,526.5 693.6,526.6 698.3,526.8C702.9,527.0 707.6,527.2 712.2,527.5C716.9,527.8 721.6,528.1 726.2,528.5C731.2,529.0 736.2,529.5 741.1,530.2C745.8,530.8 750.4,531.6 755.0,532.4C759.6,533.2 764.2,534.0 768.8,534.8C773.4,535.6 778.0,536.4 782.5,537.4C787.1,538.4 791.7,539.4 796.1,540.7C800.6,542.1 805.0,543.6 809.3,545.4C813.6,547.2 817.9,549.2 822.0,551.3C826.1,553.4 830.2,555.8 834.1,558.3C838.1,560.7 842.0,563.3 845.9,565.9C849.8,568.5 853.5,571.3 857.3,574.0C861.1,576.7 864.8,579.5 868.6,582.3"/>
<path d="M201.7,1132.1C206.4,1131.8 211.0,1131.8 215.7,1131.3C220.3,1130.9 225.0,1130.7 229.4,1129.3C233.8,1128.0 237.9,1125.9 241.7,1123.2C245.4,1120.5 248.7,1117.1 251.6,1113.5C254.5,1110.0 257.1,1106.0 259.2,1101.9C261.2,1097.7 262.8,1093.3 264.0,1088.8C265.2,1084.3 265.8,1079.7 266.6,1075.1C267.4,1070.2 268.0,1065.2 268.8,1060.3C269.6,1055.7 270.6,1051.1 271.4,1046.5C272.3,1041.9 273.2,1037.3 274.2,1032.8C275.1,1028.2 276.0,1023.6 276.9,1019.0C277.8,1014.4 278.8,1009.9 279.8,1005.3C280.7,1000.7 281.7,996.2 282.5,991.6C283.3,987.0 283.9,982.3 284.5,977.7C285.2,973.1 285.7,968.4 286.1,963.8C286.6,959.2 287.0,954.5 287.4,949.8C287.8,945.2 288.2,940.5 288.4,935.9C288.7,931.2 289.0,926.6 289.1,921.9C289.3,917.2 289.4,912.6 289.6,907.9C289.7,903.2 289.8,898.5 289.9,893.9C290.0,889.2 290.0,884.5 290.0,879.9C290.1,874.9 290.1,869.9 290.2,864.9C290.3,860.2 290.6,855.5 290.8,850.9C291.0,846.2 291.2,841.5 291.6,836.9C291.9,832.2 292.2,827.6 292.7,822.9C293.2,818.3 293.8,813.6 294.6,809.0C295.4,804.5 296.4,799.9 297.6,795.4C298.8,790.9 300.3,786.4 301.9,782.1C303.5,777.7 305.2,773.3 307.2,769.1C309.3,765.0 311.4,760.8 314.1,757.0C316.7,753.2 319.6,749.5 323.1,746.5C326.6,743.5 330.6,741.0 334.7,739.0C338.9,737.0 343.4,735.6 347.9,734.4C352.4,733.1 357.0,732.4 361.6,731.6C366.2,730.9 370.8,730.4 375.5,730.0C380.5,729.6 385.5,729.3 390.5,729.0C395.1,728.8 399.8,728.8 404.5,728.7C409.1,728.7 413.8,728.9 418.5,729.0C423.1,729.1 427.8,729.3 432.5,729.4C437.1,729.6 441.8,729.8 446.5,730.0C451.1,730.3 455.8,730.5 460.5,730.8C465.1,731.1 469.8,731.4 474.4,731.8C479.1,732.1 483.7,732.5 488.4,733.0C493.0,733.5 497.7,734.2 502.2,735.0C506.8,735.8 511.4,736.8 515.9,738.0C520.4,739.1 524.9,740.4 529.3,742.0C533.7,743.6 538.0,745.3 542.2,747.5C546.3,749.7 550.3,752.1 553.9,755.0C557.5,757.9 560.7,761.3 563.5,764.9C566.6,768.9 569.1,773.3 571.5,777.6C573.8,781.7 575.7,785.9 577.7,790.2C579.6,794.4 581.4,798.8 583.1,803.1C584.9,807.4 586.7,811.7 588.4,816.1C590.1,820.4 591.7,824.8 593.5,829.1C595.3,833.4 597.1,837.7 599.2,841.9C601.3,846.0 603.8,850.0 606.2,854.0C608.5,858.0 611.0,862.0 613.4,866.0"/>
<path d="M201.7,1132.1C206.3,1131.5 211.0,1130.9 215.6,1130.4C220.2,1129.8 224.9,1129.3 229.5,1128.6C234.1,1128.0 238.8,1127.4 243.3,1126.3C247.8,1125.3 252.4,1124.3 256.6,1122.3C260.7,1120.4 264.6,1117.7 267.9,1114.6C271.3,1111.5 274.0,1107.6 276.6,1103.8C279.2,1099.9 281.4,1095.8 283.5,1091.6C285.5,1087.4 287.2,1083.1 288.7,1078.6C290.1,1074.2 291.2,1069.7 292.1,1065.1C293.1,1060.5 293.7,1055.9 294.4,1051.3C295.0,1046.7 295.5,1042.0 296.0,1037.4C296.4,1032.7 296.7,1028.1 296.8,1023.4C297.0,1018.4 297.1,1013.4 297.1,1008.4C297.1,1003.7 297.0,999.0 296.9,994.4C296.7,989.7 296.5,985.0 296.3,980.4C296.0,975.7 295.7,971.1 295.5,966.4C295.2,961.7 294.9,957.1 294.6,952.4C294.4,947.8 294.1,943.1 293.8,938.4C293.6,933.8 293.3,929.1 293.0,924.4C292.8,919.8 292.6,915.1 292.4,910.4C292.2,905.8 292.2,901.1 292.1,896.4C292.0,891.8 292.0,887.1 292.0,882.4C292.0,877.8 292.0,873.1 292.1,868.4C292.1,863.8 292.1,859.1 292.1,854.4C292.2,849.8 292.2,845.1 292.2,840.4C292.2,835.7 292.2,831.1 292.2,826.4C292.2,821.7 292.2,817.1 292.1,812.4C292.1,807.7 292.1,803.1 292.1,798.4C292.1,793.7 292.1,789.0 292.1,784.4C292.1,779.7 292.1,775.0 292.0,770.4C292.0,765.7 292.0,761.0 292.0,756.4C292.0,751.7 292.0,747.0 292.0,742.4C292.0,737.7 292.0,733.0 292.0,728.3C292.0,723.7 292.0,719.0 292.0,714.3C292.0,709.7 292.0,705.0 292.0,700.3C292.0,695.7 292.0,691.0 292.1,686.3C292.1,681.6 292.1,677.0 292.1,672.3C292.1,667.3 292.1,662.3 292.1,657.3C292.1,652.6 292.2,648.0 292.2,643.3C292.2,638.6 292.2,634.0 292.3,629.3C292.3,624.6 292.3,619.9 292.4,615.3C292.4,610.6 292.4,605.9 292.5,601.3C292.5,596.6 292.6,591.9 292.6,587.3C292.6,582.6 292.6,577.9 292.6,573.2C292.7,568.6 292.7,563.9 292.7,559.2C292.8,554.6 292.9,549.9 293.0,545.2C293.1,540.6 293.2,535.9 293.4,531.2C293.7,526.6 293.9,521.9 294.2,517.2C294.6,512.6 295.0,507.9 295.5,503.3C296.0,498.7 296.6,494.0 297.3,489.4C298.0,484.8 298.6,480.2 299.7,475.6C300.8,471.1 302.0,466.6 303.7,462.3C305.4,458.0 307.6,453.8 309.9,449.8C312.2,445.7 314.7,441.8 317.6,438.1C320.5,434.5 323.7,431.1 327.1,427.9C330.4,424.6 333.9,421.6 337.5,418.5C341.0,415.5 344.7,412.6 348.4,409.7C352.1,406.9 355.9,404.1 359.7,401.5C363.5,398.8 367.4,396.2 371.3,393.7C375.2,391.1 379.2,388.6 383.2,386.3C387.3,384.0 391.4,381.7 395.5,379.7C399.7,377.6 404.1,375.9 408.4,374.1C412.7,372.2 417.0,370.4 421.3,368.7C425.9,366.8 430.4,364.7 435.2,363.2C439.7,361.9 444.3,361.1 448.8,360.2C453.4,359.4 458.1,358.8 462.7,358.1C467.3,357.5 472.0,356.9 476.6,356.4C481.2,355.9 485.9,355.5 490.5,355.1C495.2,354.8 499.9,354.4 504.5,354.2C509.2,354.0 513.8,353.8 518.5,353.7C523.2,353.6 527.8,353.5 532.5,353.5C537.2,353.5 541.9,353.5 546.5,353.5C551.2,353.6 555.9,353.7 560.5,353.9C565.2,354.0 569.9,354.3 574.5,354.5C579.2,354.7 583.8,355.0 588.5,355.3C593.2,355.5 597.8,355.8 602.5,356.0"/>
<path d="M267.8,657.0C272.5,657.4 277.1,657.5 281.8,658.1C286.3,658.8 291.0,659.1 295.3,660.8C299.5,662.5 303.5,665.0 306.8,668.1C310.2,671.2 312.7,675.2 314.9,679.2C317.0,683.3 318.5,687.8 319.5,692.3C320.6,696.8 320.8,701.5 320.9,706.1C320.9,710.8 320.3,715.4 319.8,720.1C319.4,724.7 318.7,729.3 318.0,733.9C317.2,738.5 316.4,743.1 315.5,747.7C314.5,752.3 313.4,756.8 312.4,761.4C311.2,766.2 309.9,771.1 308.8,776.0C307.7,780.5 306.8,785.1 305.9,789.7C305.0,794.2 304.2,798.8 303.4,803.5C302.6,808.1 301.8,812.7 301.2,817.3C300.5,821.9 299.9,826.5 299.5,831.2C299.1,835.8 298.9,840.5 298.8,845.2C298.7,849.8 298.8,854.5 298.9,859.2C299.0,863.9 299.3,868.5 299.5,873.2C299.6,877.9 299.9,882.5 300.0,887.2C300.2,891.9 300.2,896.5 300.5,901.2C300.7,905.8 300.8,910.5 301.5,915.1C302.2,919.7 303.2,924.3 304.8,928.6C306.3,933.0 308.6,937.1 310.8,941.2C313.0,945.3 315.1,949.5 317.9,953.2C320.7,956.9 323.9,960.3 327.5,963.1C331.2,965.9 335.4,967.9 339.7,969.9C343.9,971.8 348.4,973.2 352.8,974.6C357.3,976.0 361.8,977.2 366.3,978.2C370.9,979.3 375.5,980.0 380.1,980.7C384.7,981.5 389.4,982.0 394.0,982.5C398.6,983.0 403.3,983.4 408.0,983.7C412.6,984.1 417.3,984.5 421.9,984.8C426.9,985.1 431.9,985.5 436.9,985.8C441.6,986.0 446.2,986.3 450.9,986.6C455.6,986.8 460.2,987.1 464.9,987.4C469.6,987.6 474.2,987.9 478.9,988.2C483.5,988.5 488.2,988.7 492.9,989.0C497.5,989.2 502.2,989.4 506.9,989.7C511.5,990.0 516.2,990.3 520.8,990.8C525.5,991.2 530.1,991.8 534.8,992.4C539.4,993.0 544.0,993.7 548.6,994.4C553.2,995.1 557.8,995.9 562.5,996.7C567.1,997.4 571.7,998.2 576.3,999.0C580.9,999.8 585.5,1000.6 590.1,1001.4C594.7,1002.1 599.3,1002.9 603.9,1003.7C608.5,1004.4 613.1,1005.2 617.7,1005.9C622.4,1006.6 627.0,1007.4 631.6,1008.1C636.2,1008.8 640.8,1009.5 645.4,1010.2C650.0,1011.0 654.7,1011.7 659.3,1012.5C663.9,1013.2 668.5,1014.0 673.1,1014.8C677.7,1015.6 682.3,1016.4 686.9,1017.2C691.5,1018.1 696.1,1018.9 700.6,1019.9C705.2,1020.8 709.8,1021.8 714.3,1022.9C718.9,1024.0 723.4,1025.1 727.9,1026.3C732.8,1027.5 737.6,1028.8 742.4,1030.1C747.0,1031.3 751.5,1032.5 756.0,1033.7C760.5,1034.9 765.0,1036.0 769.6,1037.1C774.1,1038.2 778.7,1039.3 783.2,1040.5C787.7,1041.6 792.3,1042.7 796.8,1043.8C801.3,1044.9 805.9,1046.0 810.4,1047.2C814.9,1048.3 819.5,1049.5 824.0,1050.7C828.5,1051.9 833.0,1053.1 837.5,1054.4C842.0,1055.7 846.5,1057.0 850.9,1058.3C855.4,1059.6 859.9,1061.0 864.4,1062.3C868.8,1063.6 873.3,1065.0 877.8,1066.3"/>
<path d="M267.8,657.0C270.8,660.5 274.4,663.5 276.8,667.4C279.2,671.3 280.5,675.8 281.9,680.2C283.3,684.6 284.3,689.2 285.3,693.8C286.3,698.3 287.1,702.9 288.0,707.5C288.9,712.1 289.8,716.7 290.5,721.3C291.3,725.9 292.1,730.5 292.7,735.1C293.3,739.8 293.8,744.4 294.2,749.0C294.7,753.7 295.1,758.3 295.4,763.0C295.8,767.6 296.1,772.3 296.4,777.0C296.7,781.6 297.0,786.3 297.3,790.9C297.6,795.6 297.8,800.3 298.1,804.9C298.4,809.6 298.6,814.2 298.8,818.9C299.1,823.6 299.3,828.2 299.5,832.9C299.7,837.6 299.9,842.2 300.1,846.9C300.4,851.5 300.6,856.2 300.9,860.9C301.2,865.5 301.6,870.2 302.0,874.8C302.3,879.5 302.8,884.1 303.1,888.8C303.3,893.4 303.5,898.1 303.6,902.8C303.7,907.4 303.7,912.1 303.7,916.8C303.8,921.4 303.8,926.1 303.8,930.8C303.8,935.4 303.8,940.1 303.9,944.8C303.9,949.4 303.9,954.1 303.9,958.8C303.9,963.5 303.9,968.1 303.9,972.8C303.9,977.5 303.9,982.1 303.9,986.8C304.0,991.5 304.0,996.1 304.0,1000.8C304.0,1005.5 303.9,1010.1 303.9,1014.8C303.9,1019.5 303.9,1024.1 303.9,1028.8C303.9,1033.5 303.9,1038.1 303.9,1042.8C303.9,1047.5 303.9,1052.1 303.9,1056.8C303.9,1061.5 303.8,1066.1 303.8,1070.8C303.8,1075.5 303.8,1080.2 303.8,1084.8C303.8,1089.5 303.8,1094.2 303.8,1098.8C303.7,1103.5 303.7,1108.2 303.7,1112.8C303.7,1117.5 303.7,1122.2 303.7,1126.8C303.7,1131.5 303.7,1136.2 303.7,1140.8C303.6,1145.5 303.6,1150.2 303.6,1154.8C303.6,1159.5 303.6,1164.2 303.6,1168.8C303.6,1173.8 303.6,1178.8 303.6,1183.8C303.6,1188.5 303.6,1193.2 303.6,1197.8C303.6,1202.5 303.6,1207.2 303.6,1211.9C303.6,1216.5 303.6,1221.2 303.6,1225.9C303.7,1230.5 303.7,1235.2 303.7,1239.9C303.7,1244.5 303.7,1249.2 303.7,1253.9C303.7,1258.5 303.8,1263.2 303.8,1267.9C303.8,1272.5 303.8,1277.2 303.8,1281.9C303.8,1286.5 303.9,1291.2 303.9,1295.9C303.9,1300.5 303.9,1305.2 303.9,1309.9C303.9,1314.5 303.9,1319.2 304.0,1323.9C304.0,1328.6 304.0,1333.2 304.0,1337.9C304.0,1342.6 304.0,1347.2 304.0,1351.9C304.0,1356.6 304.0,1361.2 304.0,1365.9C304.0,1370.6 304.0,1375.2 304.0,1379.9C304.0,1384.6 304.0,1389.2 303.9,1393.9C303.9,1398.6 303.9,1403.2 303.8,1407.9C303.7,1412.6 303.5,1417.2 303.4,1421.9C303.3,1426.6 303.1,1431.2 302.9,1435.9C302.8,1440.6 302.6,1445.2 302.5,1449.9C302.4,1454.6 302.3,1459.2 302.3,1463.9C302.2,1468.6 302.2,1473.2 302.1,1477.9C302.1,1482.6 302.0,1487.2 302.0,1491.9C302.0,1496.6 301.9,1501.2 301.9,1505.9C301.9,1510.6 301.8,1515.2 301.8,1519.9C301.8,1524.6 301.7,1529.2 301.7,1533.9C301.7,1538.6 301.6,1543.3 301.6,1547.9C301.6,1552.6 301.6,1557.3 301.5,1561.9C301.5,1566.6 301.5,1571.3 301.5,1575.9C301.5,1580.6 301.4,1585.3 301.4,1589.9C301.4,1594.6 301.4,1599.3 301.4,1603.9C301.4,1608.6 301.4,1613.3 301.3,1617.9C301.3,1622.6 301.3,1627.3 301.3,1631.9C301.3,1636.6 301.3,1641.3 301.3,1645.9C301.3,1650.6 301.3,1655.3 301.3,1660.0C301.3,1664.6 301.3,1669.3 301.3,1674.0C301.3,1678.6 301.3,1683.3 301.4,1688.0C301.4,1692.6 301.4,1697.3 301.4,1702.0C301.5,1706.6 301.5,1711.3 301.5,1716.0C301.6,1720.6 301.6,1725.3 301.6,1730.0C301.7,1734.6 301.7,1739.3 301.7,1744.0C301.8,1748.6 301.8,1753.3 301.8,1758.0C301.9,1762.6 301.9,1767.3 302.0,1772.0C302.0,1776.6 302.0,1781.3 302.1,1786.0C302.1,1790.7 302.2,1795.3 302.2,1800.0C302.2,1804.7 302.3,1809.3 302.3,1814.0C302.3,1818.7 302.3,1823.3 302.3,1828.0C302.4,1832.7 302.4,1837.3 302.4,1842.0C302.4,1846.7 302.4,1851.3 302.4,1856.0C302.5,1860.7 302.5,1865.3 302.6,1870.0C302.6,1874.7 302.7,1879.3 302.8,1884.0C302.9,1888.7 303.0,1893.3 303.1,1898.0C303.2,1902.7 303.3,1907.3 303.4,1912.0C303.6,1916.7 303.7,1921.3 303.9,1926.0C304.1,1930.7 304.3,1935.3 304.5,1940.0C304.8,1944.7 305.0,1949.3 305.3,1954.0C305.6,1958.6 306.0,1963.3 306.4,1967.9C306.8,1972.6 307.3,1977.2 307.9,1981.9C308.5,1986.5 309.2,1991.1 310.1,1995.7C310.9,2000.3 311.8,2004.9 313.1,2009.3C314.5,2013.7 315.9,2018.2 318.3,2022.2C320.6,2026.1 323.6,2029.7 327.2,2032.5C330.8,2035.3 335.1,2037.2 339.4,2038.9C343.7,2040.6 348.3,2041.6 352.8,2042.7C357.4,2043.8 362.0,2044.5 366.6,2045.3C371.2,2046.1 375.8,2046.7 380.4,2047.3C385.1,2047.9 389.7,2048.5 394.3,2049.0C399.0,2049.6 403.6,2050.1 408.3,2050.5C412.9,2050.9 417.6,2051.3 422.2,2051.7C426.9,2052.1 431.5,2052.4 436.2,2052.7C440.8,2052.9 445.5,2053.2 450.2,2053.3C454.8,2053.5 459.5,2053.6 464.2,2053.7C468.8,2053.8 473.5,2053.8 478.2,2053.9C483.2,2053.9 488.2,2053.9 493.2,2053.9C497.8,2053.9 502.5,2054.0 507.2,2054.0C511.9,2054.1 516.5,2054.1 521.2,2054.2C525.9,2054.2 530.5,2054.2 535.2,2054.1C539.9,2054.1 544.5,2054.0 549.2,2053.9C553.9,2053.8 558.5,2053.7 563.2,2053.6C567.9,2053.5 572.5,2053.4 577.2,2053.2C581.9,2053.1 586.5,2053.0 591.2,2052.9C595.9,2052.7 600.5,2052.6 605.2,2052.4C609.9,2052.2 614.5,2052.1 619.2,2051.8C623.8,2051.6 628.5,2051.4 633.2,2051.1C637.8,2050.8 642.5,2050.5 647.1,2050.2C651.8,2049.8 656.4,2049.4 661.1,2049.0C665.7,2048.6 670.4,2048.1 675.0,2047.6C679.7,2047.1 684.3,2046.6 688.9,2046.1C693.6,2045.6 698.2,2045.0 702.9,2044.5C707.5,2044.0 712.1,2043.5 716.8,2043.1C721.4,2042.6 726.1,2042.2 730.7,2041.7C735.4,2041.3 740.0,2040.9 744.7,2040.5C749.3,2040.0 754.0,2039.6 758.6,2039.1C763.2,2038.6 767.9,2038.0 772.5,2037.4C777.1,2036.8 781.8,2036.3 786.4,2035.5C791.0,2034.7 795.6,2034.0 800.1,2032.7C804.5,2031.4 808.9,2029.7 813.0,2027.6C817.2,2025.6 821.2,2023.1 825.1,2020.5C828.9,2018.0 832.7,2015.1 836.3,2012.2C840.0,2009.4 843.5,2006.3 847.0,2003.3C850.6,2000.2 854.0,1997.0 857.4,1993.8C860.8,1990.6 864.1,1987.3 867.4,1984.0C870.6,1980.7 873.8,1977.3 877.0,1973.8C880.1,1970.4 883.2,1966.8 886.2,1963.3C889.3,1959.8 892.3,1956.2 895.2,1952.5C898.1,1948.9 901.0,1945.2 903.7,1941.5C906.5,1937.7 909.2,1933.9 911.8,1930.0C914.4,1926.2 917.0,1922.3 919.5,1918.3C922.1,1914.4 924.6,1910.5 926.9,1906.5C929.3,1902.4 931.5,1898.3 933.7,1894.2C935.9,1890.1 938.0,1885.9 940.2,1881.8"/>
<path d="M203.9,955.6C208.5,956.2 213.2,956.6 217.8,957.5C222.3,958.3 227.0,958.9 231.2,960.8C235.4,962.6 239.3,965.2 242.5,968.4C245.9,971.5 248.5,975.5 250.8,979.5C253.2,983.5 254.9,987.8 256.6,992.2C258.2,996.5 259.4,1001.0 260.6,1005.5C261.9,1010.0 262.9,1014.6 264.1,1019.1C265.3,1023.6 266.6,1028.1 267.8,1032.6C269.1,1037.1 270.5,1041.6 271.8,1046.0C273.1,1050.5 274.4,1055.0 275.7,1059.5C276.8,1063.7 277.9,1067.9 279.1,1072.1C280.3,1076.6 281.5,1081.1 282.9,1085.5C284.4,1089.9 286.6,1094.0 287.8,1098.4C289.1,1102.9 289.8,1107.4 290.3,1112.0C290.9,1116.6 290.8,1121.3 291.1,1126.0C291.4,1130.6 291.7,1135.3 292.2,1139.9C292.7,1144.5 293.1,1149.2 294.1,1153.8C295.0,1158.3 296.3,1162.8 298.1,1167.1C299.8,1171.4 301.9,1175.6 304.4,1179.5C306.9,1183.4 309.8,1187.1 312.9,1190.5C316.1,1194.0 319.6,1197.0 323.2,1199.9C326.9,1202.9 330.7,1205.5 334.6,1208.1C338.5,1210.7 342.4,1213.2 346.5,1215.6C350.5,1218.0 354.5,1220.2 358.7,1222.4C362.8,1224.6 367.0,1226.6 371.2,1228.6C375.4,1230.6 379.7,1232.6 384.0,1234.4C388.2,1236.3 392.5,1238.2 396.8,1239.9C401.2,1241.7 405.5,1243.4 409.9,1244.9C414.3,1246.5 418.8,1247.9 423.3,1249.1C427.8,1250.4 432.3,1251.5 436.9,1252.5C441.1,1253.4 445.4,1254.2 449.6,1254.9C454.2,1255.7 458.9,1256.4 463.5,1257.0C468.1,1257.5 472.8,1257.9 477.4,1258.1C482.1,1258.4 486.8,1258.3 491.4,1258.3C496.1,1258.3 500.8,1258.2 505.4,1258.1C510.1,1257.9 514.8,1257.8 519.4,1257.6C524.1,1257.3 528.8,1257.0 533.4,1256.6C538.1,1256.1 542.7,1255.6 547.3,1254.9C551.9,1254.2 556.5,1253.5 561.1,1252.7C565.7,1251.8 570.3,1251.0 574.9,1250.0C579.5,1249.1 584.0,1248.1 588.6,1247.1C593.1,1246.0 597.7,1245.0 602.2,1243.9C606.7,1242.7 611.3,1241.6 615.8,1240.4C620.3,1239.1 624.8,1237.9 629.3,1236.6C633.7,1235.2 638.2,1233.9 642.7,1232.5C647.1,1231.1 651.6,1229.7 656.0,1228.3C660.5,1226.9 664.9,1225.4 669.3,1224.0C673.8,1222.5 678.2,1221.0 682.6,1219.5C687.0,1218.0 691.4,1216.4 695.8,1214.9C700.3,1213.3 704.6,1211.7 709.0,1210.2C713.4,1208.6 717.8,1207.0 722.2,1205.4C726.3,1204.0 730.4,1202.5 734.5,1201.1C738.9,1199.5 743.3,1198.0 747.7,1196.4C752.1,1194.9 756.5,1193.3 760.9,1191.8C765.3,1190.2 769.7,1188.7 774.1,1187.2C778.5,1185.6 783.0,1184.1 787.4,1182.6C791.8,1181.0 796.2,1179.5 800.6,1178.0C805.1,1176.6 809.5,1175.1 813.9,1173.6C818.4,1172.2 822.8,1170.7 827.2,1169.2C831.7,1167.8 836.1,1166.3 840.5,1164.8C844.9,1163.3 849.3,1161.7 853.7,1160.1C858.1,1158.6 862.5,1157.0 866.9,1155.4"/>
<path d="M203.9,955.6C208.5,956.3 213.2,956.8 217.7,957.8C222.2,958.8 226.9,959.5 231.0,961.5C235.1,963.5 238.8,966.3 241.9,969.7C245.0,973.0 247.2,977.2 249.3,981.3C251.5,985.4 253.1,989.8 254.6,994.2C256.0,998.3 257.1,1002.5 258.2,1006.7C259.4,1011.2 260.4,1015.8 261.6,1020.3C262.7,1024.8 264.0,1029.3 265.3,1033.8C266.7,1038.3 268.1,1042.7 269.4,1047.2C270.7,1051.7 272.0,1056.1 273.2,1060.7C274.4,1065.2 275.3,1069.7 276.4,1074.3C277.5,1078.8 278.6,1083.3 279.9,1087.8C281.2,1092.2 283.2,1096.5 284.2,1100.9C285.3,1105.4 285.9,1110.0 286.4,1114.6C287.0,1119.3 287.2,1123.9 287.6,1128.6C288.0,1132.9 288.4,1137.2 288.9,1141.5C289.5,1146.1 290.1,1150.8 291.1,1155.3C292.0,1159.9 293.0,1164.5 294.5,1168.9C295.9,1173.3 297.8,1177.6 300.0,1181.7C302.1,1185.8 304.5,1189.9 307.1,1193.7C309.7,1197.5 312.7,1201.2 315.8,1204.6C319.0,1208.0 322.4,1211.2 326.0,1214.2C329.5,1217.2 333.3,1219.9 337.1,1222.6C340.9,1225.3 344.8,1227.8 348.8,1230.3C352.8,1232.8 356.8,1235.2 360.8,1237.4C364.9,1239.7 369.0,1241.9 373.2,1244.0C377.1,1245.9 381.0,1247.8 384.9,1249.6C389.2,1251.5 393.5,1253.4 397.7,1255.2C402.0,1257.1 406.3,1258.9 410.7,1260.6C415.0,1262.3 419.4,1264.0 423.8,1265.5C428.2,1267.0 432.7,1268.3 437.2,1269.4C441.7,1270.6 446.3,1271.4 450.9,1272.2C455.5,1272.9 460.2,1273.4 464.8,1273.9C469.5,1274.3 474.1,1274.6 478.8,1274.8C483.4,1275.0 488.1,1275.1 492.8,1275.1C497.4,1275.1 502.1,1275.1 506.8,1274.9C511.4,1274.7 516.1,1274.4 520.7,1273.9C525.0,1273.6 529.3,1273.1 533.6,1272.5C538.3,1271.9 542.9,1271.3 547.5,1270.6C552.1,1269.8 556.7,1269.1 561.3,1268.2C565.9,1267.4 570.5,1266.5 575.1,1265.6C579.6,1264.7 584.2,1263.7 588.8,1262.7C593.3,1261.7 597.8,1260.6 602.4,1259.5C606.9,1258.4 611.4,1257.2 615.9,1256.0C620.4,1254.8 624.9,1253.5 629.4,1252.2C633.9,1250.9 638.4,1249.5 642.8,1248.2C647.3,1246.8 651.7,1245.4 656.2,1243.9C660.6,1242.5 665.0,1241.1 669.5,1239.6C673.6,1238.3 677.7,1236.9 681.8,1235.5C686.2,1234.0 690.6,1232.5 695.0,1230.9C699.4,1229.4 703.8,1227.8 708.2,1226.2C712.6,1224.7 717.0,1223.1 721.4,1221.5C725.8,1219.9 730.2,1218.4 734.6,1216.8C739.0,1215.3 743.4,1213.7 747.8,1212.2C752.2,1210.6 756.6,1209.1 761.0,1207.5C765.4,1206.0 769.8,1204.4 774.2,1202.9C778.6,1201.3 783.0,1199.8 787.4,1198.2C791.8,1196.7 796.3,1195.2 800.7,1193.7C804.8,1192.3 808.9,1191.0 813.0,1189.6C817.4,1188.1 821.9,1186.7 826.3,1185.2C830.7,1183.8 835.2,1182.3 839.6,1180.8C844.0,1179.3 848.4,1177.8 852.8,1176.3C857.3,1174.8 861.7,1173.2 866.1,1171.7C870.5,1170.2 874.9,1168.6 879.3,1167.1"/>
<path d="M203.9,955.6C208.5,956.5 213.1,957.1 217.6,958.2C222.1,959.3 226.8,960.1 230.8,962.3C234.8,964.4 238.3,967.4 241.2,970.9C244.1,974.5 246.0,978.8 247.9,983.0C249.8,987.3 251.2,991.7 252.6,996.2C254.1,1000.6 255.1,1005.2 256.3,1009.7C257.5,1014.2 258.5,1018.7 259.7,1023.2C261.0,1027.7 262.3,1032.2 263.7,1036.7C265.1,1041.1 266.6,1045.5 267.9,1050.0C269.2,1054.5 270.5,1059.0 271.6,1063.5C272.7,1068.0 273.6,1072.6 274.7,1077.2C275.8,1081.7 277.1,1086.2 278.2,1090.7C279.3,1095.2 280.8,1099.6 281.5,1104.1C282.3,1108.7 282.4,1113.4 282.8,1118.0C283.1,1122.7 283.3,1127.3 283.5,1132.0C283.7,1136.7 283.8,1141.3 284.0,1146.0C284.2,1150.7 284.3,1155.3 284.5,1160.0C284.7,1164.7 284.9,1169.3 285.1,1174.0C285.3,1178.6 285.5,1183.3 285.7,1188.0C285.9,1192.6 286.1,1197.3 286.3,1202.0C286.4,1206.6 286.6,1211.3 286.7,1215.9C286.9,1220.6 287.0,1225.3 287.0,1229.9C287.1,1234.6 287.1,1239.3 287.1,1243.9C287.1,1248.6 287.1,1253.3 287.0,1257.9C287.0,1262.6 286.9,1267.3 286.8,1271.9C286.8,1276.6 286.7,1281.3 286.6,1285.9C286.5,1290.6 286.4,1295.3 286.3,1299.9C286.3,1304.6 286.2,1309.3 286.1,1313.9C286.1,1318.6 286.0,1323.3 286.0,1327.9C285.9,1332.6 285.9,1337.3 285.9,1341.9C285.9,1346.6 285.9,1351.3 285.9,1355.9C285.9,1360.6 285.8,1365.3 285.8,1370.0C285.8,1374.6 285.8,1379.3 285.8,1384.0C285.8,1389.0 285.8,1394.0 285.8,1399.0C285.8,1403.6 285.8,1408.3 285.8,1413.0C285.8,1417.6 285.7,1422.3 285.7,1427.0C285.7,1431.6 285.7,1436.3 285.6,1441.0C285.6,1445.6 285.5,1450.3 285.5,1455.0C285.4,1459.6 285.3,1464.3 285.2,1469.0C285.1,1473.6 285.0,1478.3 284.9,1483.0C284.7,1487.6 284.6,1492.3 284.4,1496.9C284.3,1501.6 284.1,1506.3 283.9,1510.9C283.8,1515.6 283.6,1520.3 283.4,1524.9C283.3,1529.6 283.1,1534.3 283.0,1538.9C282.9,1543.6 282.7,1548.3 282.6,1552.9C282.5,1557.6 282.5,1562.3 282.4,1566.9C282.3,1571.6 282.2,1576.3 282.2,1580.9C282.1,1585.6 282.1,1590.3 282.1,1594.9C282.0,1599.6 282.0,1604.3 282.0,1608.9C282.0,1613.6 281.9,1618.3 281.9,1622.9C281.9,1627.6 281.9,1632.3 281.9,1636.9C281.9,1641.6 281.9,1646.3 281.9,1650.9C281.9,1655.6 281.9,1660.3 281.9,1664.9C281.9,1669.6 281.9,1674.3 281.9,1678.9C281.9,1683.6 281.9,1688.3 282.0,1692.9C282.0,1697.6 282.0,1702.3 282.0,1706.9C282.0,1711.6 282.1,1716.3 282.1,1720.9C282.1,1725.6 282.2,1730.3 282.2,1734.9C282.3,1739.6 282.3,1744.3 282.4,1748.9C282.5,1753.6 282.5,1758.3 282.6,1762.9C282.7,1767.6 282.8,1772.3 282.9,1776.9C282.9,1781.6 283.0,1786.3 283.2,1790.9C283.3,1795.6 283.4,1800.3 283.5,1804.9C283.6,1809.6 283.8,1814.3 283.9,1818.9C284.1,1823.6 284.2,1828.3 284.4,1832.9C284.6,1837.6 284.8,1842.2 285.0,1846.9C285.2,1851.6 285.5,1856.2 285.8,1860.9C286.1,1865.5 286.3,1870.2 286.6,1874.9C286.9,1879.5 287.1,1884.2 287.3,1888.8C287.5,1893.5 287.7,1898.2 287.9,1902.8C288.0,1907.5 288.2,1912.2 288.4,1916.8C288.6,1921.5 288.8,1926.2 289.1,1930.8C289.4,1935.5 289.7,1940.1 290.1,1944.8C290.5,1949.4 290.9,1954.1 291.4,1958.7C291.9,1963.4 292.4,1968.0 293.0,1972.6C293.6,1977.3 294.2,1981.9 295.0,1986.5C295.8,1991.1 296.6,1995.7 297.6,2000.2C298.6,2004.8 299.6,2009.3 300.9,2013.8C302.2,2018.3 303.6,2022.8 305.3,2027.1C306.9,2031.5 308.8,2035.7 311.0,2039.9C313.2,2044.0 315.6,2048.0 318.3,2051.7C321.1,2055.5 324.1,2059.0 327.4,2062.3C330.7,2065.6 334.3,2068.5 338.1,2071.3C341.8,2074.0 345.8,2076.5 349.9,2078.7C354.0,2081.0 358.2,2083.0 362.5,2084.9C366.7,2086.7 371.1,2088.3 375.5,2089.8C380.0,2091.3 384.4,2092.6 388.9,2093.9C393.4,2095.1 398.0,2096.3 402.5,2097.3C407.0,2098.4 411.6,2099.4 416.2,2100.3C420.7,2101.3 425.3,2102.1 429.9,2102.9C434.5,2103.7 439.1,2104.5 443.7,2105.1C448.4,2105.8 453.0,2106.4 457.6,2106.9C462.3,2107.4 466.9,2107.7 471.6,2108.1C476.2,2108.5 480.9,2108.7 485.6,2109.0C490.2,2109.3 494.9,2109.6 499.5,2109.8C504.2,2110.0 508.9,2110.3 513.5,2110.4C518.2,2110.5 522.9,2110.5 527.5,2110.4C532.2,2110.4 536.8,2110.2 541.5,2110.0C546.2,2109.9 550.8,2109.6 555.5,2109.4C560.2,2109.2 564.8,2109.0 569.5,2108.8C574.5,2108.6 579.5,2108.3 584.5,2108.0C589.1,2107.8 593.8,2107.5 598.4,2107.2C603.1,2106.8 607.8,2106.5 612.4,2106.1C617.0,2105.7 621.7,2105.2 626.3,2104.8C631.0,2104.3 635.6,2103.8 640.3,2103.2C644.9,2102.7 649.5,2102.1 654.2,2101.5C658.8,2100.9 663.4,2100.3 668.0,2099.6C672.6,2099.0 677.3,2098.3 681.9,2097.5C686.5,2096.8 691.1,2096.0 695.7,2095.2C700.3,2094.4 704.9,2093.6 709.4,2092.6C714.0,2091.7 718.6,2090.8 723.1,2089.8C727.7,2088.8 732.2,2087.7 736.8,2086.6C741.3,2085.5 745.8,2084.3 750.3,2083.1C754.8,2081.9 759.3,2080.6 763.8,2079.2C768.3,2077.9 772.7,2076.5 777.2,2075.1C781.6,2073.7 786.0,2072.2 790.4,2070.6C794.8,2069.1 799.2,2067.4 803.5,2065.6C807.7,2063.7 812.0,2061.7 816.0,2059.5C820.1,2057.2 824.1,2054.8 828.0,2052.2C831.9,2049.7 835.7,2047.0 839.5,2044.2C843.2,2041.4 846.9,2038.5 850.4,2035.5C854.0,2032.5 857.5,2029.4 860.9,2026.2C864.3,2023.0 867.6,2019.7 870.7,2016.3C873.9,2012.8 876.9,2009.3 879.8,2005.6C882.7,2002.0 885.4,1998.2 888.1,1994.3C890.7,1990.5 893.2,1986.5 895.7,1982.6C898.2,1978.6 900.6,1974.6 902.9,1970.6C905.3,1966.6 907.5,1962.5 909.7,1958.4C911.9,1954.3 914.0,1950.1 916.1,1945.9C918.2,1941.7 920.2,1937.5 922.2,1933.3C924.2,1929.1 926.2,1924.9 928.2,1920.6C930.1,1916.4 932.1,1912.2 934.1,1907.9C936.0,1903.7 937.8,1899.4 939.6,1895.1C941.5,1890.8 943.3,1886.5 945.1,1882.2"/>
<path d="M203.9,955.6C208.5,956.3 213.2,956.8 217.7,957.8C222.2,958.8 226.9,959.5 231.0,961.5C235.1,963.5 238.8,966.4 241.9,969.7C245.0,973.1 247.2,977.2 249.4,981.3C251.5,985.5 253.1,989.9 254.6,994.3C256.1,998.7 257.2,1003.2 258.4,1007.7C259.6,1012.2 260.6,1016.8 261.8,1021.3C263.0,1025.8 264.3,1030.3 265.6,1034.8C267.0,1039.2 268.4,1043.7 269.7,1048.2C271.0,1052.6 272.3,1057.1 273.4,1061.7C274.5,1066.2 275.5,1070.8 276.5,1075.3C277.6,1079.8 278.6,1084.4 279.7,1088.9C280.7,1093.4 282.1,1097.9 282.8,1102.5C283.5,1107.1 283.7,1111.7 284.0,1116.4C284.3,1121.0 284.5,1125.7 284.7,1130.4C284.9,1135.0 285.0,1139.7 285.2,1144.4C285.4,1149.0 285.5,1153.7 285.7,1158.3C285.8,1162.7 286.0,1167.0 286.2,1171.3C286.4,1176.0 286.6,1180.7 286.8,1185.3C287.0,1190.0 287.2,1194.7 287.3,1199.3C287.5,1204.0 287.7,1208.6 287.8,1213.3C288.0,1218.0 288.1,1222.6 288.2,1227.3C288.3,1232.0 288.3,1236.6 288.3,1241.3C288.3,1246.0 288.3,1250.7 288.3,1255.3C288.2,1260.0 288.2,1264.7 288.1,1269.3C288.0,1274.0 287.9,1278.7 287.9,1283.3C287.8,1288.0 287.7,1292.7 287.6,1297.3C287.5,1302.0 287.4,1306.7 287.4,1311.3C287.3,1316.0 287.2,1320.7 287.2,1325.3C287.2,1330.0 287.1,1334.7 287.1,1339.3C287.1,1344.0 287.1,1348.7 287.0,1353.3C287.0,1358.0 287.0,1362.7 287.0,1367.3C287.0,1372.0 287.0,1376.7 287.0,1381.3C286.9,1386.0 286.9,1390.7 286.9,1395.3C286.9,1400.0 286.9,1404.7 286.9,1409.3C286.8,1414.0 286.8,1418.7 286.8,1423.3C286.8,1428.0 286.7,1432.7 286.7,1437.3C286.6,1442.0 286.6,1446.7 286.5,1451.3C286.5,1456.0 286.4,1460.7 286.3,1465.4C286.2,1470.0 286.1,1474.7 286.0,1479.3C285.8,1484.0 285.7,1488.7 285.5,1493.3C285.4,1498.0 285.2,1502.7 285.0,1507.3C284.9,1512.0 284.7,1516.7 284.6,1521.3C284.4,1526.0 284.2,1530.7 284.1,1535.3C284.0,1540.0 283.8,1544.7 283.7,1549.3C283.6,1554.0 283.5,1558.7 283.4,1563.3C283.4,1568.0 283.3,1572.7 283.2,1577.3C283.2,1582.0 283.1,1586.7 283.1,1591.3C283.1,1596.0 283.0,1600.7 283.0,1605.3C283.0,1610.0 283.0,1614.7 282.9,1619.3C282.9,1624.0 282.9,1628.7 282.9,1633.3C282.9,1637.7 282.9,1642.0 282.9,1646.3C282.9,1651.0 282.9,1655.7 282.9,1660.3C282.9,1665.0 282.9,1669.7 282.9,1674.4C282.9,1679.0 283.0,1683.7 283.0,1688.4C283.0,1693.0 283.1,1697.7 283.1,1702.4C283.1,1707.0 283.2,1711.7 283.2,1716.4C283.2,1721.0 283.3,1725.7 283.3,1730.4C283.3,1735.0 283.4,1739.7 283.4,1744.4C283.4,1749.0 283.5,1753.7 283.5,1758.4C283.5,1763.0 283.6,1767.7 283.6,1772.4C283.6,1777.0 283.7,1781.7 283.7,1786.4C283.8,1791.0 283.8,1795.7 283.8,1800.4C283.9,1805.0 283.9,1809.7 283.9,1814.4C283.9,1819.0 284.0,1823.7 284.0,1828.4C284.0,1833.0 284.0,1837.7 283.9,1842.4C283.9,1847.0 283.7,1851.7 283.7,1856.4C283.6,1861.0 283.5,1865.7 283.5,1870.4C283.5,1875.0 283.6,1879.7 283.8,1884.4C284.0,1889.0 284.2,1893.7 284.5,1898.4C284.7,1903.0 285.0,1907.7 285.3,1912.3C285.6,1917.0 286.0,1921.7 286.3,1926.3C286.7,1931.0 287.1,1935.6 287.5,1940.3C287.9,1944.9 288.3,1949.6 288.7,1954.2C289.1,1958.9 289.5,1963.5 290.0,1968.2C290.4,1972.8 290.8,1977.5 291.3,1982.1C291.8,1986.7 292.4,1991.4 293.0,1996.0C293.6,2000.6 294.3,2005.2 295.1,2009.8C295.9,2014.4 296.8,2019.0 297.8,2023.6C298.8,2028.1 299.8,2032.7 301.1,2037.2C302.4,2041.6 303.8,2046.1 305.5,2050.4C307.3,2054.8 309.2,2059.0 311.4,2063.1C313.7,2067.2 316.1,2071.1 318.9,2074.9C321.7,2078.6 324.7,2082.2 328.1,2085.4C331.4,2088.6 335.1,2091.5 338.9,2094.2C342.5,2096.6 346.3,2098.7 350.2,2100.5C354.4,2102.6 358.7,2104.2 363.1,2105.8C367.5,2107.5 371.9,2108.8 376.4,2110.2C380.9,2111.5 385.4,2112.7 389.9,2113.9C394.4,2115.1 399.0,2116.1 403.5,2117.1C408.1,2118.2 412.6,2119.1 417.2,2120.0C421.8,2120.8 426.4,2121.6 431.0,2122.3C435.6,2123.1 440.3,2123.7 444.9,2124.3C449.5,2124.9 454.2,2125.3 458.8,2125.7C463.5,2126.1 468.1,2126.4 472.8,2126.6C477.5,2126.9 482.1,2127.1 486.8,2127.3C491.4,2127.5 496.1,2127.7 500.8,2127.8C505.4,2128.0 510.1,2128.2 514.8,2128.3C519.4,2128.4 524.1,2128.5 528.8,2128.4C533.4,2128.4 538.1,2128.2 542.8,2128.1C547.4,2127.9 552.1,2127.7 556.8,2127.5C561.4,2127.3 566.1,2127.1 570.7,2126.9C575.4,2126.7 580.1,2126.5 584.7,2126.2C589.4,2126.0 594.0,2125.7 598.7,2125.4C603.4,2125.0 608.0,2124.7 612.7,2124.2C617.3,2123.8 622.0,2123.3 626.6,2122.8C631.2,2122.3 635.9,2121.7 640.5,2121.1C645.1,2120.5 649.7,2119.9 654.4,2119.2C659.0,2118.5 663.6,2117.8 668.2,2117.1C672.8,2116.3 677.4,2115.5 682.0,2114.7C686.6,2113.8 691.2,2112.9 695.7,2112.0C700.3,2111.0 704.9,2110.0 709.4,2109.0C714.0,2107.9 718.5,2106.8 723.0,2105.6C727.5,2104.3 732.0,2103.1 736.5,2101.7C740.9,2100.4 745.4,2099.0 749.8,2097.5C754.3,2096.1 758.7,2094.6 763.1,2093.0C767.5,2091.4 771.8,2089.8 776.2,2088.1C780.6,2086.5 784.9,2084.8 789.2,2082.9C793.5,2081.1 797.7,2079.2 801.9,2077.2C805.8,2075.3 809.7,2073.2 813.4,2071.1C817.5,2068.8 821.4,2066.3 825.3,2063.8C829.3,2061.2 833.1,2058.6 836.9,2055.8C840.7,2053.1 844.4,2050.3 848.0,2047.3C851.6,2044.4 855.2,2041.4 858.6,2038.2C862.0,2035.0 865.4,2031.8 868.6,2028.4C871.8,2025.0 874.8,2021.5 877.8,2017.9C880.8,2014.3 883.6,2010.6 886.4,2006.8C889.1,2003.0 891.7,1999.2 894.3,1995.3C896.9,1991.4 899.4,1987.4 901.8,1983.5C904.3,1979.5 906.7,1975.5 909.0,1971.4C911.3,1967.4 913.5,1963.3 915.7,1959.1C917.8,1955.0 919.7,1950.7 921.7,1946.5C923.6,1942.3 925.5,1938.0 927.4,1933.7C929.3,1929.4 931.1,1925.1 933.0,1920.9C934.9,1916.6 936.9,1912.4 938.8,1908.1C940.7,1903.9 942.6,1899.6 944.5,1895.3C946.3,1891.0 948.2,1886.8 950.1,1882.5"/>
<path d="M201.7,1132.1C206.3,1132.9 211.0,1133.3 215.5,1134.4C220.0,1135.5 224.5,1136.8 228.6,1138.8C232.7,1140.9 236.4,1143.8 240.0,1146.7C243.7,1149.6 247.0,1153.0 250.4,1156.2C253.8,1159.3 257.2,1162.6 260.6,1165.7C264.1,1168.9 267.6,1172.0 271.1,1175.0C274.7,1178.1 278.2,1181.2 281.9,1184.1C285.5,1186.9 289.3,1189.7 293.3,1192.2C297.2,1194.7 301.3,1197.0 305.4,1199.2C309.5,1201.3 313.8,1203.3 318.1,1205.2C322.3,1207.0 326.7,1208.7 331.1,1210.3C335.5,1211.9 340.0,1213.3 344.4,1214.6C348.9,1215.9 353.4,1217.1 358.0,1218.2C362.5,1219.3 367.1,1220.4 371.6,1221.4C376.2,1222.3 380.8,1223.2 385.4,1224.0C390.0,1224.8 394.7,1225.4 399.3,1226.0C403.9,1226.5 408.6,1226.9 413.2,1227.3C417.6,1227.6 421.9,1227.8 426.3,1227.9C430.9,1228.0 435.6,1228.0 440.3,1228.0C444.9,1227.9 449.6,1227.7 454.3,1227.4C458.9,1227.0 463.6,1226.6 468.2,1226.0C472.9,1225.4 477.5,1224.6 482.1,1223.7C486.6,1222.9 491.2,1221.8 495.8,1220.8C500.3,1219.7 504.8,1218.5 509.3,1217.2C513.8,1216.0 518.3,1214.6 522.7,1213.1C527.1,1211.6 531.5,1210.0 535.8,1208.1C540.1,1206.3 544.4,1204.4 548.4,1202.0C552.4,1199.7 556.4,1197.2 560.0,1194.2C563.5,1191.2 566.7,1187.8 569.7,1184.3C572.7,1180.7 575.3,1176.8 577.8,1172.9C580.2,1168.9 582.2,1164.6 584.3,1160.5C586.5,1156.3 588.3,1152.0 590.6,1148.0C592.9,1143.9 595.2,1139.8 598.0,1136.1C600.8,1132.4 604.0,1129.0 607.4,1125.8C610.8,1122.7 614.7,1120.1 618.4,1117.2"/>
<path d="M201.7,1132.1C206.2,1133.3 210.7,1134.4 215.2,1135.7C219.7,1137.0 224.3,1137.9 228.6,1139.7C232.9,1141.4 237.1,1143.5 240.9,1146.2C244.6,1148.8 248.0,1152.2 251.2,1155.5C254.4,1158.9 257.2,1162.6 260.1,1166.2C263.1,1169.9 265.8,1173.6 268.8,1177.2C271.8,1180.9 274.8,1184.4 277.9,1187.9C281.0,1191.4 284.0,1194.9 287.2,1198.4C290.6,1202.0 294.0,1205.7 297.5,1209.3C300.9,1212.5 304.3,1215.7 307.9,1218.7C311.5,1221.6 315.3,1224.4 319.0,1227.1C322.8,1229.9 326.6,1232.5 330.4,1235.3C334.2,1238.0 338.0,1240.7 341.8,1243.4C345.6,1246.1 349.4,1248.9 353.2,1251.6C357.1,1254.2 360.9,1256.9 364.7,1259.5C368.6,1262.1 372.5,1264.7 376.4,1267.3C380.4,1269.8 384.3,1272.3 388.3,1274.7C392.3,1277.1 396.3,1279.5 400.3,1281.9C404.3,1284.3 408.4,1286.6 412.4,1289.0C416.5,1291.3 420.5,1293.6 424.6,1295.9C428.7,1298.2 432.7,1300.5 436.8,1302.7C440.9,1305.0 445.0,1307.2 449.1,1309.4C453.2,1311.7 457.3,1313.9 461.4,1316.1C465.5,1318.4 469.5,1320.8 473.7,1322.9C478.1,1325.3 482.6,1327.5 487.1,1329.6C491.3,1331.6 495.6,1333.4 499.9,1335.3C504.2,1337.1 508.5,1338.9 512.8,1340.8C517.1,1342.6 521.4,1344.4 525.7,1346.2C530.0,1348.0 534.3,1349.8 538.6,1351.7C542.9,1353.5 547.2,1355.4 551.5,1357.1C555.8,1358.9 560.2,1360.7 564.5,1362.3C568.9,1363.9 573.4,1365.3 577.8,1366.7C582.3,1368.2 586.7,1369.5 591.2,1370.8C595.7,1372.1 600.2,1373.3 604.7,1374.4C609.3,1375.6 613.8,1376.7 618.4,1377.7C622.9,1378.7 627.5,1379.6 632.1,1380.5C636.7,1381.3 641.3,1382.0 645.9,1382.6C650.6,1383.2 655.2,1383.8 659.9,1384.2C664.5,1384.6 669.2,1385.0 673.8,1385.2C678.5,1385.5 683.2,1385.7 687.8,1385.8C692.5,1385.9 697.2,1386.0 701.8,1385.9C706.8,1385.7 711.8,1385.4 716.8,1385.0C721.5,1384.6 726.1,1383.9 730.7,1383.4C735.4,1382.9 740.0,1382.2 744.6,1381.8C749.3,1381.3 753.9,1381.0 758.6,1380.5C763.2,1380.0 767.9,1379.7 772.5,1379.0C777.1,1378.2 781.7,1377.2 786.1,1376.0C790.6,1374.8 795.1,1373.3 799.4,1371.6C803.8,1369.9 808.0,1368.0 812.2,1366.0C816.4,1363.9 820.5,1361.7 824.5,1359.3C828.5,1356.9 832.4,1354.3 836.2,1351.6C840.0,1348.9 843.7,1346.0 847.2,1343.0C850.8,1339.9 854.2,1336.7 857.5,1333.5C860.9,1330.2 864.1,1326.8 867.2,1323.4C870.3,1319.9 873.4,1316.4 876.3,1312.7C879.3,1309.1 882.1,1305.4 884.9,1301.7C887.7,1297.9 890.3,1294.1 892.9,1290.2C895.7,1286.0 898.4,1281.8 901.0,1277.5C903.4,1273.5 905.8,1269.5 908.1,1265.5C910.5,1261.4 912.8,1257.4 915.0,1253.3C917.2,1249.2 919.4,1245.0 921.5,1240.9C923.6,1236.7 925.7,1232.5 927.6,1228.3C929.6,1224.0 931.5,1219.8 933.4,1215.5C935.2,1211.2 936.9,1206.8 938.5,1202.5C940.2,1198.1 941.7,1193.7 943.3,1189.3C944.9,1184.9 946.4,1180.5 948.0,1176.1"/>
<path d="M201.7,1132.1C205.9,1134.1 210.1,1136.2 214.3,1138.2C218.5,1140.2 222.8,1142.0 227.0,1144.1C231.2,1146.2 235.4,1148.2 239.4,1150.6C243.3,1153.0 247.3,1155.6 250.7,1158.7C254.2,1161.7 257.2,1165.3 260.0,1169.0C262.7,1172.8 264.9,1176.9 267.0,1181.0C269.2,1185.2 271.2,1189.4 273.0,1193.7C274.8,1198.0 276.4,1202.4 277.8,1206.8C279.3,1211.3 280.5,1215.8 281.7,1220.3C282.9,1224.8 284.0,1229.3 285.0,1233.9C286.0,1238.1 286.8,1242.4 287.6,1246.6C288.4,1251.2 289.1,1255.8 289.7,1260.5C290.4,1265.1 290.9,1269.7 291.5,1274.3C292.0,1279.0 292.4,1283.6 292.8,1288.3C293.2,1292.9 293.5,1297.6 293.8,1302.3C294.0,1306.9 294.2,1311.6 294.4,1316.2C294.5,1320.9 294.6,1325.6 294.7,1330.2C294.8,1334.9 294.9,1339.6 294.9,1344.2C295.0,1348.9 295.0,1353.6 295.0,1358.2C294.9,1362.9 294.9,1367.6 294.9,1372.3C294.8,1376.9 294.8,1381.6 294.7,1386.3C294.6,1390.9 294.6,1395.6 294.5,1400.3C294.4,1404.9 294.3,1409.6 294.2,1414.3C294.1,1418.9 293.9,1423.6 293.8,1428.3C293.6,1432.9 293.5,1437.6 293.3,1442.2C293.1,1446.9 292.8,1451.6 292.6,1456.2C292.3,1460.9 292.0,1465.6 291.7,1470.2C291.4,1474.9 291.0,1479.5 290.6,1484.2C290.2,1488.8 289.8,1493.5 289.3,1498.1C288.9,1502.8 288.4,1507.4 287.9,1512.1C287.5,1516.7 287.0,1521.3 286.6,1526.0C286.2,1530.6 285.8,1535.3 285.3,1539.9C285.0,1544.3 284.6,1548.6 284.3,1552.9C283.9,1557.5 283.5,1562.2 283.1,1566.9C282.8,1571.5 282.4,1576.2 282.0,1580.8C281.7,1585.5 281.3,1590.1 280.9,1594.8C280.6,1599.4 280.2,1604.1 279.8,1608.7C279.5,1613.4 279.1,1618.0 278.7,1622.7C278.4,1627.4 278.0,1632.0 277.6,1636.7C277.2,1641.3 276.9,1646.0 276.5,1650.6C276.1,1655.3 275.7,1659.9 275.3,1664.6C274.9,1669.2 274.5,1673.9 274.2,1678.5C273.8,1683.2 273.4,1687.8 273.0,1692.5C272.6,1697.1 272.2,1701.8 271.9,1706.4C271.5,1711.1 271.1,1715.7 270.8,1720.4C270.5,1725.1 270.1,1729.7 269.8,1734.4C269.5,1739.0 269.2,1743.7 268.9,1748.3C268.6,1753.0 268.3,1757.7 268.0,1762.3C267.8,1767.0 267.5,1771.6 267.3,1776.3C267.0,1781.0 266.8,1785.6 266.6,1790.3C266.4,1795.0 266.2,1799.6 266.0,1804.3C265.8,1808.9 265.7,1813.6 265.6,1818.3C265.4,1822.9 265.3,1827.6 265.2,1832.3C265.1,1836.9 265.0,1841.6 264.9,1846.3C264.8,1850.6 264.8,1854.9 264.7,1859.3C264.7,1864.0 264.7,1868.6 264.6,1873.3C264.6,1878.0 264.6,1882.6 264.6,1887.3C264.7,1892.0 264.7,1896.6 264.7,1901.3C264.8,1906.0 264.9,1910.6 265.0,1915.3C265.2,1920.0 265.4,1924.6 265.6,1929.3C265.8,1933.9 266.1,1938.6 266.4,1943.3C266.7,1947.9 267.1,1952.6 267.4,1957.2C267.8,1961.9 268.1,1966.5 268.4,1971.2C268.8,1975.9 269.2,1980.5 269.6,1985.2C270.1,1989.8 270.6,1994.4 271.2,1999.1C271.8,2003.7 272.5,2008.3 273.3,2012.9C274.0,2017.5 274.9,2022.1 275.9,2026.7C276.8,2031.2 277.9,2035.8 279.0,2040.3C280.2,2044.8 281.4,2049.3 282.9,2053.8C284.3,2058.2 285.9,2062.6 287.7,2066.9C289.4,2071.2 291.4,2075.5 293.5,2079.6C295.7,2083.7 298.0,2087.8 300.6,2091.7C303.1,2095.6 305.9,2099.4 308.8,2103.0C311.8,2106.6 315.0,2110.0 318.3,2113.2C321.7,2116.5 325.2,2119.5 328.9,2122.4C332.5,2125.3 336.3,2128.0 340.2,2130.6C343.8,2133.0 347.5,2135.3 351.3,2137.4C355.3,2139.7 359.5,2141.8 363.7,2143.8C367.9,2145.8 372.2,2147.5 376.6,2149.2C381.0,2150.8 385.4,2152.3 389.9,2153.7C394.3,2155.0 398.8,2156.2 403.4,2157.4C407.9,2158.6 412.4,2159.6 417.0,2160.6C421.6,2161.6 426.1,2162.5 430.7,2163.3C435.3,2164.1 440.0,2164.7 444.6,2165.4C449.2,2166.0 453.8,2166.6 458.5,2167.1C463.1,2167.6 467.8,2168.1 472.4,2168.5C477.0,2169.0 481.7,2169.4 486.3,2169.8C491.0,2170.2 495.6,2170.6 500.3,2170.9C505.0,2171.2 509.6,2171.4 514.3,2171.6C519.0,2171.8 523.6,2171.9 528.3,2172.0C533.0,2172.0 537.6,2172.0 542.3,2171.9C547.0,2171.9 551.6,2171.8 556.3,2171.7C561.0,2171.5 565.6,2171.4 570.3,2171.2C575.0,2171.0 579.6,2170.8 584.3,2170.6C588.9,2170.4 593.6,2170.1 598.3,2169.8C602.9,2169.4 607.6,2169.1 612.2,2168.6C616.9,2168.2 621.5,2167.8 626.1,2167.3C630.8,2166.7 635.4,2166.2 640.1,2165.6C644.4,2165.0 648.6,2164.4 652.9,2163.8C657.6,2163.1 662.2,2162.4 666.8,2161.7C671.4,2160.9 676.0,2160.1 680.6,2159.3C685.2,2158.5 689.8,2157.6 694.3,2156.7C698.9,2155.8 703.5,2154.8 708.0,2153.9C712.6,2152.9 717.2,2151.9 721.7,2150.8C726.3,2149.8 730.8,2148.7 735.3,2147.5C739.8,2146.3 744.3,2145.1 748.8,2143.7C753.3,2142.4 757.7,2141.0 762.1,2139.4C766.5,2137.9 770.9,2136.2 775.2,2134.5C779.5,2132.7 783.8,2130.8 788.0,2128.8C792.2,2126.8 796.4,2124.7 800.5,2122.4C804.5,2120.1 808.5,2117.7 812.4,2115.2C816.3,2112.6 820.1,2109.9 823.9,2107.1C827.6,2104.3 831.2,2101.4 834.8,2098.4C838.4,2095.4 841.9,2092.3 845.3,2089.1C848.7,2085.9 852.1,2082.7 855.3,2079.3C858.6,2076.0 861.8,2072.6 864.9,2069.1C868.0,2065.6 871.0,2062.0 873.9,2058.4C876.8,2054.7 879.6,2051.0 882.3,2047.2C885.0,2043.4 887.6,2039.5 890.2,2035.6C892.7,2031.7 895.2,2027.8 897.6,2023.8C899.9,2020.1 902.1,2016.4 904.3,2012.6C906.6,2008.6 909.0,2004.5 911.2,2000.4C913.4,1996.3 915.6,1992.2 917.7,1988.0C919.8,1983.8 921.8,1979.6 923.7,1975.4C925.7,1971.1 927.5,1966.9 929.4,1962.6C931.3,1958.3 933.1,1954.0 934.8,1949.7C936.6,1945.4 938.3,1941.0 939.9,1936.7C941.6,1932.3 943.1,1927.9 944.6,1923.4C946.0,1919.0 947.5,1914.6 948.8,1910.1C950.0,1905.6 951.2,1901.1 952.2,1896.5C953.3,1892.0 954.1,1887.4 955.0,1882.8"/>
<path d="M201.7,1132.1C206.0,1133.9 210.3,1135.6 214.7,1137.4C219.0,1139.2 223.4,1140.8 227.6,1142.7C231.9,1144.7 236.1,1146.6 240.1,1149.1C244.0,1151.6 247.7,1154.5 251.0,1157.7C254.6,1161.2 257.6,1165.2 260.6,1169.2C263.4,1172.9 266.0,1176.8 268.4,1180.9C270.7,1184.9 273.0,1189.0 274.9,1193.2C276.8,1197.5 278.3,1201.9 279.7,1206.4C281.1,1210.8 282.2,1215.3 283.2,1219.9C284.2,1224.5 285.1,1229.1 285.7,1233.7C286.4,1238.3 286.8,1243.0 287.2,1247.6C287.5,1252.3 287.7,1256.9 287.9,1261.6C288.0,1266.6 288.1,1271.6 288.2,1276.6C288.2,1281.3 288.2,1286.0 288.2,1290.7C288.2,1295.3 288.1,1300.0 288.0,1304.7C287.9,1309.3 287.8,1314.0 287.7,1318.7C287.6,1323.4 287.5,1328.0 287.4,1332.7C287.3,1337.4 287.2,1342.1 287.1,1346.7C287.0,1351.4 287.0,1356.1 286.9,1360.7C286.9,1365.4 286.8,1370.1 286.8,1374.8C286.7,1379.8 286.7,1384.8 286.7,1389.8C286.6,1394.5 286.6,1399.1 286.5,1403.8C286.5,1408.5 286.4,1413.2 286.4,1417.8C286.3,1422.5 286.3,1427.2 286.2,1431.9C286.2,1436.5 286.1,1441.2 286.0,1445.9C286.0,1450.5 285.9,1455.2 285.8,1459.9C285.7,1464.6 285.6,1469.2 285.5,1473.9C285.4,1478.6 285.3,1483.3 285.1,1487.9C285.0,1492.9 284.9,1497.9 284.7,1502.9C284.6,1507.6 284.4,1512.3 284.3,1517.0C284.1,1521.6 284.0,1526.3 283.8,1531.0C283.7,1535.6 283.6,1540.3 283.4,1545.0C283.3,1549.7 283.1,1554.3 283.0,1559.0"/>
<path d="M508.5,701.8C512.2,704.7 515.9,707.5 519.5,710.5C523.0,713.6 526.6,716.6 529.7,720.1C532.7,723.6 535.6,727.3 537.9,731.3C540.5,735.6 542.6,740.2 544.3,744.8C546.0,749.2 547.0,753.7 548.0,758.3C549.1,762.9 549.8,767.5 550.5,772.1C551.2,776.7 551.7,781.4 552.2,786.0C552.7,790.7 553.0,795.3 553.4,800.0C553.8,804.7 554.1,809.3 554.5,814.0C554.8,819.0 555.2,824.0 555.5,829.0C555.8,833.6 556.1,838.3 556.4,843.0C556.7,847.6 557.0,852.3 557.3,857.0C557.7,861.6 558.0,866.3 558.3,871.0C558.6,875.6 559.0,880.3 559.3,884.9C559.6,889.6 559.9,894.3 560.2,898.9C560.5,903.6 560.7,908.3 560.9,913.0C561.1,918.0 561.3,923.0 561.5,928.0C561.7,932.6 561.9,937.3 562.0,942.0C562.2,946.7 562.3,951.3 562.5,956.0C562.6,960.7 562.8,965.4 562.9,970.0C563.0,974.7 563.2,979.4 563.3,984.1C563.3,988.7 563.4,993.4 563.4,998.1C563.4,1003.1 563.3,1008.1 563.4,1013.1C563.4,1017.8 563.4,1022.5 563.5,1027.1C563.6,1031.8 563.7,1036.5 564.0,1041.1C564.3,1045.8 564.6,1050.5 565.4,1055.1C566.3,1059.6 567.5,1064.1 569.2,1068.5C570.9,1072.8 573.0,1077.0 575.5,1080.9C578.2,1085.1 581.4,1089.0 584.7,1092.7C587.8,1096.2 591.2,1099.4 594.7,1102.4C598.3,1105.5 602.1,1108.2 606.0,1110.7C610.0,1113.2 614.3,1115.0 618.4,1117.2"/>
<path d="M505.2,1047.4C509.9,1047.2 514.5,1047.0 519.2,1046.8C523.9,1046.6 528.6,1046.4 533.2,1046.2C537.9,1046.1 542.6,1045.9 547.3,1045.7C551.9,1045.5 556.6,1045.3 561.3,1045.2C566.0,1045.1 570.6,1045.0 575.3,1044.9C580.0,1044.8 584.7,1044.7 589.3,1044.7C594.0,1044.6 598.7,1044.5 603.4,1044.4C608.0,1044.4 612.7,1044.3 617.4,1044.3C622.1,1044.3 626.8,1044.2 631.4,1044.2C636.1,1044.2 640.8,1044.3 645.5,1044.3C650.1,1044.4 654.8,1044.5 659.5,1044.6C664.2,1044.8 668.8,1044.9 673.5,1045.2C678.2,1045.4 682.8,1045.8 687.5,1046.2C692.2,1046.6 696.8,1047.1 701.5,1047.6C706.1,1048.1 710.8,1048.6 715.4,1049.2C720.1,1049.7 724.7,1050.3 729.3,1050.9C734.0,1051.5 738.6,1052.1 743.2,1052.7C747.9,1053.4 752.5,1054.0 757.1,1054.7C761.8,1055.4 766.4,1056.1 771.0,1056.8C775.6,1057.5 780.3,1058.2 784.9,1059.0C789.5,1059.8 794.1,1060.5 798.7,1061.4C803.3,1062.2 807.9,1063.0 812.5,1063.9C817.1,1064.8 821.7,1065.7 826.3,1066.7C830.8,1067.6 835.4,1068.6 840.0,1069.7C844.5,1070.7 849.0,1071.9 853.6,1073.1C858.1,1074.3 862.6,1075.6 867.1,1076.8"/>
<path d="M505.2,1047.4C509.8,1047.1 514.5,1047.3 519.1,1046.4C523.5,1045.4 527.9,1043.9 531.9,1041.6C535.9,1039.4 539.5,1036.3 542.8,1033.1C546.2,1029.9 549.3,1026.4 552.1,1022.7C555.1,1018.7 557.7,1014.4 560.0,1010.0C562.2,1005.9 564.1,1001.6 565.7,997.2C567.4,992.9 568.9,988.4 570.1,983.9C571.2,979.4 572.1,974.8 572.8,970.2C573.5,965.6 573.8,961.0 574.1,956.3C574.3,951.6 574.4,947.0 574.4,942.3C574.4,937.6 574.3,933.0 574.2,928.3C574.1,923.6 573.9,919.0 573.7,914.3C573.5,909.6 573.3,905.0 573.0,900.3C572.7,895.3 572.4,890.3 572.0,885.3C571.7,880.7 571.3,876.0 570.9,871.4C570.5,866.7 570.0,862.1 569.6,857.4C569.1,852.8 568.7,848.1 568.3,843.5C567.9,838.8 567.5,834.2 567.1,829.5C566.7,824.8 566.3,820.2 565.9,815.5C565.5,810.9 565.1,806.2 564.7,801.6C564.3,796.9 564.0,792.3 563.6,787.6C563.2,783.0 562.9,778.3 562.6,773.6C562.2,768.7 561.9,763.7 561.5,758.7C561.2,754.0 560.9,749.3 560.6,744.7C560.3,740.0 560.1,735.4 559.7,730.7C559.4,726.0 559.1,721.4 558.7,716.7C558.2,712.1 557.7,707.5 557.2,702.8C556.8,698.2 556.2,693.5 556.0,688.9C555.8,684.2 555.6,679.5 555.9,674.9C556.3,670.3 557.1,665.6 558.2,661.1C559.3,656.6 560.8,652.2 562.4,647.8C564.0,643.5 566.1,639.3 567.9,635.0C569.9,630.4 571.4,625.6 573.7,621.2C575.8,617.1 578.2,613.0 581.2,609.5C584.1,605.9 587.6,602.8 591.3,600.0C595.0,597.1 599.0,594.7 603.0,592.5C607.1,590.2 611.4,588.3 615.7,586.6C620.1,585.0 624.6,583.6 629.1,582.5C633.6,581.4 638.2,580.6 642.8,579.9C647.5,579.2 652.1,578.8 656.8,578.5C661.4,578.2 666.1,578.1 670.8,578.0C675.8,577.8 680.8,577.7 685.8,577.5C690.4,577.4 695.1,577.1 699.8,576.9C704.4,576.7 709.1,576.4 713.8,576.2C718.4,576.1 723.1,575.9 727.8,575.8C732.4,575.6 737.1,575.6 741.8,575.5C746.4,575.4 751.1,575.4 755.8,575.4C760.4,575.4 765.1,575.4 769.8,575.5C774.4,575.6 779.1,575.7 783.8,575.9C788.4,576.1 793.1,576.4 797.8,576.7C802.8,577.0 807.8,577.4 812.7,577.8C817.4,578.2 822.1,578.5 826.7,578.9C831.4,579.2 836.0,579.6 840.7,580.0C845.3,580.3 850.0,580.7 854.6,581.1C859.3,581.5 863.9,581.9 868.6,582.3"/>
<path d="M508.3,1152.5C513.3,1152.1 518.3,1151.9 523.3,1151.4C527.9,1151.0 532.6,1150.7 537.1,1149.7C542.0,1148.6 546.7,1147.0 551.3,1145.1C555.6,1143.3 559.6,1140.8 563.7,1138.7C568.2,1136.4 572.5,1134.0 577.0,1131.8C581.5,1129.6 586.1,1127.5 590.7,1125.6C595.0,1123.8 599.4,1122.2 603.9,1120.9C608.6,1119.4 613.6,1118.4 618.4,1117.2"/>
<path d="M508.3,1152.5C512.9,1153.1 517.6,1153.6 522.2,1154.3C526.8,1155.0 531.4,1155.8 536.0,1156.7C540.6,1157.6 545.2,1158.5 549.8,1159.5C554.3,1160.4 558.9,1161.4 563.5,1162.3C568.1,1163.2 572.7,1164.1 577.3,1165.0C581.8,1165.9 586.4,1166.8 591.0,1167.7C595.3,1168.5 599.5,1169.3 603.8,1170.1C608.4,1171.0 613.0,1171.9 617.6,1172.6C622.2,1173.4 626.8,1174.1 631.5,1174.7C636.1,1175.2 640.8,1175.7 645.4,1176.1C650.1,1176.5 654.7,1176.8 659.4,1177.0C664.1,1177.2 668.7,1177.4 673.4,1177.5C678.1,1177.6 682.8,1177.6 687.4,1177.7C692.1,1177.7 696.8,1177.6 701.5,1177.5C706.1,1177.5 710.8,1177.3 715.5,1177.2C720.1,1177.0 724.8,1176.8 729.5,1176.5C734.2,1176.2 738.8,1175.9 743.5,1175.6C748.1,1175.2 752.8,1174.8 757.4,1174.3C762.1,1173.9 766.7,1173.4 771.4,1172.8C775.7,1172.3 780.0,1171.7 784.3,1171.1C788.9,1170.5 793.5,1169.8 798.2,1169.1C802.8,1168.4 807.4,1167.6 812.0,1166.8C816.6,1166.0 821.2,1165.3 825.8,1164.4C830.4,1163.5 835.0,1162.6 839.6,1161.6C844.1,1160.7 848.7,1159.6 853.2,1158.5C857.8,1157.5 862.3,1156.4 866.9,1155.4"/>
<path d="M508.3,1152.5C512.9,1151.7 517.6,1151.7 522.0,1150.2C526.3,1148.7 530.4,1146.5 533.9,1143.7C537.5,1140.8 540.3,1137.0 542.9,1133.2C545.5,1129.4 547.4,1125.1 549.3,1120.8C551.1,1116.6 552.6,1112.1 553.9,1107.7C555.2,1103.2 556.4,1098.7 557.3,1094.1C558.3,1089.5 559.0,1084.9 559.6,1080.3C560.3,1075.7 560.7,1071.0 561.0,1066.4C561.4,1062.1 561.5,1057.7 561.7,1053.4C561.9,1048.7 562.1,1044.1 562.3,1039.4C562.6,1034.8 562.8,1030.1 563.0,1025.4C563.3,1020.8 563.6,1016.1 563.8,1011.5C564.0,1006.8 564.2,1002.1 564.2,997.5C564.3,992.8 564.2,988.1 564.1,983.5C564.0,978.8 563.8,974.1 563.6,969.5C563.5,964.8 563.3,960.1 563.1,955.5C563.0,950.8 562.8,946.2 562.6,941.5C562.4,936.8 562.2,932.2 562.0,927.5C561.8,922.8 561.7,918.2 561.5,913.5C561.3,908.9 561.1,904.2 561.0,899.5C560.8,894.9 560.7,890.2 560.6,885.5C560.5,880.9 560.4,876.2 560.2,871.5C560.1,866.9 560.0,862.2 559.9,857.5C559.8,852.9 559.7,848.2 559.6,843.5C559.5,839.2 559.4,834.9 559.3,830.5C559.1,825.9 559.0,821.2 558.9,816.5C558.8,811.9 558.6,807.2 558.4,802.6C558.3,797.9 558.1,793.2 558.0,788.6C557.8,783.9 557.7,779.2 557.6,774.6C557.5,769.9 557.4,765.2 557.3,760.6C557.2,755.9 557.1,751.2 557.0,746.6C556.9,741.9 556.9,737.2 556.8,732.6C556.7,727.9 556.7,723.2 556.6,718.6C556.6,713.9 556.6,709.2 556.5,704.6C556.5,699.9 556.4,695.2 556.4,690.6C556.3,685.9 556.1,681.2 556.1,676.6C556.0,671.9 555.9,667.2 556.0,662.6C556.1,657.9 556.2,653.2 556.6,648.6C557.0,644.0 557.5,639.3 558.4,634.7C559.3,630.2 560.5,625.7 561.8,621.2C563.1,617.1 564.7,613.0 566.3,609.0C568.2,604.8 570.1,600.5 572.3,596.4C574.6,592.3 577.1,588.4 579.9,584.7C582.6,580.9 585.7,577.4 588.9,574.1C592.2,570.7 595.7,567.6 599.3,564.8C603.0,561.9 606.9,559.2 610.9,556.9C615.0,554.7 619.2,552.7 623.5,551.0C627.9,549.4 632.4,548.0 636.9,546.9C641.4,545.7 646.0,544.8 650.6,544.1C655.2,543.3 659.8,542.9 664.5,542.5C669.1,542.2 673.8,541.9 678.4,541.9C683.1,541.9 687.8,542.0 692.4,542.3C697.1,542.7 701.7,543.2 706.3,544.0C710.9,544.8 715.4,545.9 719.9,547.1C724.4,548.3 728.9,549.8 733.3,551.1C737.8,552.5 742.2,553.9 746.7,555.3C750.8,556.6 755.0,558.0 759.1,559.2C763.6,560.6 768.0,562.0 772.5,563.2C777.0,564.5 781.5,565.6 786.1,566.6C790.6,567.6 795.2,568.5 799.8,569.4C804.4,570.3 809.0,571.1 813.6,571.9C818.2,572.7 822.8,573.5 827.4,574.3C832.0,575.1 836.6,575.8 841.2,576.7C845.8,577.5 850.3,578.5 854.9,579.4C859.5,580.3 864.0,581.3 868.6,582.3"/>
<path d="M509.7,801.5C513.9,803.3 518.6,804.3 522.4,806.9C526.0,809.5 529.1,813.0 531.6,816.7C534.3,820.5 535.9,825.0 537.6,829.3C539.3,833.6 540.7,838.1 541.9,842.5C543.2,847.0 544.2,851.6 545.1,856.2C546.1,860.7 546.8,865.3 547.6,869.9C548.3,874.6 548.9,879.2 549.5,883.8C550.1,888.4 550.6,893.1 551.2,897.7C551.7,902.3 552.1,907.0 552.6,911.6C553.1,916.3 553.5,920.9 553.9,925.6C554.4,930.2 554.8,934.9 555.3,939.5C555.7,944.1 556.3,948.8 556.8,953.4C557.3,958.1 557.9,962.7 558.2,967.3C558.6,972.0 558.8,976.7 558.9,981.3C559.0,986.0 559.0,990.6 558.9,995.3C558.9,1000.0 558.8,1004.6 558.7,1009.3C558.6,1014.0 558.5,1018.6 558.3,1023.3C558.2,1028.0 558.1,1032.6 557.9,1037.3C557.7,1042.0 557.6,1046.6 557.4,1051.3C557.3,1056.0 557.1,1060.6 556.9,1065.3C556.8,1070.0 556.6,1074.6 556.5,1079.3C556.4,1083.9 556.3,1088.6 556.1,1093.3C556.0,1097.9 556.0,1102.6 555.9,1107.3C555.8,1111.9 555.7,1116.6 555.7,1121.3C555.6,1125.9 555.6,1130.6 555.5,1135.3C555.5,1139.9 555.4,1144.6 555.4,1149.3C555.3,1153.9 555.3,1158.6 555.3,1163.3C555.2,1167.9 555.2,1172.6 555.2,1177.3C555.2,1181.9 555.1,1186.6 555.1,1191.3C555.1,1195.9 555.1,1200.6 555.1,1205.3C555.1,1209.9 555.1,1214.6 555.1,1219.3C555.1,1223.9 555.0,1228.6 555.0,1233.3C555.0,1237.9 555.0,1242.6 555.0,1247.3C555.0,1251.9 555.0,1256.6 555.0,1261.3C555.0,1265.9 555.0,1270.6 555.0,1275.3C555.0,1279.9 555.0,1284.6 555.0,1289.3C555.1,1293.9 555.1,1298.6 555.1,1303.3C555.1,1307.9 555.1,1312.6 555.1,1317.3C555.1,1321.9 555.1,1326.6 555.1,1331.3C555.1,1335.9 555.1,1340.6 555.1,1345.3C555.1,1349.9 555.1,1354.6 555.1,1359.3C555.2,1363.9 555.2,1368.6 555.2,1373.3C555.2,1377.9 555.2,1382.6 555.2,1387.3C555.2,1391.9 555.2,1396.6 555.2,1401.3C555.2,1405.9 555.2,1410.6 555.2,1415.3C555.2,1419.9 555.3,1424.6 555.3,1429.3C555.3,1433.9 555.3,1438.6 555.3,1443.3C555.3,1447.9 555.4,1452.6 555.4,1457.3C555.4,1461.9 555.4,1466.6 555.4,1471.3C555.4,1475.9 555.4,1480.6 555.4,1485.3C555.4,1489.9 555.4,1494.6 555.4,1499.3C555.4,1503.9 555.4,1508.6 555.4,1513.3C555.4,1517.9 555.4,1522.6 555.4,1527.3C555.4,1531.9 555.4,1536.6 555.4,1541.3C555.4,1545.9 555.4,1550.6 555.4,1555.3C555.4,1559.9 555.4,1564.6 555.4,1569.3C555.4,1573.9 555.4,1578.6 555.3,1583.3C555.3,1587.9 555.3,1592.6 555.3,1597.3C555.3,1601.9 555.3,1606.6 555.3,1611.3C555.2,1615.9 555.2,1620.6 555.2,1625.3C555.2,1629.9 555.1,1634.6 555.1,1639.3C555.0,1643.9 555.0,1648.6 554.9,1653.3C554.8,1657.9 554.7,1662.6 554.6,1667.3C554.4,1671.9 554.3,1676.6 554.1,1681.3C553.9,1685.9 553.7,1690.6 553.5,1695.3C553.3,1699.9 553.2,1704.6 553.1,1709.2C552.9,1713.9 552.8,1718.6 552.8,1723.2C552.8,1727.9 552.8,1732.6 553.0,1737.2C553.1,1741.9 553.3,1746.6 553.7,1751.2C554.1,1755.9 554.5,1760.5 555.1,1765.1C555.7,1769.8 556.5,1774.4 557.3,1779.0C558.2,1783.5 559.2,1788.1 560.4,1792.6C561.6,1797.1 562.8,1801.6 564.7,1805.9C566.6,1810.1 568.7,1814.2 571.7,1817.8C574.6,1821.3 578.2,1824.3 582.1,1826.8C585.9,1829.4 590.2,1831.3 594.5,1833.0C598.8,1834.7 603.4,1835.9 607.9,1837.0C612.4,1838.1 617.0,1838.8 621.7,1839.5C626.3,1840.2 630.9,1840.6 635.6,1841.0C640.2,1841.5 644.9,1841.8 649.5,1842.1C654.2,1842.4 658.8,1842.6 663.5,1842.8C668.2,1843.1 672.8,1843.4 677.5,1843.6C682.1,1843.9 686.8,1844.1 691.5,1844.3C696.1,1844.5 700.8,1844.6 705.5,1844.7C710.1,1844.8 714.8,1844.9 719.4,1844.9C724.1,1845.0 728.8,1845.0 733.4,1844.9C738.1,1844.9 742.8,1844.8 747.4,1844.6C752.1,1844.5 756.8,1844.3 761.4,1844.1C766.1,1843.8 770.8,1843.5 775.4,1843.3C780.1,1843.0 784.7,1842.7 789.4,1842.4C794.0,1842.1 798.7,1841.9 803.4,1841.6C808.0,1841.4 812.7,1841.1 817.3,1840.9C822.0,1840.6 826.7,1840.3 831.3,1840.1C836.0,1839.8 840.6,1839.6 845.3,1839.3"/>
<path d="M509.7,801.5C514.1,802.8 518.8,803.5 523.0,805.4C527.2,807.3 531.3,809.6 534.7,812.6C538.2,815.6 541.1,819.3 543.5,823.3C545.9,827.2 547.4,831.6 548.9,836.0C550.4,840.4 551.4,845.0 552.3,849.6C553.3,854.1 554.1,858.7 554.8,863.3C555.6,868.0 556.1,872.6 556.7,877.2C557.2,881.9 557.7,886.5 558.2,891.1C558.6,895.8 559.0,900.4 559.4,905.1C559.7,909.4 560.0,913.7 560.3,918.1C560.6,922.7 560.9,927.4 561.1,932.0C561.4,936.7 561.7,941.4 562.0,946.0C562.3,950.7 562.5,955.3 562.7,960.0C562.9,964.7 563.1,969.3 563.1,974.0C563.2,978.7 563.1,983.3 563.1,988.0C563.0,992.7 562.8,997.3 562.7,1002.0C562.5,1006.7 562.3,1011.3 562.1,1016.0C561.9,1020.6 561.6,1025.3 561.4,1030.0C561.1,1034.6 560.9,1039.3 560.7,1043.9C560.5,1048.6 560.3,1053.3 560.1,1057.9C559.9,1062.6 559.8,1067.3 559.6,1071.9C559.4,1076.6 559.3,1081.3 559.1,1085.9C558.9,1090.6 558.8,1095.3 558.6,1099.9C558.4,1104.6 558.3,1109.2 558.1,1113.9C558.0,1118.6 557.8,1123.2 557.7,1127.9C557.5,1132.6 557.4,1137.2 557.3,1141.9C557.1,1146.6 557.0,1151.2 556.9,1155.9C556.8,1160.2 556.7,1164.6 556.7,1168.9C556.6,1173.6 556.5,1178.2 556.5,1182.9C556.4,1187.6 556.4,1192.2 556.4,1196.9C556.3,1201.6 556.3,1206.2 556.3,1210.9C556.2,1215.6 556.2,1220.2 556.2,1224.9C556.2,1229.6 556.2,1234.2 556.2,1238.9C556.1,1243.6 556.1,1248.2 556.1,1252.9C556.1,1257.6 556.1,1262.2 556.1,1266.9C556.1,1271.6 556.1,1276.2 556.2,1280.9C556.2,1285.6 556.2,1290.2 556.2,1294.9C556.2,1299.6 556.2,1304.2 556.2,1308.9C556.2,1313.6 556.2,1318.3 556.3,1322.9C556.3,1327.6 556.3,1332.3 556.3,1336.9C556.3,1341.6 556.3,1346.3 556.3,1350.9C556.3,1355.6 556.4,1360.3 556.4,1364.9C556.4,1369.6 556.4,1374.3 556.4,1378.9C556.4,1383.6 556.4,1388.3 556.4,1392.9C556.4,1397.6 556.4,1402.3 556.4,1406.9C556.4,1411.3 556.4,1415.6 556.4,1419.9C556.4,1424.6 556.3,1429.3 556.3,1433.9C556.3,1438.6 556.3,1443.3 556.3,1447.9C556.3,1452.6 556.3,1457.3 556.3,1461.9C556.3,1466.6 556.4,1471.3 556.4,1475.9C556.4,1480.6 556.4,1485.3 556.5,1489.9C556.5,1494.6 556.5,1499.3 556.6,1503.9C556.6,1508.6 556.6,1513.3 556.6,1517.9C556.7,1522.6 556.7,1527.3 556.7,1531.9C556.8,1536.6 556.8,1541.3 556.8,1545.9C556.9,1550.6 556.9,1555.3 557.0,1559.9C557.0,1564.6 557.1,1569.3 557.1,1574.0C557.2,1578.6 557.3,1583.3 557.3,1588.0C557.4,1592.6 557.5,1597.3 557.6,1602.0C557.7,1606.6 557.8,1611.3 557.9,1615.9C558.0,1620.6 558.1,1625.3 558.3,1629.9C558.4,1634.6 558.5,1639.3 558.7,1643.9C558.9,1648.6 559.0,1653.3 559.2,1657.9C559.4,1662.3 559.6,1666.6 559.9,1670.9C560.1,1675.6 560.4,1680.2 560.8,1684.9C561.1,1689.5 561.5,1694.2 562.0,1698.8C562.4,1703.5 563.0,1708.1 563.7,1712.7C564.3,1717.3 565.2,1721.9 566.1,1726.5C567.1,1731.1 568.2,1735.6 569.4,1740.1C570.6,1744.6 571.8,1749.1 573.3,1753.5C574.9,1757.9 576.4,1762.4 578.6,1766.4C580.8,1770.5 583.4,1774.4 586.6,1777.8C589.7,1781.1 593.5,1783.9 597.4,1786.3C601.4,1788.6 605.8,1790.2 610.2,1791.8C614.6,1793.3 619.1,1794.4 623.7,1795.4C628.2,1796.5 632.8,1797.4 637.4,1798.3C642.0,1799.2 646.6,1799.9 651.2,1800.6C655.8,1801.4 660.4,1802.0 665.0,1802.7C669.6,1803.4 674.3,1804.0 678.9,1804.6C683.5,1805.2 688.2,1805.8 692.8,1806.3C697.4,1806.8 702.1,1807.2 706.7,1807.6C711.1,1808.0 715.4,1808.3 719.7,1808.7C724.3,1809.1 729.0,1809.5 733.6,1809.9C738.3,1810.4 742.9,1810.8 747.6,1811.3C752.2,1811.7 756.9,1812.2 761.5,1812.6C766.2,1813.0 770.8,1813.5 775.5,1813.9C780.1,1814.3 784.8,1814.7 789.4,1815.1C794.1,1815.5 798.7,1815.9 803.4,1816.3C808.0,1816.6 812.7,1816.9 817.3,1817.2C822.0,1817.4 826.7,1817.7 831.3,1817.9C836.0,1818.1 840.6,1818.4 845.3,1818.6"/>
<path d="M488.5,906.8C493.0,907.9 497.6,908.9 502.1,910.2C506.6,911.4 511.2,912.4 515.4,914.3C519.6,916.2 523.7,918.4 527.3,921.3C530.9,924.2 533.9,927.8 536.6,931.6C539.2,935.4 541.3,939.6 543.2,943.8C545.1,948.1 546.5,952.5 547.9,957.0C549.4,961.4 551.0,965.8 551.9,970.4C552.9,975.2 553.4,980.2 553.7,985.1C553.9,989.8 553.6,994.5 553.6,999.1C553.5,1003.8 553.3,1008.5 553.1,1013.1C553.0,1017.8 552.7,1022.5 552.5,1027.1C552.3,1031.8 552.1,1036.5 551.8,1041.1C551.6,1045.8 551.3,1050.5 551.1,1055.1C550.8,1059.8 550.6,1064.4 550.3,1069.1C550.1,1073.8 549.9,1078.4 549.7,1083.1C549.5,1087.8 549.3,1092.4 549.1,1097.1C549.0,1101.8 548.8,1106.4 548.7,1111.1C548.6,1115.8 548.5,1120.4 548.4,1125.1C548.3,1129.8 548.2,1134.4 548.2,1139.1C548.1,1143.8 548.0,1148.5 548.0,1153.1C547.9,1157.8 547.9,1162.5 547.8,1167.1C547.8,1171.8 547.7,1176.5 547.7,1181.1C547.6,1186.1 547.6,1191.1 547.5,1196.1C547.5,1200.8 547.4,1205.5 547.4,1210.2C547.3,1214.8 547.3,1219.5 547.2,1224.2C547.2,1228.8 547.2,1233.5 547.1,1238.2C547.1,1242.8 547.1,1247.5 547.0,1252.2C547.0,1256.8 547.0,1261.5 547.0,1266.2C547.0,1270.9 547.0,1275.5 547.0,1280.2C547.0,1284.9 547.0,1289.5 547.0,1294.2C547.1,1298.9 547.1,1303.5 547.1,1308.2C547.2,1312.9 547.2,1317.6 547.2,1322.2C547.3,1326.9 547.4,1331.6 547.4,1336.2C547.5,1340.9 547.6,1345.6 547.7,1350.2C547.7,1354.9 547.8,1359.6 547.9,1364.2C548.0,1368.9 548.2,1373.6 548.3,1378.2C548.4,1382.9 548.6,1387.6 548.7,1392.2C548.9,1397.2 549.2,1402.2 549.4,1407.2C549.6,1411.9 549.9,1416.6 550.1,1421.2C550.3,1425.9 550.6,1430.6 550.8,1435.2C551.1,1439.9 551.3,1444.5 551.5,1449.2C551.7,1453.9 551.9,1458.5 552.0,1463.2C552.2,1467.9 552.3,1472.5 552.3,1477.2C552.4,1481.9 552.4,1486.6 552.5,1491.2C552.5,1495.9 552.5,1500.6 552.5,1505.2C552.6,1509.9 552.6,1514.6 552.6,1519.2C552.6,1523.9 552.6,1528.6 552.6,1533.3C552.5,1537.9 552.5,1542.6 552.5,1547.3C552.5,1551.9 552.5,1556.6 552.4,1561.3C552.4,1565.9 552.4,1570.6 552.4,1575.3C552.3,1579.9 552.3,1584.6 552.2,1589.3C552.2,1594.0 552.2,1598.6 552.1,1603.3C552.1,1608.3 552.0,1613.3 552.0,1618.3C551.9,1623.0 551.9,1627.6 551.8,1632.3C551.7,1637.0 551.7,1641.6 551.6,1646.3C551.6,1651.0 551.5,1655.7 551.5,1660.3C551.4,1665.0 551.4,1669.7 551.3,1674.3C551.2,1679.0 551.2,1683.7 551.1,1688.3C551.1,1693.0 551.0,1697.7 550.9,1702.3C550.9,1707.0 550.7,1711.7 550.6,1716.3C550.5,1721.0 550.3,1725.7 550.1,1730.3C549.9,1735.0 549.7,1739.7 549.6,1744.3C549.4,1749.0 549.2,1753.7 549.1,1758.3C549.0,1763.0 549.0,1767.7 549.0,1772.4C549.0,1777.0 549.0,1781.7 549.2,1786.4C549.3,1791.0 549.5,1795.7 549.9,1800.3C550.3,1805.0 550.7,1809.7 551.5,1814.2C552.4,1819.1 553.4,1824.1 555.0,1828.8C556.5,1833.2 558.3,1837.5 560.7,1841.5C563.1,1845.4 566.1,1849.0 569.5,1852.1C572.9,1855.2 576.9,1857.7 581.0,1859.8C585.1,1861.9 589.5,1863.5 594.0,1864.8C598.4,1866.2 603.0,1867.2 607.6,1868.0C612.2,1868.9 616.8,1869.5 621.5,1870.0C626.1,1870.5 630.8,1870.8 635.4,1871.1C640.1,1871.3 644.7,1871.5 649.4,1871.6C654.1,1871.6 658.7,1871.6 663.4,1871.6C668.1,1871.5 672.8,1871.4 677.4,1871.2C682.1,1871.0 686.7,1870.8 691.4,1870.5C696.1,1870.2 700.7,1869.9 705.4,1869.5C710.0,1869.1 714.7,1868.7 719.3,1868.2C724.0,1867.7 728.6,1867.1 733.2,1866.5C738.2,1865.9 743.1,1865.2 748.1,1864.5C752.7,1863.9 757.4,1863.2 762.0,1862.6C766.6,1861.9 771.2,1861.3 775.9,1860.7C780.5,1860.1 785.1,1859.5 789.8,1858.9C794.4,1858.3 799.0,1857.6 803.6,1857.0C808.3,1856.4 812.9,1855.8 817.5,1855.1C822.1,1854.5 826.8,1853.9 831.4,1853.3C836.0,1852.7 840.7,1852.1 845.3,1851.5"/>
<path d="M488.5,906.8C493.1,907.6 497.8,907.8 502.2,909.2C506.5,910.5 510.9,912.2 514.5,914.9C518.1,917.8 520.7,921.7 523.2,925.5C525.7,929.4 527.5,933.7 529.3,938.1C531.0,942.4 532.3,946.9 533.5,951.4C534.7,955.9 535.6,960.5 536.7,965.0C537.7,969.5 538.5,974.2 540.0,978.5C541.6,982.9 544.0,986.9 546.0,991.1C548.1,995.2 550.8,999.1 552.4,1003.5C554.1,1007.8 555.0,1012.3 555.9,1016.9C556.7,1021.5 557.1,1026.1 557.5,1030.8C558.0,1035.4 558.2,1040.1 558.5,1044.7C558.8,1049.4 558.9,1054.1 559.1,1058.7C559.2,1063.4 559.3,1068.1 559.4,1072.7C559.5,1077.4 559.6,1082.1 559.7,1086.8C559.8,1091.4 559.9,1096.1 560.0,1100.8C560.1,1105.1 560.3,1109.4 560.3,1113.8C560.4,1118.4 560.5,1123.1 560.6,1127.8C560.6,1132.4 560.6,1137.1 560.7,1141.8C560.7,1146.4 560.7,1151.1 560.7,1155.8C560.6,1160.5 560.6,1165.1 560.6,1169.8C560.5,1174.5 560.5,1179.1 560.4,1183.8C560.4,1188.5 560.3,1193.1 560.2,1197.8C560.1,1202.5 560.0,1207.1 559.9,1211.8C559.8,1216.5 559.6,1221.2 559.5,1225.8C559.4,1230.5 559.2,1235.2 559.1,1239.8C559.0,1244.5 558.8,1249.2 558.7,1253.8C558.6,1258.5 558.4,1263.2 558.3,1267.8C558.2,1272.5 558.1,1277.2 557.9,1281.8C557.8,1286.5 557.7,1291.2 557.5,1295.8C557.4,1300.5 557.3,1305.2 557.1,1309.8C557.0,1314.5 556.9,1319.2 556.8,1323.8C556.7,1328.5 556.6,1333.2 556.6,1337.9C556.5,1342.5 556.5,1347.2 556.4,1351.9C556.4,1356.5 556.3,1361.2 556.3,1365.9C556.3,1370.5 556.3,1375.2 556.3,1379.9C556.2,1384.5 556.2,1389.2 556.2,1393.9C556.2,1398.6 556.2,1403.2 556.2,1407.9C556.2,1412.6 556.2,1417.2 556.2,1421.9C556.2,1426.6 556.2,1431.2 556.2,1435.9C556.2,1440.6 556.2,1445.3 556.2,1449.9C556.2,1454.6 556.1,1459.3 556.1,1463.9C556.1,1468.6 556.1,1473.3 556.0,1477.9C556.0,1482.6 555.9,1487.3 555.9,1491.9C555.8,1496.6 555.8,1501.3 555.7,1506.0C555.7,1510.6 555.6,1515.3 555.5,1520.0C555.5,1524.6 555.4,1529.3 555.3,1534.0C555.3,1538.6 555.2,1543.3 555.1,1548.0C555.1,1552.6 555.0,1557.3 554.9,1562.0C554.9,1566.3 554.8,1570.7 554.7,1575.0C554.7,1579.7 554.6,1584.3 554.5,1589.0C554.4,1593.7 554.4,1598.3 554.3,1603.0C554.2,1607.7 554.2,1612.3 554.1,1617.0C554.0,1621.7 553.9,1626.4 553.9,1631.0C553.8,1635.7 553.7,1640.4 553.7,1645.0C553.6,1649.7 553.5,1654.4 553.5,1659.0C553.4,1663.7 553.4,1668.4 553.3,1673.0C553.2,1677.7 553.2,1682.4 553.1,1687.1C553.1,1691.7 553.0,1696.4 553.0,1701.1C552.9,1705.7 552.9,1710.4 552.8,1715.1C552.8,1719.7 552.8,1724.4 552.7,1729.1C552.7,1733.7 552.7,1738.4 552.7,1743.1C552.6,1747.8 552.6,1752.4 552.7,1757.1C552.7,1761.8 552.8,1766.4 552.8,1771.1C552.9,1775.8 553.0,1780.4 553.1,1785.1C553.3,1789.8 553.4,1794.4 553.6,1799.1C553.8,1803.8 554.0,1808.4 554.2,1813.1C554.5,1817.8 554.8,1822.4 555.2,1827.1C555.6,1831.7 556.1,1836.4 556.6,1841.0C557.2,1845.6 557.7,1850.3 558.4,1854.9C559.1,1859.5 559.7,1864.2 560.7,1868.7C561.6,1873.3 562.7,1877.8 564.1,1882.3C565.6,1886.7 567.3,1891.1 569.3,1895.2C571.4,1899.4 573.8,1903.4 576.5,1907.2C579.2,1911.0 582.2,1914.6 585.4,1918.0C588.5,1921.4 592.0,1924.6 595.5,1927.7C599.0,1930.8 602.6,1933.7 606.3,1936.5C610.1,1939.2 613.9,1941.9 617.9,1944.3C621.9,1946.7 626.0,1948.9 630.3,1950.9C634.5,1952.8 638.9,1954.5 643.3,1955.9C647.7,1957.4 652.3,1958.5 656.8,1959.4C661.4,1960.2 666.1,1960.9 670.7,1961.3C675.3,1961.6 680.0,1961.8 684.7,1961.6C689.0,1961.5 693.3,1961.0 697.6,1960.3C702.2,1959.6 706.8,1958.6 711.3,1957.6C715.9,1956.6 720.4,1955.5 724.9,1954.2C729.4,1953.0 733.9,1951.6 738.3,1950.2C742.7,1948.7 747.1,1947.1 751.5,1945.6C755.9,1944.0 760.3,1942.4 764.7,1940.9C769.1,1939.3 773.6,1937.8 778.0,1936.3C782.4,1934.8 786.8,1933.4 791.3,1931.9C795.7,1930.4 800.1,1928.9 804.5,1927.4C809.0,1925.9 813.4,1924.4 817.8,1922.8C822.2,1921.2 826.6,1919.6 830.9,1917.9C835.2,1916.2 839.6,1914.4 843.8,1912.5C848.1,1910.6 852.3,1908.6 856.4,1906.5C860.6,1904.4 864.7,1902.2 868.8,1899.9C872.9,1897.7 877.0,1895.4 881.0,1893.0C885.0,1890.6 888.9,1888.1 892.9,1885.5C896.8,1883.0 900.7,1880.4 904.6,1877.9"/>
<path d="M505.2,1047.4C509.8,1048.3 514.4,1048.8 518.9,1050.1C523.4,1051.3 527.9,1052.5 531.9,1054.7C535.9,1057.0 539.5,1060.0 542.7,1063.3C545.9,1066.6 548.7,1070.4 551.2,1074.3C553.8,1078.2 556.0,1082.3 557.9,1086.6C559.9,1090.8 561.5,1095.2 563.1,1099.6C564.6,1104.0 565.9,1108.5 567.1,1113.0C568.3,1117.2 569.2,1121.4 570.1,1125.6C571.0,1130.2 571.9,1134.8 572.5,1139.4C573.2,1144.0 573.6,1148.7 574.0,1153.3C574.4,1158.0 574.7,1162.6 574.9,1167.3C575.2,1172.0 575.3,1176.6 575.5,1181.3C575.6,1186.0 575.7,1190.6 575.7,1195.3C575.8,1200.0 575.8,1204.7 575.8,1209.3C575.7,1214.0 575.7,1218.7 575.7,1223.3C575.6,1228.0 575.5,1232.7 575.4,1237.3C575.3,1242.0 575.2,1246.7 575.0,1251.3C574.8,1256.0 574.7,1260.7 574.4,1265.3C574.2,1270.0 574.0,1274.7 573.7,1279.3C573.4,1284.0 573.1,1288.6 572.8,1293.3C572.5,1297.6 572.1,1302.0 571.8,1306.3C571.4,1310.9 571.0,1315.6 570.7,1320.2C570.3,1324.9 569.9,1329.5 569.6,1334.2C569.2,1338.9 568.9,1343.5 568.5,1348.2C568.1,1352.8 567.8,1357.5 567.4,1362.1C567.0,1366.8 566.7,1371.4 566.3,1376.1C565.9,1380.8 565.5,1385.4 565.1,1390.1C564.7,1394.7 564.3,1399.4 563.9,1404.0C563.4,1408.7 562.9,1413.3 562.4,1418.0C562.0,1422.6 561.5,1427.2 561.0,1431.9C560.5,1436.5 560.1,1441.2 559.6,1445.8C559.2,1450.5 558.8,1455.1 558.4,1459.8C558.0,1464.4 557.7,1469.1 557.5,1473.8C557.3,1478.4 557.2,1483.1 557.1,1487.8C557.0,1492.4 556.9,1497.1 556.9,1501.8C556.8,1506.1 556.8,1510.4 556.8,1514.8C556.7,1519.4 556.7,1524.1 556.7,1528.8C556.7,1533.5 556.8,1538.1 556.8,1542.8C556.8,1547.5 556.9,1552.1 557.0,1556.8C557.0,1561.5 557.1,1566.1 557.2,1570.8C557.3,1575.5 557.4,1580.1 557.5,1584.8C557.7,1589.5 557.8,1594.1 557.9,1598.8C558.1,1603.5 558.2,1608.1 558.4,1612.8C558.6,1617.5 558.8,1622.1 558.9,1626.8C559.1,1631.5 559.3,1636.1 559.6,1640.8C559.8,1645.5 560.0,1650.1 560.3,1654.8C560.5,1659.5 560.8,1664.1 561.0,1668.8C561.3,1673.4 561.6,1678.1 561.9,1682.8C562.1,1687.1 562.4,1691.4 562.7,1695.7C563.0,1700.4 563.4,1705.1 563.7,1709.7C564.0,1714.4 564.4,1719.0 564.7,1723.7C565.1,1728.4 565.4,1733.0 565.8,1737.7C566.2,1742.3 566.6,1747.0 567.0,1751.6C567.4,1756.3 567.8,1760.9 568.2,1765.6C568.6,1770.2 569.1,1774.9 569.6,1779.5C570.1,1784.2 570.6,1788.8 571.2,1793.4C571.7,1798.1 572.3,1802.7 572.9,1807.3C573.6,1812.0 574.1,1816.6 574.9,1821.2C575.8,1825.8 576.7,1830.4 578.1,1834.8C579.4,1839.3 581.1,1843.6 583.0,1847.9C585.0,1852.1 587.3,1856.2 589.8,1860.1C592.3,1864.0 595.1,1867.7 598.1,1871.3C601.1,1874.9 604.3,1878.2 607.6,1881.5C610.7,1884.6 613.9,1887.5 617.2,1890.3C620.8,1893.3 624.5,1896.2 628.3,1898.9C632.1,1901.6 636.0,1904.1 640.0,1906.5C644.0,1908.9 648.2,1911.1 652.3,1913.2C656.5,1915.2 660.8,1917.2 665.1,1918.9C669.5,1920.5 673.9,1922.1 678.4,1923.2C682.9,1924.4 687.5,1925.3 692.1,1925.8C696.7,1926.3 701.4,1926.3 706.1,1926.1C710.7,1926.0 715.4,1925.4 720.0,1924.8C724.6,1924.3 729.2,1923.5 733.9,1922.8C738.5,1922.2 743.1,1921.6 747.7,1920.8C752.3,1920.1 756.9,1919.4 761.5,1918.5C766.1,1917.6 770.7,1916.7 775.2,1915.6C779.4,1914.5 783.6,1913.4 787.8,1912.1C792.2,1910.8 796.6,1909.2 801.0,1907.6C805.4,1905.9 809.7,1904.1 814.0,1902.3C818.3,1900.5 822.6,1898.6 826.8,1896.8C831.1,1895.0 835.4,1893.1 839.7,1891.3C844.0,1889.5 848.3,1887.6 852.6,1885.8C856.9,1883.9 861.2,1882.1 865.5,1880.2C869.7,1878.3 874.0,1876.5 878.3,1874.6"/>
<path d="M502.6,1458.6C507.2,1458.1 511.9,1457.8 516.5,1457.1C521.1,1456.4 525.7,1455.6 530.2,1454.4C534.7,1453.2 539.1,1451.6 543.5,1450.1C547.9,1448.5 552.2,1446.8 556.6,1445.2C561.1,1443.7 565.5,1442.2 570.0,1441.0C574.5,1439.7 579.0,1438.7 583.6,1437.8C588.1,1436.8 592.7,1436.0 597.3,1435.2C601.9,1434.4 606.6,1433.7 611.2,1433.1C615.8,1432.5 620.5,1431.9 625.1,1431.5C629.7,1431.0 634.4,1430.6 639.0,1430.2C643.7,1429.9 648.4,1429.6 653.0,1429.4C657.7,1429.2 662.3,1429.1 667.0,1429.0C671.7,1428.9 676.3,1428.8 681.0,1428.8C685.7,1428.7 690.3,1428.7 695.0,1428.6C699.7,1428.5 704.4,1428.5 709.0,1428.3C713.7,1428.2 718.3,1428.0 723.0,1427.7C727.7,1427.4 732.3,1427.1 736.9,1426.4C741.5,1425.7 746.1,1424.7 750.6,1423.5C755.1,1422.3 759.5,1420.8 763.9,1419.2C768.3,1417.6 772.6,1415.9 776.9,1414.1C781.2,1412.3 785.5,1410.3 789.7,1408.4C794.3,1406.3 798.8,1404.2 803.3,1402.1C807.6,1400.2 811.9,1398.4 816.1,1396.4C820.4,1394.5 824.7,1392.6 828.8,1390.5C832.9,1388.3 837.0,1386.0 840.9,1383.4C844.7,1380.8 848.4,1377.9 851.8,1374.7C855.2,1371.5 858.3,1368.0 861.3,1364.5C864.3,1360.9 867.0,1357.1 869.7,1353.3C872.4,1349.5 874.9,1345.6 877.5,1341.7C880.0,1337.8 882.5,1333.8 884.9,1329.8C887.3,1325.8 889.7,1321.8 892.0,1317.7C894.3,1313.7 896.5,1309.6 898.7,1305.4C900.9,1301.3 903.0,1297.2 905.1,1293.0C907.2,1288.8 909.3,1284.6 911.3,1280.4C913.3,1276.2 915.3,1272.0 917.2,1267.7C919.1,1263.5 920.9,1259.2 922.7,1254.8C924.4,1250.5 926.1,1246.2 927.8,1241.8C929.5,1237.5 931.1,1233.1 932.8,1228.7C934.5,1224.4 936.1,1220.0 937.8,1215.7C939.5,1211.3 941.1,1206.9 942.8,1202.6C944.4,1198.2 946.0,1193.8 947.6,1189.4C949.3,1185.1 950.9,1180.7 952.5,1176.3"/>
<path d="M502.6,1458.6C507.2,1459.0 512.0,1458.9 516.5,1459.8C521.1,1460.6 525.6,1461.8 529.8,1463.6C534.1,1465.5 537.9,1468.2 541.7,1470.8C545.6,1473.5 549.2,1476.5 552.9,1479.3C556.6,1482.2 560.2,1485.1 563.9,1488.1C567.5,1491.1 571.0,1494.2 574.6,1497.1C578.2,1500.1 581.8,1503.1 585.6,1505.8C589.5,1508.4 593.5,1510.8 597.6,1513.0C601.7,1515.3 606.0,1517.1 610.3,1519.0C614.5,1521.0 618.8,1522.8 623.1,1524.7"/>
<path d="M502.6,1458.6C507.0,1460.1 511.7,1460.8 515.7,1463.0C519.8,1465.1 523.4,1468.0 526.6,1471.2C529.9,1474.5 532.4,1478.5 535.0,1482.4C537.6,1486.3 539.8,1490.4 541.9,1494.5C544.0,1498.7 546.0,1502.9 547.6,1507.3C549.3,1511.6 550.7,1516.1 551.9,1520.6C553.1,1525.1 553.9,1529.7 554.7,1534.3C555.5,1538.9 556.0,1543.5 556.6,1548.2C557.1,1552.8 557.5,1557.5 558.0,1562.1C558.4,1566.8 558.8,1571.4 559.2,1576.1C559.6,1580.4 559.9,1584.7 560.2,1589.0C560.5,1593.7 560.8,1598.4 561.1,1603.0C561.4,1607.7 561.6,1612.3 562.0,1617.0C562.4,1621.7 562.7,1626.3 563.2,1631.0C563.7,1635.6 564.5,1640.2 565.1,1644.8C565.8,1649.4 566.6,1654.1 567.2,1658.7C567.9,1663.3 568.5,1667.9 569.2,1672.5C570.0,1677.1 570.7,1681.8 571.8,1686.3C572.8,1690.8 574.0,1695.4 575.5,1699.8C577.1,1704.2 578.7,1708.6 580.9,1712.6C583.1,1716.7 585.7,1720.6 588.8,1724.1C591.8,1727.5 595.4,1730.6 599.1,1733.4C602.9,1736.1 607.0,1738.4 611.2,1740.3C615.4,1742.2 619.9,1743.6 624.4,1744.8C628.9,1746.0 633.5,1746.8 638.1,1747.5C642.7,1748.2 647.4,1748.7 652.0,1749.1C656.7,1749.4 661.3,1749.6 666.0,1749.7C670.7,1749.7 675.3,1749.5 680.0,1749.3C684.7,1749.1 689.3,1748.8 694.0,1748.5C698.6,1748.1 703.3,1747.8 707.9,1747.4C712.6,1746.9 717.2,1746.3 721.9,1745.8C726.2,1745.2 730.4,1744.6 734.8,1744.1C739.4,1743.6 744.0,1743.2 748.7,1743.0C753.4,1742.9 758.0,1743.0 762.7,1743.3C767.4,1743.5 772.0,1744.0 776.6,1744.5C781.3,1745.1 785.9,1745.8 790.5,1746.7C795.1,1747.6 799.6,1748.5 804.1,1749.7C808.6,1751.0 813.1,1752.4 817.5,1754.0C821.8,1755.6 826.1,1757.5 830.5,1759.2C834.8,1760.9 839.1,1762.7 843.5,1764.3C847.9,1765.9 852.3,1767.4 856.7,1768.9C861.1,1770.4 865.6,1771.9 870.0,1773.4"/>
<path d="M502.6,1458.6C506.8,1460.5 511.4,1461.8 515.2,1464.3C519.0,1466.8 522.3,1470.1 525.3,1473.6C528.3,1477.1 530.7,1481.2 533.1,1485.2C535.6,1489.5 537.9,1493.9 540.1,1498.4C542.0,1502.7 543.8,1507.0 545.4,1511.4C546.9,1515.8 548.2,1520.3 549.2,1524.8C550.3,1529.3 551.0,1534.0 551.7,1538.6C552.4,1543.2 552.9,1547.8 553.4,1552.5C553.9,1557.1 554.3,1561.8 554.7,1566.4C555.1,1571.1 555.4,1575.7 555.7,1580.4C556.1,1585.4 556.4,1590.4 556.6,1595.4C556.9,1600.0 557.1,1604.7 557.3,1609.4C557.5,1614.0 557.7,1618.7 558.0,1623.3C558.2,1628.0 558.5,1632.7 558.8,1637.3C559.1,1642.0 559.5,1646.6 559.8,1651.3C560.2,1655.9 560.6,1660.6 561.0,1665.2C561.4,1669.9 561.9,1674.5 562.5,1679.2C563.2,1684.1 563.9,1689.1 564.8,1694.0C565.6,1698.6 566.5,1703.2 567.7,1707.7C568.9,1712.2 570.2,1716.7 571.8,1721.1C573.4,1725.4 575.2,1729.8 577.4,1733.9C579.5,1737.9 581.9,1742.0 584.9,1745.5C587.8,1749.1 591.3,1752.2 595.0,1754.9C599.1,1757.9 603.5,1760.2 608.0,1762.3C612.2,1764.3 616.7,1765.7 621.2,1767.0C625.6,1768.3 630.2,1769.2 634.8,1770.0C639.4,1770.9 644.0,1771.5 648.7,1772.1C653.3,1772.7 657.9,1773.1 662.6,1773.6C667.2,1774.0 671.9,1774.4 676.5,1774.7C681.2,1775.1 685.8,1775.5 690.5,1775.9C695.5,1776.3 700.5,1776.7 705.5,1777.0C710.1,1777.3 714.8,1777.6 719.4,1777.8C724.1,1778.1 728.8,1778.3 733.4,1778.5C738.1,1778.8 742.8,1779.0 747.4,1779.3C752.1,1779.5 756.7,1779.8 761.4,1780.1C766.1,1780.4 770.7,1780.7 775.4,1781.1C780.0,1781.4 784.7,1781.8 789.3,1782.2C794.3,1782.6 799.3,1783.0 804.3,1783.6C808.9,1784.1 813.6,1784.7 818.1,1785.5C822.7,1786.3 827.3,1787.3 831.8,1788.4C836.3,1789.6 840.8,1790.9 845.3,1792.2"/>
<path d="M509.9,1563.3C514.4,1562.2 519.1,1562.0 523.3,1560.1C527.4,1558.2 531.0,1555.2 534.2,1552.0C537.5,1548.8 540.2,1544.9 542.9,1541.1C545.5,1537.2 547.8,1533.2 549.9,1529.0C551.9,1524.8 553.4,1520.4 555.0,1516.0C556.6,1511.6 557.7,1507.1 559.5,1502.7C561.2,1498.4 563.0,1494.1 565.4,1490.1C567.7,1486.1 570.5,1482.3 573.5,1478.8C576.6,1475.4 580.0,1472.2 583.8,1469.4C587.5,1466.7 591.6,1464.4 595.8,1462.4C600.0,1460.4 604.4,1458.9 608.9,1457.5C613.4,1456.1 617.9,1455.0 622.5,1454.2C627.1,1453.3 631.7,1452.8 636.4,1452.5C641.0,1452.2 645.7,1452.2 650.4,1452.2C655.1,1452.2 659.7,1452.4 664.4,1452.7C669.1,1452.9 673.7,1453.3 678.4,1453.7C683.0,1454.1 687.7,1454.6 692.3,1455.0C697.0,1455.5 701.6,1456.0 706.3,1456.5C710.9,1456.9 715.6,1457.4 720.2,1457.7C724.9,1458.1 729.5,1458.5 734.2,1458.8C738.9,1459.1 743.5,1459.5 748.2,1459.5C752.8,1459.5 757.5,1459.4 762.1,1458.8C766.8,1458.2 771.3,1457.0 775.8,1455.8C780.3,1454.6 784.7,1453.1 789.2,1451.7C793.6,1450.2 798.1,1448.8 802.4,1447.2C806.8,1445.6 811.2,1444.0 815.5,1442.0C819.7,1440.0 823.8,1437.8 827.7,1435.3C831.6,1432.7 835.4,1429.9 839.0,1427.0C842.6,1424.0 846.1,1420.9 849.4,1417.6C852.7,1414.4 855.9,1410.9 859.0,1407.4C862.0,1403.9 864.9,1400.2 867.8,1396.5C870.6,1392.8 873.4,1389.0 876.0,1385.2C878.7,1381.3 881.2,1377.4 883.7,1373.5C886.1,1369.5 888.5,1365.4 890.8,1361.4C893.0,1357.3 895.2,1353.1 897.2,1348.9C899.3,1344.7 901.2,1340.5 903.1,1336.2C905.0,1331.9 906.8,1327.6 908.5,1323.3C910.3,1319.0 912.0,1314.6 913.7,1310.2C915.4,1305.9 917.0,1301.5 918.7,1297.1C920.3,1292.8 922.0,1288.4 923.5,1284.0C925.1,1279.6 926.7,1275.2 928.2,1270.8C929.7,1266.4 931.2,1261.9 932.6,1257.5C934.1,1253.0 935.5,1248.6 936.9,1244.1C938.3,1239.7 939.7,1235.2 941.0,1230.7C942.3,1226.2 943.5,1221.7 944.7,1217.2C945.9,1212.7 947.0,1208.1 948.1,1203.6C949.2,1199.1 950.2,1194.5 951.3,1189.9C952.4,1185.4 953.4,1180.8 954.5,1176.3"/>
<path d="M509.9,1563.3C514.3,1562.9 518.6,1562.7 523.0,1562.2C527.6,1561.7 532.3,1561.3 536.9,1560.3C541.1,1559.4 545.3,1558.1 549.3,1556.5C553.4,1554.9 557.2,1552.8 561.1,1550.8C565.3,1548.7 569.4,1546.3 573.5,1544.1C577.4,1542.1 581.3,1540.1 585.3,1538.3C589.2,1536.4 593.2,1534.6 597.2,1532.9C601.6,1531.2 606.0,1529.6 610.5,1528.1C614.6,1526.8 618.9,1525.8 623.1,1524.7"/>
<path d="M509.9,1563.3C514.4,1562.2 519.1,1561.9 523.4,1560.1C527.6,1558.4 531.6,1556.0 534.9,1552.9C538.2,1549.8 540.8,1545.8 543.1,1541.9C545.5,1537.9 547.2,1533.5 548.8,1529.1C550.3,1524.7 551.3,1520.2 552.3,1515.6C553.2,1511.0 553.7,1506.4 554.3,1501.8C554.8,1497.1 555.1,1492.5 555.4,1487.8C555.8,1483.2 556.0,1478.5 556.2,1473.8C556.4,1469.2 556.5,1464.5 556.6,1459.8C556.7,1455.2 556.8,1450.5 556.9,1445.8C557.0,1441.2 557.1,1436.5 557.2,1431.8C557.2,1427.2 557.2,1422.5 557.2,1417.8C557.2,1413.2 557.2,1408.5 557.2,1403.8C557.1,1399.2 557.1,1394.5 557.1,1389.8C557.0,1385.2 557.0,1380.5 557.0,1375.8C557.0,1371.5 557.0,1367.2 557.0,1362.8C557.0,1358.2 556.9,1353.5 556.9,1348.8C556.9,1344.2 556.9,1339.5 556.9,1334.8C556.9,1330.1 556.9,1325.5 556.9,1320.8C556.8,1316.1 556.8,1311.5 556.8,1306.8C556.8,1302.1 556.8,1297.5 556.8,1292.8C556.8,1288.1 556.7,1283.5 556.7,1278.8C556.7,1274.1 556.7,1269.5 556.7,1264.8C556.7,1260.1 556.7,1255.5 556.6,1250.8C556.6,1246.1 556.6,1241.5 556.6,1236.8C556.6,1232.1 556.6,1227.5 556.6,1222.8C556.5,1218.1 556.5,1213.5 556.5,1208.8C556.5,1204.1 556.5,1199.4 556.5,1194.8C556.5,1190.1 556.5,1185.4 556.5,1180.8C556.4,1176.1 556.4,1171.4 556.4,1166.8C556.4,1162.1 556.4,1157.4 556.4,1152.8C556.4,1148.1 556.4,1143.4 556.4,1138.8C556.4,1134.1 556.4,1129.4 556.4,1124.8C556.3,1120.1 556.3,1115.4 556.3,1110.8C556.3,1106.1 556.3,1101.4 556.3,1096.8C556.3,1092.1 556.3,1087.4 556.3,1082.8C556.3,1078.1 556.3,1073.4 556.2,1068.8C556.2,1064.1 556.2,1059.4 556.2,1054.7C556.2,1050.1 556.2,1045.4 556.2,1040.7C556.1,1036.1 556.1,1031.4 556.1,1026.7C556.1,1022.1 556.1,1017.4 556.1,1012.7C556.0,1008.1 556.0,1003.4 556.0,998.7C556.0,994.1 555.9,989.4 555.9,984.7C555.8,980.1 555.8,975.4 555.7,970.7C555.7,966.1 555.6,961.4 555.6,956.7C555.5,952.1 555.5,947.4 555.4,942.7C555.4,938.4 555.3,934.1 555.3,929.7C555.2,925.1 555.2,920.4 555.1,915.7C555.1,911.0 555.0,906.4 555.0,901.7C555.0,897.0 555.0,892.4 554.9,887.7C554.9,883.0 554.9,878.4 554.9,873.7C554.9,869.0 554.9,864.4 554.9,859.7C554.9,855.0 554.9,850.4 554.9,845.7C554.9,841.0 554.9,836.4 554.9,831.7C554.9,827.0 554.9,822.4 554.9,817.7C554.9,813.0 555.0,808.4 555.0,803.7C555.0,799.0 555.0,794.4 555.1,789.7C555.1,785.0 555.1,780.4 555.2,775.7C555.2,771.0 555.2,766.3 555.3,761.7C555.3,757.0 555.4,752.3 555.4,747.7C555.5,743.0 555.5,738.3 555.6,733.7C555.6,729.0 555.7,724.3 555.7,719.7C555.8,715.0 555.9,710.3 555.9,705.7C556.0,701.0 556.0,696.3 556.0,691.7C556.0,687.0 555.9,682.3 555.9,677.7C555.8,673.0 555.7,668.3 555.8,663.7C555.9,659.0 556.1,654.3 556.4,649.7C556.8,645.0 557.3,640.4 558.2,635.8C559.0,631.2 560.2,626.7 561.5,622.3C562.9,617.8 564.5,613.4 566.3,609.1C568.1,604.8 570.1,600.6 572.3,596.5C574.6,592.4 577.0,588.4 579.8,584.7C582.6,581.0 585.6,577.4 588.9,574.1C592.1,570.8 595.6,567.7 599.3,564.8C603.0,561.9 606.8,559.3 610.9,557.0C614.9,554.7 619.2,552.7 623.5,551.1C627.8,549.4 632.3,548.1 636.8,546.9C641.3,545.7 645.9,544.8 650.5,544.1C654.8,543.4 659.1,543.0 663.4,542.6C668.1,542.2 672.7,542.0 677.4,541.9C682.1,541.8 686.7,541.9 691.4,542.2C696.0,542.6 700.7,543.1 705.3,543.9C709.9,544.6 714.4,545.7 718.9,546.9C723.5,548.0 727.9,549.5 732.4,550.8C736.8,552.2 741.3,553.6 745.7,555.0C750.2,556.4 754.6,557.8 759.1,559.2C763.5,560.6 768.0,562.0 772.5,563.2C777.0,564.4 781.5,565.6 786.1,566.6C790.6,567.6 795.2,568.5 799.8,569.4C804.4,570.3 809.0,571.1 813.6,571.9C818.2,572.7 822.8,573.5 827.4,574.3C832.0,575.1 836.6,575.8 841.2,576.7C845.8,577.5 850.3,578.5 854.9,579.4C859.5,580.3 864.0,581.3 868.6,582.3"/>
<path d="M509.9,1563.3C514.5,1563.9 519.2,1564.2 523.8,1565.1C528.4,1565.9 533.0,1566.7 537.4,1568.3C541.7,1569.8 546.2,1571.4 549.8,1574.1C553.4,1576.9 556.2,1580.6 558.6,1584.5C560.9,1588.1 562.3,1592.3 563.7,1596.3C565.2,1600.8 566.3,1605.3 567.3,1609.9C568.3,1614.4 568.9,1619.1 569.8,1623.7C570.6,1628.3 571.2,1632.9 572.2,1637.5C573.1,1642.0 574.2,1646.6 575.4,1651.1C576.7,1655.6 578.0,1660.1 579.6,1664.5C581.1,1668.9 582.6,1673.3 584.6,1677.5C586.7,1681.6 588.8,1685.8 592.0,1689.1C595.1,1692.4 599.2,1694.6 603.2,1697.0C606.9,1699.2 610.9,1700.8 614.9,1702.6C619.1,1704.5 623.3,1706.6 627.7,1708.1C632.1,1709.6 636.7,1710.8 641.2,1711.7C645.8,1712.5 650.5,1712.9 655.1,1713.3C659.8,1713.6 664.5,1713.7 669.1,1713.7C673.8,1713.7 678.5,1713.6 683.1,1713.4C687.8,1713.1 692.5,1712.8 697.1,1712.3C701.7,1711.8 706.4,1711.0 711.0,1710.4C715.6,1709.7 720.2,1708.8 724.8,1708.2C729.1,1707.6 733.4,1707.1 737.7,1706.7C742.4,1706.2 747.1,1705.8 751.7,1705.6C756.4,1705.4 761.1,1705.1 765.7,1705.5C770.3,1705.8 775.0,1706.4 779.5,1707.5C784.0,1708.5 788.5,1710.1 792.8,1711.7C797.2,1713.4 801.4,1715.4 805.6,1717.4C809.8,1719.4 814.0,1721.6 818.1,1723.8C822.2,1726.0 826.3,1728.2 830.4,1730.6C834.4,1732.9 838.4,1735.4 842.3,1737.8C846.0,1740.1 849.7,1742.5 853.4,1744.8C857.3,1747.2 861.3,1749.7 865.4,1751.9C869.5,1754.2 873.6,1756.4 877.8,1758.5C882.0,1760.5 886.3,1762.4 890.5,1764.4C894.8,1766.3 899.0,1768.2 903.3,1770.1"/>
<path d="M509.9,1563.3C514.4,1564.4 519.1,1565.1 523.5,1566.5C527.9,1568.0 532.3,1569.5 536.4,1571.9C540.3,1574.2 544.1,1576.9 547.2,1580.3C550.0,1583.4 552.0,1587.3 553.7,1591.2C555.5,1595.5 556.7,1600.1 557.7,1604.6C558.8,1609.1 559.6,1613.8 560.2,1618.4C560.9,1623.0 561.3,1627.7 561.7,1632.3C562.1,1637.0 562.3,1641.6 562.5,1646.3C562.7,1651.0 562.9,1655.6 562.9,1660.3C562.9,1664.7 562.8,1669.0 562.6,1673.3C562.5,1678.0 562.0,1682.7 562.0,1687.3C561.9,1692.0 562.0,1696.7 562.3,1701.3C562.6,1706.0 563.2,1710.6 564.0,1715.2C564.7,1719.8 565.6,1724.4 566.6,1729.0C567.6,1733.6 568.8,1738.1 570.0,1742.6C571.2,1746.8 572.3,1751.0 573.8,1755.0C575.4,1759.4 577.0,1763.8 579.4,1767.8C581.7,1771.8 584.4,1775.7 587.7,1778.9C591.0,1782.1 594.8,1784.8 598.8,1787.1C602.9,1789.3 607.3,1790.8 611.8,1792.3C616.2,1793.7 620.8,1794.8 625.3,1795.8C629.5,1796.8 633.8,1797.6 638.1,1798.4C642.7,1799.3 647.3,1800.0 651.9,1800.7C656.5,1801.5 661.1,1802.1 665.8,1802.8C670.4,1803.5 675.0,1804.1 679.6,1804.7C684.3,1805.3 688.9,1805.9 693.6,1806.3C698.2,1806.8 702.9,1807.3 707.5,1807.7C711.9,1808.1 716.2,1808.4 720.5,1808.8C725.2,1809.2 729.8,1809.6 734.5,1810.0C739.1,1810.4 743.8,1810.9 748.4,1811.3C753.1,1811.8 757.7,1812.2 762.4,1812.7C767.0,1813.1 771.7,1813.6 776.4,1814.0C781.0,1814.4 785.7,1814.8 790.3,1815.2C794.6,1815.6 799.0,1815.9 803.3,1816.3C808.0,1816.6 812.6,1816.9 817.3,1817.2C822.0,1817.4 826.6,1817.7 831.3,1817.9C836.0,1818.1 840.6,1818.4 845.3,1818.6"/>
<path d="M509.9,1563.3C514.3,1564.8 518.9,1565.7 523.1,1567.7C527.2,1569.7 531.2,1572.2 534.7,1575.2C538.2,1578.2 541.3,1581.7 543.7,1585.7C546.1,1589.6 547.6,1594.0 549.0,1598.4C550.4,1602.9 551.2,1607.5 551.9,1612.1C552.7,1616.7 553.0,1621.4 553.4,1626.0C553.8,1630.7 554.0,1635.4 554.2,1640.0C554.4,1644.7 554.5,1649.4 554.6,1654.0C554.7,1658.7 554.7,1663.4 554.7,1668.1C554.8,1672.7 554.8,1677.4 554.8,1682.1C554.8,1686.7 554.9,1691.4 554.9,1696.1C555.0,1701.1 555.1,1706.1 555.2,1711.1C555.2,1715.8 555.2,1720.5 555.3,1725.1C555.3,1729.8 555.3,1734.5 555.3,1739.1C555.3,1743.8 555.4,1748.5 555.4,1753.2C555.5,1757.8 555.6,1762.5 555.8,1767.2C555.9,1771.8 556.1,1776.5 556.4,1781.2C556.8,1785.8 557.1,1790.5 557.8,1795.1C558.6,1799.7 559.6,1804.3 561.0,1808.7C562.4,1813.1 564.1,1817.5 566.3,1821.6C568.5,1825.6 571.5,1829.2 574.2,1833.1C576.8,1836.9 579.6,1840.7 582.0,1844.6C584.5,1848.6 586.5,1852.8 588.9,1856.9C591.2,1860.9 593.5,1865.0 596.3,1868.7C599.0,1872.4 602.2,1875.9 605.4,1879.3C608.6,1882.6 612.1,1885.8 615.6,1888.9C619.1,1891.9 622.8,1894.9 626.5,1897.6C630.3,1900.4 634.2,1902.9 638.2,1905.4C642.2,1907.8 646.3,1910.1 650.4,1912.2C654.6,1914.3 658.8,1916.3 663.1,1918.1C667.5,1919.8 671.9,1921.4 676.3,1922.7C680.8,1923.9 685.4,1925.0 690.0,1925.6C694.6,1926.2 699.3,1926.3 703.9,1926.2C708.6,1926.1 713.3,1925.6 717.9,1925.1C722.9,1924.5 727.8,1923.7 732.8,1923.0C737.4,1922.3 742.0,1921.7 746.6,1921.0C751.3,1920.3 755.9,1919.6 760.5,1918.7C765.1,1917.8 769.6,1916.9 774.2,1915.8C778.7,1914.7 783.2,1913.5 787.7,1912.2C792.2,1910.8 796.6,1909.2 800.9,1907.6C805.3,1906.0 809.6,1904.1 813.9,1902.3C818.3,1900.5 822.5,1898.6 826.8,1896.8C831.1,1895.0 835.4,1893.1 839.7,1891.3C844.0,1889.5 848.3,1887.6 852.6,1885.8C856.9,1883.9 861.2,1882.1 865.4,1880.2C869.7,1878.3 874.0,1876.5 878.3,1874.6"/>
<path d="M498.9,1683.5C503.5,1682.7 508.2,1682.6 512.6,1681.2C517.3,1679.7 521.8,1677.5 525.9,1674.9C529.9,1672.4 533.3,1669.3 536.6,1666.0C539.9,1662.7 543.0,1659.2 545.7,1655.4C548.3,1651.5 550.5,1647.4 552.4,1643.2C554.4,1638.6 555.8,1633.8 557.2,1629.0C558.5,1624.5 559.5,1619.9 560.7,1615.4C561.9,1610.9 563.1,1606.4 564.5,1601.9C565.9,1597.5 567.3,1593.0 568.9,1588.6C570.7,1584.0 572.5,1579.3 574.6,1574.8C576.6,1570.6 579.0,1566.5 581.5,1562.6C584.0,1558.7 586.8,1554.9 589.7,1551.3C592.7,1547.7 595.8,1544.2 599.3,1541.1C603.0,1537.8 607.1,1534.9 611.2,1532.1C615.0,1529.4 619.1,1527.2 623.1,1524.7"/>
<path d="M498.9,1683.5C503.5,1684.0 508.2,1684.1 512.8,1685.1C517.3,1686.1 521.8,1687.3 526.0,1689.2C530.2,1691.2 534.2,1693.6 537.8,1696.6C541.3,1699.6 544.3,1703.1 547.0,1706.9C549.4,1710.5 551.3,1714.4 552.8,1718.4C554.5,1722.8 555.6,1727.3 556.6,1731.9C557.5,1736.4 558.1,1741.1 558.6,1745.7C559.1,1750.4 559.4,1755.0 559.7,1759.7C559.9,1764.4 560.1,1769.0 560.1,1773.7C560.1,1778.4 559.9,1783.0 559.7,1787.7C559.5,1792.4 559.0,1797.0 558.6,1801.7C558.3,1806.3 557.9,1811.0 557.5,1815.7C557.2,1820.3 556.7,1825.0 556.5,1829.6C556.4,1834.0 556.6,1838.3 556.9,1842.6C557.2,1847.3 557.8,1851.9 558.5,1856.5C559.2,1861.2 559.9,1865.8 560.9,1870.3C562.0,1874.9 563.1,1879.4 564.6,1883.8C566.1,1888.2 567.9,1892.6 570.1,1896.7C572.2,1900.8 574.7,1904.8 577.5,1908.5C580.2,1912.3 583.3,1915.8 586.5,1919.2C589.8,1922.6 593.2,1925.7 596.7,1928.8C600.3,1931.8 603.9,1934.7 607.7,1937.5C611.2,1940.0 614.8,1942.5 618.6,1944.7C622.6,1947.0 626.7,1949.3 630.9,1951.2C635.2,1953.1 639.5,1954.8 644.0,1956.2C648.5,1957.6 653.0,1958.6 657.6,1959.5C662.2,1960.4 666.8,1961.0 671.5,1961.3C676.1,1961.7 680.8,1961.8 685.4,1961.6C690.1,1961.4 694.7,1960.8 699.3,1960.0C704.0,1959.3 708.5,1958.3 713.1,1957.2C717.6,1956.2 722.1,1955.0 726.6,1953.7C730.8,1952.5 735.0,1951.2 739.1,1949.9C743.5,1948.4 747.9,1946.9 752.3,1945.3C756.7,1943.8 761.1,1942.1 765.5,1940.6C770.0,1939.1 774.4,1937.5 778.8,1936.0C783.2,1934.5 787.7,1933.1 792.1,1931.6C796.5,1930.1 801.0,1928.7 805.4,1927.1C809.8,1925.6 814.2,1924.1 818.6,1922.5C823.0,1920.9 827.4,1919.3 831.8,1917.6C836.1,1915.9 840.4,1914.0 844.7,1912.1C848.6,1910.3 852.5,1908.4 856.4,1906.5C860.6,1904.4 864.7,1902.2 868.8,1899.9C872.9,1897.7 877.0,1895.4 881.0,1893.0C885.0,1890.6 888.9,1888.1 892.8,1885.5C896.8,1883.0 900.7,1880.4 904.6,1877.9"/>
<path d="M530.5,1818.5C535.2,1818.3 539.9,1818.3 544.5,1817.9C549.1,1817.4 553.9,1817.5 558.3,1816.0C562.5,1814.6 566.6,1812.4 569.8,1809.3C573.2,1806.2 575.7,1802.2 577.7,1798.1C579.8,1793.9 581.1,1789.4 582.1,1784.9C583.0,1780.4 583.1,1775.7 583.2,1771.0C583.3,1766.0 582.9,1761.0 582.7,1756.0C582.5,1751.3 582.1,1746.7 581.8,1742.0C581.4,1737.3 581.0,1732.7 580.6,1728.0C580.1,1723.4 579.6,1718.7 579.1,1714.1C578.5,1709.4 578.0,1704.8 577.3,1700.2C576.7,1695.5 576.0,1690.9 575.1,1686.3C574.3,1681.7 573.2,1677.2 572.2,1672.6C571.2,1668.0 570.0,1663.5 569.0,1658.9C568.1,1654.4 567.2,1649.8 566.7,1645.1C566.2,1640.5 565.9,1635.8 565.8,1631.2C565.8,1626.5 566.0,1621.8 566.4,1617.2C566.8,1612.5 567.4,1607.9 568.3,1603.3C569.3,1598.4 570.5,1593.5 572.1,1588.8C573.5,1584.3 575.3,1580.0 577.3,1575.8C579.2,1571.5 581.4,1567.4 583.7,1563.4C586.1,1559.3 588.6,1555.4 591.4,1551.6C594.2,1547.9 597.3,1544.4 600.6,1541.1C603.9,1537.9 607.5,1534.8 611.2,1532.1C615.0,1529.3 619.1,1527.2 623.1,1524.7"/>
<path d="M530.5,1818.5C535.0,1819.3 539.8,1819.3 544.1,1821.0C548.3,1822.6 552.3,1824.9 555.4,1828.2C558.4,1831.5 560.4,1835.8 561.8,1840.1C563.2,1844.5 563.3,1849.2 563.5,1853.8C563.8,1858.5 563.4,1863.1 563.3,1867.8C563.2,1872.5 562.9,1877.1 562.9,1881.8C562.9,1886.5 563.2,1891.1 563.5,1895.8C563.8,1900.4 564.0,1905.1 564.7,1909.7C565.3,1914.3 565.9,1919.0 567.1,1923.5C568.3,1927.9 569.9,1932.3 572.0,1936.5C574.0,1940.6 576.6,1944.6 579.4,1948.2C582.3,1951.9 585.5,1955.3 589.0,1958.4C592.4,1961.5 596.1,1964.3 600.0,1967.0C603.8,1969.6 607.8,1972.0 611.9,1974.3C616.0,1976.5 620.2,1978.6 624.4,1980.5C628.7,1982.5 633.0,1984.3 637.3,1985.9C641.7,1987.6 646.1,1989.2 650.5,1990.6C655.0,1992.0 659.5,1993.3 664.0,1994.3C668.5,1995.4 673.1,1996.3 677.7,1996.9C682.7,1997.5 687.7,1997.9 692.7,1998.0C697.3,1998.0 702.0,1997.7 706.6,1997.2C711.3,1996.8 715.9,1996.0 720.5,1995.1C725.0,1994.3 729.6,1993.3 734.1,1992.2C738.7,1991.2 743.2,1990.0 747.7,1988.8C752.2,1987.5 756.7,1986.1 761.1,1984.6C765.5,1983.1 769.9,1981.5 774.3,1979.9C778.6,1978.3 783.0,1976.6 787.3,1974.8C791.6,1973.1 796.0,1971.3 800.3,1969.5C804.6,1967.7 808.8,1965.8 813.1,1963.8C817.3,1961.9 821.5,1959.8 825.6,1957.7C829.8,1955.6 833.9,1953.3 838.0,1951.0C842.0,1948.8 846.1,1946.4 850.0,1944.0C854.0,1941.5 858.0,1939.1 861.9,1936.5C865.8,1933.9 869.6,1931.3 873.4,1928.5C877.2,1925.8 880.9,1922.9 884.5,1919.9C888.0,1916.9 891.5,1913.8 894.8,1910.5C898.1,1907.3 901.3,1903.8 904.4,1900.4C907.6,1896.9 910.6,1893.4 913.7,1889.9C916.8,1886.4 920.0,1883.0 923.1,1879.5"/>
<path d="M526.0,1981.5C530.2,1980.1 535.0,1979.7 538.7,1977.2C542.3,1974.7 545.0,1970.8 547.1,1966.9C549.3,1962.8 550.4,1958.2 551.4,1953.7C552.4,1949.2 552.7,1944.5 553.1,1939.9C553.4,1935.2 553.4,1930.5 553.4,1925.9C553.4,1921.2 553.3,1916.5 553.3,1911.9C553.2,1907.2 553.2,1902.5 553.1,1897.8C553.1,1893.2 553.0,1888.5 552.9,1883.8C552.8,1879.2 552.6,1874.5 552.5,1869.8C552.3,1865.2 552.2,1860.5 552.0,1855.8C551.8,1851.2 551.7,1846.5 551.5,1841.8C551.4,1837.1 551.2,1832.5 551.1,1827.8C550.9,1823.1 550.7,1818.5 550.5,1813.8C550.4,1809.1 550.2,1804.5 550.1,1799.8C550.0,1795.1 550.0,1790.5 550.1,1785.8C550.1,1781.1 550.2,1776.5 550.3,1771.8C550.5,1767.1 550.7,1762.5 550.9,1757.8C551.1,1753.5 551.4,1749.1 551.7,1744.8C552.0,1740.1 552.5,1735.5 553.0,1730.8C553.5,1726.2 554.1,1721.6 554.7,1717.0C555.3,1712.3 556.0,1707.7 556.6,1703.1C557.1,1698.4 557.6,1693.8 558.1,1689.1C558.6,1684.5 559.0,1679.8 559.4,1675.2C559.8,1670.5 560.2,1665.9 560.7,1661.2C561.2,1656.6 561.7,1651.9 562.4,1647.3C563.0,1642.7 563.8,1638.1 564.7,1633.5C565.6,1628.9 566.7,1624.4 567.8,1619.9C569.0,1615.3 570.3,1610.8 571.7,1606.4C573.1,1601.9 574.5,1597.5 576.2,1593.1C577.8,1588.8 579.6,1584.4 581.5,1580.2C583.5,1576.0 585.6,1571.8 587.9,1567.7C590.2,1563.7 592.8,1559.8 595.4,1555.9C598.0,1552.1 600.8,1548.3 603.7,1544.7C606.6,1541.0 609.4,1537.3 612.7,1533.9C615.9,1530.6 619.6,1527.8 623.1,1524.7"/>
<path d="M526.0,1981.5C530.6,1981.8 535.3,1981.4 539.7,1982.5C544.2,1983.5 548.3,1985.8 552.4,1987.8C556.7,1989.8 560.5,1992.4 564.8,1994.3C569.3,1996.4 574.0,1998.1 578.8,1999.6C583.2,2000.9 587.9,2001.8 592.4,2002.7C597.0,2003.6 601.6,2004.3 606.2,2005.1C610.8,2005.9 615.4,2006.7 620.0,2007.6C624.6,2008.5 629.1,2009.6 633.7,2010.7C638.2,2011.8 642.7,2013.0 647.2,2014.1C652.1,2015.3 657.0,2016.5 661.9,2017.5C666.4,2018.5 671.0,2019.3 675.6,2020.1C680.2,2020.9 684.8,2021.6 689.4,2022.3C694.1,2022.9 698.7,2023.5 703.4,2023.9C708.0,2024.2 712.7,2024.4 717.3,2024.3C722.0,2024.3 726.7,2023.9 731.3,2023.4C735.9,2022.9 740.5,2022.2 745.1,2021.3C750.0,2020.3 754.9,2019.1 759.7,2017.8C764.2,2016.6 768.7,2015.2 773.1,2013.6C777.5,2012.1 781.8,2010.4 786.2,2008.6C790.5,2006.8 794.7,2004.9 798.9,2002.9C803.1,2000.8 807.2,1998.7 811.3,1996.4C815.4,1994.2 819.4,1991.8 823.4,1989.3C827.4,1986.9 831.3,1984.4 835.2,1981.7C839.3,1978.9 843.4,1976.0 847.4,1973.1C851.2,1970.3 854.9,1967.4 858.5,1964.5C862.1,1961.5 865.7,1958.5 869.1,1955.4C872.6,1952.3 876.0,1949.0 879.3,1945.7C882.5,1942.4 885.7,1939.0 888.8,1935.5C892.0,1932.1 895.0,1928.5 898.1,1925.0C901.4,1921.2 904.6,1917.4 907.9,1913.6C910.9,1910.1 914.0,1906.5 916.9,1903.0C919.9,1899.4 922.9,1895.7 925.8,1892.1C928.7,1888.5 931.7,1884.8 934.6,1881.2"/>
<path d="M767.6,1524.1C771.6,1522.1 776.1,1520.8 779.6,1518.0C783.2,1515.1 785.9,1511.2 788.4,1507.4C791.0,1503.5 792.9,1499.2 794.7,1495.0C796.5,1490.7 797.8,1486.2 799.1,1481.7C800.4,1477.2 801.5,1472.7 802.6,1468.1C803.7,1463.6 804.7,1459.0 805.6,1454.5C806.6,1449.9 807.5,1445.3 808.4,1440.7C809.2,1436.1 809.9,1431.5 810.7,1426.9C811.4,1422.3 812.0,1417.7 812.6,1413.1C813.2,1408.4 813.9,1403.8 814.3,1399.2C814.8,1394.5 815.3,1389.9 815.4,1385.2C815.6,1380.6 815.4,1375.9 815.2,1371.2C814.9,1366.6 814.2,1362.0 814.1,1357.3C813.9,1352.6 814.0,1348.0 814.1,1343.3C814.3,1338.7 814.6,1334.0 814.9,1329.3C815.2,1324.7 815.5,1320.0 815.9,1315.4C816.2,1310.7 816.6,1306.0 817.0,1301.4C817.3,1296.7 817.7,1292.1 818.1,1287.4C818.4,1282.8 818.8,1278.1 819.2,1273.5C819.6,1268.5 819.9,1263.5 820.3,1258.5C820.6,1253.8 820.9,1249.2 821.2,1244.5C821.5,1239.9 821.7,1235.2 822.0,1230.5C822.2,1225.9 822.5,1221.2 822.7,1216.6C822.9,1211.9 823.1,1207.2 823.3,1202.6C823.5,1197.9 823.7,1193.2 823.8,1188.6C824.0,1183.9 824.1,1179.2 824.3,1174.6C824.4,1169.9 824.6,1165.2 824.7,1160.6C824.8,1155.9 824.9,1151.2 824.9,1146.6C825.0,1141.9 825.1,1137.2 825.1,1132.6C825.2,1127.9 825.2,1123.2 825.2,1118.5C825.2,1113.9 825.2,1109.2 825.2,1104.5C825.2,1099.9 825.2,1095.2 825.2,1090.5C825.1,1085.9 825.1,1081.2 825.1,1076.5C825.0,1071.9 825.0,1067.2 824.9,1062.5C824.9,1057.9 824.8,1053.2 824.8,1048.5C824.7,1043.9 824.6,1039.2 824.5,1034.5C824.5,1029.8 824.4,1025.2 824.3,1020.5C824.2,1015.8 824.1,1011.2 824.0,1006.5C823.9,1001.8 823.8,997.2 823.7,992.5C823.6,987.8 823.5,983.2 823.4,978.5C823.3,973.8 823.2,969.2 823.1,964.5C823.0,959.8 822.9,955.2 822.8,950.5C822.7,945.8 822.6,941.2 822.6,936.5C822.5,931.8 822.4,927.2 822.3,922.5C822.2,917.8 822.1,913.1 822.0,908.5C822.0,903.8 821.9,899.1 821.8,894.5C821.7,889.8 821.6,885.1 821.5,880.5C821.4,875.8 821.3,871.1 821.3,866.5C821.2,861.8 821.1,857.1 821.0,852.5C820.9,847.8 820.8,843.1 820.7,838.5C820.6,833.8 820.6,829.1 820.5,824.5C820.4,819.8 820.3,815.1 820.2,810.5C820.1,805.8 820.0,801.1 819.9,796.4C819.8,791.8 819.7,787.1 819.6,782.4C819.5,777.8 819.4,773.1 819.2,768.4C819.1,763.8 819.0,759.1 818.9,754.4C818.8,749.8 818.6,745.1 818.5,740.4C818.4,735.8 818.3,731.1 818.3,726.4C818.2,721.4 818.1,716.4 818.1,711.4C818.0,706.8 818.0,702.1 818.0,697.4C818.0,692.8 818.1,688.1 818.2,683.4C818.3,678.8 818.4,674.1 818.5,669.4C818.6,664.7 818.8,660.1 818.9,655.4C819.0,650.7 819.2,646.1 819.3,641.4C819.4,636.7 819.6,632.1 819.7,627.4C819.8,622.7 819.9,618.1 819.9,613.4C819.9,608.7 820.0,604.1 819.8,599.4C819.6,594.7 819.2,590.1 818.9,585.4C818.5,580.8 818.0,576.1 817.8,571.5C817.7,566.8 817.7,562.2 817.7,557.5C817.8,552.8 818.0,548.2 818.3,543.5C818.7,538.9 819.0,534.2 819.8,529.6C820.6,525.0 821.5,520.4 822.9,516.0C824.3,511.6 826.1,507.2 828.3,503.1C830.4,499.0 832.9,495.1 836.0,491.5C839.0,488.1 842.4,484.9 846.2,482.3C850.1,479.8 854.5,478.1 858.7,476.4C863.1,474.7 867.6,473.4 872.0,471.9"/>
<path d="M767.6,1524.1C772.2,1524.6 776.9,1524.9 781.5,1525.6C786.1,1526.4 790.7,1527.4 795.2,1528.7C799.6,1530.0 804.0,1531.6 808.3,1533.4C812.7,1535.2 816.9,1537.2 821.0,1539.4C825.1,1541.7 829.1,1544.1 832.9,1546.7C837.0,1549.5 841.0,1552.6 844.8,1555.9C848.4,1558.9 851.7,1562.1 855.0,1565.5C858.3,1568.8 861.4,1572.2 864.4,1575.9C867.3,1579.5 870.1,1583.2 872.7,1587.1C875.3,1591.0 877.7,1595.0 880.0,1599.1C882.3,1603.2 884.4,1607.3 886.5,1611.5C888.5,1615.7 890.5,1619.9 892.5,1624.2C894.4,1628.4 896.3,1632.7 898.3,1636.9C900.2,1641.2 902.1,1645.5 904.0,1649.7C905.9,1654.0 907.7,1658.3 909.5,1662.6C911.3,1666.9 913.1,1671.3 914.8,1675.6C916.4,1680.0 918.1,1684.4 919.6,1688.8C921.1,1693.6 922.5,1698.4 923.8,1703.2C925.1,1707.7 925.9,1712.3 927.1,1716.8C928.3,1721.3 929.3,1725.9 930.8,1730.3C932.4,1734.7 934.2,1739.0 936.5,1743.0C938.9,1747.0 941.9,1750.6 944.8,1754.3C947.7,1757.9 950.9,1761.4 953.9,1764.9"/>
<path d="M779.9,1629.3C784.3,1627.9 788.9,1626.8 793.2,1625.0C797.4,1623.3 801.6,1621.1 805.6,1618.7C809.5,1616.2 813.2,1613.4 816.6,1610.2C820.0,1607.0 822.9,1603.4 825.7,1599.7C828.6,1596.0 831.1,1592.1 833.6,1588.1C836.1,1584.2 838.5,1580.2 840.8,1576.1C843.1,1572.0 845.3,1567.9 847.4,1563.8C849.6,1559.6 851.6,1555.4 853.5,1551.2C855.5,1547.0 857.4,1542.7 859.3,1538.4C861.1,1534.5 862.8,1530.5 864.4,1526.5C866.2,1522.2 868.0,1517.8 869.7,1513.5C871.4,1509.2 873.1,1504.8 874.7,1500.4C876.3,1496.1 877.9,1491.7 879.5,1487.3C881.0,1482.9 882.5,1478.4 884.0,1474.0C885.4,1469.6 886.9,1465.1 888.3,1460.7C889.7,1456.2 891.2,1451.8 892.6,1447.4C894.1,1442.9 895.6,1438.5 897.2,1434.1C898.7,1429.7 900.4,1425.4 902.1,1421.0C903.7,1416.6 905.5,1412.3 907.1,1407.9C908.7,1403.5 910.3,1399.2 911.8,1394.7C913.2,1390.3 914.6,1385.8 915.8,1381.3C917.1,1376.8 918.2,1372.3 919.3,1367.8C920.5,1363.2 921.5,1358.7 922.6,1354.1C923.6,1349.6 924.6,1345.0 925.6,1340.5C926.6,1335.9 927.5,1331.3 928.5,1326.8C929.5,1322.2 930.4,1317.6 931.4,1313.1C932.3,1308.8 933.2,1304.6 934.1,1300.3C935.1,1295.8 936.1,1291.2 937.0,1286.6C938.0,1282.1 938.9,1277.5 939.8,1272.9C940.7,1268.3 941.6,1263.8 942.5,1259.2C943.4,1254.6 944.3,1250.0 945.1,1245.4C946.0,1240.8 946.8,1236.2 947.6,1231.6C948.4,1227.0 949.1,1222.4 949.9,1217.8C950.6,1213.2 951.3,1208.6 952.0,1204.0C952.7,1199.4 953.4,1194.8 954.2,1190.1C954.9,1185.5 955.6,1180.9 956.3,1176.3"/>
<path d="M779.9,1629.3C784.5,1629.9 789.2,1630.1 793.8,1631.0C798.0,1631.8 802.2,1633.0 806.3,1634.4C810.7,1635.8 815.0,1637.6 819.2,1639.6C823.2,1641.4 827.0,1643.5 830.7,1645.8C834.6,1648.2 838.5,1650.9 842.2,1653.6C845.7,1656.2 849.0,1659.0 852.3,1661.8C855.8,1664.9 859.2,1668.1 862.5,1671.4C865.6,1674.5 868.5,1677.7 871.4,1680.9C874.5,1684.3 877.6,1687.9 880.6,1691.4C883.7,1695.0 886.7,1698.5 889.6,1702.2C892.4,1705.5 895.0,1708.9 897.7,1712.4C900.6,1716.0 903.4,1719.7 906.3,1723.4C908.9,1726.9 911.6,1730.3 914.2,1733.7C917.1,1737.4 919.9,1741.1 922.8,1744.8C925.4,1748.3 928.1,1751.7 930.7,1755.1C933.6,1758.8 936.4,1762.5 939.3,1766.2"/>
<path d="M777.2,1310.6C781.8,1310.1 786.5,1310.4 791.0,1309.2C795.4,1308.1 799.6,1306.1 803.6,1303.7C807.5,1301.4 811.3,1298.5 814.5,1295.2C817.8,1292.0 820.6,1288.2 822.9,1284.2C825.3,1280.2 826.9,1275.9 828.5,1271.5C830.1,1266.8 831.3,1261.9 832.5,1257.0C833.6,1252.5 834.5,1247.9 835.2,1243.3C836.0,1238.7 836.7,1234.1 837.2,1229.5C837.7,1224.8 838.0,1220.2 838.3,1215.5C838.5,1210.8 838.5,1206.2 838.5,1201.5C838.5,1196.8 838.3,1192.2 838.1,1187.5C837.9,1182.9 837.6,1178.2 837.2,1173.5C836.9,1168.9 836.5,1164.2 836.2,1159.6C835.8,1154.9 835.4,1150.3 835.0,1145.6C834.6,1141.0 834.2,1136.3 833.7,1131.7C833.2,1127.0 832.7,1122.4 832.2,1117.8C831.7,1112.8 831.1,1107.8 830.6,1102.8C830.1,1098.2 829.7,1093.5 829.3,1088.9C828.9,1084.2 828.6,1079.6 828.3,1074.9C828.0,1070.3 827.7,1065.6 827.5,1060.9C827.2,1056.3 827.0,1051.6 826.8,1047.0C826.7,1042.3 826.5,1037.6 826.3,1033.0C826.2,1028.3 826.0,1023.6 825.9,1019.0C825.8,1014.3 825.7,1009.6 825.6,1005.0C825.5,1000.3 825.4,995.6 825.4,991.0C825.3,986.3 825.3,981.6 825.3,977.0C825.3,972.3 825.3,967.6 825.3,963.0C825.3,958.0 825.3,953.0 825.4,948.0C825.4,943.3 825.4,938.6 825.5,934.0C825.5,929.3 825.5,924.6 825.6,919.9C825.6,915.3 825.6,910.6 825.7,905.9C825.7,901.3 825.8,896.6 825.8,891.9C825.9,887.3 825.9,882.6 826.0,877.9C826.0,873.3 826.1,868.6 826.1,863.9C826.2,859.3 826.3,854.6 826.3,849.9C826.4,845.3 826.4,840.6 826.5,835.9C826.6,831.3 826.6,826.6 826.7,821.9C826.8,817.3 826.8,812.6 826.9,807.9C827.0,802.9 827.0,797.9 827.1,792.9C827.2,788.3 827.2,783.6 827.3,778.9C827.4,774.3 827.5,769.6 827.5,764.9C827.6,760.2 827.7,755.6 827.8,750.9C827.9,746.2 828.0,741.6 828.1,736.9C828.2,732.2 828.3,727.6 828.4,722.9C828.5,718.2 828.6,713.6 828.8,708.9C828.9,704.2 829.0,699.6 829.1,694.9C829.3,690.2 829.4,685.6 829.5,680.9C829.7,676.3 829.8,671.6 830.0,666.9C830.2,662.3 830.4,657.6 830.7,652.9C831.0,647.9 831.3,643.0 832.0,638.0C832.6,633.4 833.3,628.8 834.6,624.3C835.8,619.8 837.2,615.3 839.2,611.2C841.3,607.0 843.8,603.1 846.8,599.6C849.8,596.1 853.6,593.3 857.2,590.4C860.9,587.5 864.8,585.0 868.6,582.3"/>
<path d="M777.2,1310.6C781.8,1310.5 786.5,1311.1 791.1,1310.3C795.6,1309.5 800.0,1308.0 804.1,1305.9C808.3,1303.9 812.2,1301.3 815.7,1298.3C819.1,1295.3 822.2,1291.7 824.7,1287.9C827.3,1284.0 829.1,1279.7 830.7,1275.3C832.4,1271.0 833.5,1266.4 834.6,1261.9C835.9,1257.1 836.9,1252.2 837.8,1247.2C838.6,1242.6 839.3,1238.0 839.8,1233.4C840.4,1228.7 840.8,1224.1 841.1,1219.4C841.3,1214.8 841.5,1210.1 841.5,1205.4C841.5,1200.8 841.4,1196.1 841.3,1191.4C841.1,1186.8 840.9,1182.1 840.6,1177.4C840.3,1172.8 839.9,1168.1 839.6,1163.5C839.3,1158.8 838.9,1154.1 838.5,1149.5C838.2,1144.8 837.8,1140.2 837.3,1135.5C836.9,1130.9 836.4,1126.2 835.9,1121.6C835.5,1116.9 834.9,1112.3 834.5,1107.6C834.0,1103.0 833.5,1098.4 833.1,1093.7C832.7,1088.7 832.4,1083.7 832.1,1078.7C831.8,1074.1 831.6,1069.4 831.3,1064.7C831.1,1060.1 830.9,1055.4 830.8,1050.7C830.6,1046.1 830.5,1041.4 830.3,1036.7C830.2,1032.1 830.1,1027.4 830.0,1022.7C829.9,1018.0 829.9,1013.4 829.8,1008.7C829.8,1004.0 829.8,999.4 829.7,994.7C829.7,990.0 829.8,985.4 829.8,980.7C829.8,976.0 829.9,971.3 829.9,966.7C830.0,962.0 830.0,957.3 830.1,952.7C830.2,948.0 830.2,943.3 830.3,938.6C830.3,934.0 830.4,929.3 830.5,924.6C830.5,920.0 830.6,915.3 830.7,910.6C830.7,905.6 830.8,900.6 830.9,895.6C831.0,890.9 831.0,886.3 831.1,881.6C831.2,876.9 831.3,872.3 831.4,867.6C831.5,862.9 831.6,858.3 831.7,853.6C831.7,848.9 831.8,844.2 832.0,839.6C832.1,834.9 832.2,830.2 832.3,825.6C832.4,820.9 832.5,816.2 832.7,811.6C832.8,806.9 832.9,802.2 833.1,797.6C833.2,792.9 833.3,788.2 833.5,783.5C833.6,778.9 833.7,774.2 833.8,769.5C834.0,764.9 834.1,760.2 834.3,755.5C834.4,750.9 834.6,746.2 834.8,741.5C835.1,736.9 835.3,732.2 835.6,727.5C836.0,722.5 836.3,717.6 836.8,712.6C837.2,707.9 837.6,703.3 838.3,698.7C839.0,694.0 839.9,689.5 840.9,684.9C842.0,680.4 843.3,675.9 844.5,671.4C845.7,666.8 847.0,662.4 848.0,657.8C849.1,653.3 850.1,648.7 850.6,644.1C851.0,639.4 851.1,634.8 850.9,630.1C850.6,625.5 849.7,620.9 849.0,616.3C848.3,611.7 847.3,607.1 846.7,602.5C846.0,597.8 845.5,593.2 845.0,588.6C844.5,583.9 844.0,579.3 843.6,574.6C843.3,570.0 842.9,565.3 842.7,560.6C842.5,555.6 842.3,550.6 842.3,545.6C842.3,541.0 842.3,536.3 842.5,531.6C842.7,527.0 843.0,522.3 843.7,517.7C844.4,513.1 845.2,508.5 846.7,504.1C848.1,499.7 849.8,495.3 852.3,491.4C854.8,487.5 858.1,484.2 861.3,481.0C864.6,477.7 868.4,474.9 872.0,471.9"/>
<path d="M777.2,1310.6C781.8,1310.0 786.5,1309.6 791.1,1308.9C795.8,1308.3 800.4,1307.8 805.0,1306.8C809.2,1305.9 813.4,1304.7 817.5,1303.2C821.8,1301.5 826.1,1299.5 830.2,1297.3C834.3,1295.2 838.3,1292.7 842.2,1290.2C845.9,1287.8 849.4,1285.3 852.9,1282.6C856.6,1279.8 860.3,1276.9 863.8,1273.8C867.4,1270.8 870.8,1267.6 874.2,1264.3C877.5,1261.1 880.8,1257.7 884.0,1254.3C887.1,1250.8 890.2,1247.3 893.2,1243.7C895.9,1240.3 898.6,1236.9 901.3,1233.5C904.1,1229.8 907.0,1226.0 909.7,1222.3C912.5,1218.5 915.2,1214.7 917.8,1210.8C920.3,1207.2 922.7,1203.6 924.9,1199.9C927.4,1195.9 929.7,1191.8 931.9,1187.7C934.2,1183.6 936.2,1179.4 938.3,1175.2"/>
<path d="M777.2,1310.6C781.8,1311.5 786.4,1311.8 790.9,1313.2C795.3,1314.6 799.5,1316.6 803.5,1318.9C807.5,1321.2 811.3,1324.0 814.8,1327.0C818.3,1330.0 821.5,1333.5 824.5,1337.0C827.5,1340.6 830.0,1344.5 832.6,1348.4C835.2,1352.2 837.7,1356.2 840.2,1360.1C842.8,1364.0 845.5,1367.8 847.9,1371.8C850.2,1375.9 852.4,1380.0 854.3,1384.2C856.3,1388.5 857.9,1392.9 859.5,1397.2C861.3,1401.9 863.0,1406.6 864.7,1411.3C866.2,1415.7 867.8,1420.1 869.3,1424.5C870.8,1428.9 872.3,1433.4 873.9,1437.8C875.4,1442.2 877.0,1446.6 878.5,1451.0C880.0,1455.4 881.6,1459.8 883.1,1464.2C884.6,1468.6 886.1,1473.1 887.5,1477.5C888.9,1482.0 890.3,1486.4 891.6,1490.9C892.9,1495.4 894.2,1499.9 895.4,1504.4C896.6,1508.9 897.8,1513.4 899.0,1517.9C900.2,1522.4 901.3,1526.9 902.5,1531.5C903.6,1536.0 904.7,1540.5 905.8,1545.1C906.9,1549.6 907.9,1554.2 908.9,1558.7C910.0,1563.3 911.0,1567.8 912.0,1572.4C913.0,1576.9 914.0,1581.5 914.9,1586.1C915.8,1590.7 916.8,1595.2 917.7,1599.8C918.6,1604.4 919.4,1609.0 920.3,1613.6C921.2,1618.1 922.1,1622.7 923.0,1627.3C923.9,1632.2 924.9,1637.1 925.8,1642.0C926.7,1646.6 927.6,1651.2 928.6,1655.8C929.5,1660.3 930.5,1664.9 931.5,1669.5C932.4,1674.0 933.4,1678.6 934.5,1683.2C935.5,1687.7 936.5,1692.3 937.6,1696.8C938.6,1701.4 939.7,1705.9 940.7,1710.5C941.8,1715.0 942.9,1719.5 943.9,1724.1C945.0,1728.6 946.1,1733.2 947.2,1737.7C948.3,1742.2 949.4,1746.8 950.5,1751.3C951.6,1755.8 952.8,1760.4 953.9,1764.9"/>
<path d="M774.0,1116.6L866.8,1117.2"/>
<path d="M774.0,1116.6C778.6,1116.2 783.3,1116.6 787.8,1115.3C792.1,1114.1 796.3,1112.0 799.8,1109.3C803.5,1106.5 806.4,1102.7 808.9,1098.9C811.6,1095.1 813.6,1090.8 815.3,1086.5C817.0,1082.2 818.2,1077.7 819.3,1073.2C820.4,1068.6 821.2,1064.0 822.0,1059.4C822.7,1054.5 823.4,1049.5 823.9,1044.5C824.4,1039.9 824.7,1035.2 824.9,1030.5C825.2,1025.9 825.4,1021.2 825.6,1016.5C825.8,1011.9 826.0,1007.2 826.2,1002.5C826.4,997.9 826.6,993.2 826.8,988.5C826.9,983.9 827.0,979.2 827.2,974.5C827.3,969.9 827.4,965.2 827.5,960.5C827.6,955.9 827.6,951.2 827.7,946.5C827.7,941.8 827.8,937.2 827.8,932.5C827.8,927.8 827.9,923.2 827.9,918.5C827.9,913.8 827.9,909.1 828.0,904.5C828.0,899.8 828.0,895.1 828.1,890.5C828.1,885.8 828.2,881.1 828.2,876.4C828.3,871.8 828.3,867.1 828.4,862.4C828.4,857.4 828.5,852.4 828.5,847.4C828.6,842.7 828.6,838.1 828.7,833.4C828.7,828.7 828.8,824.1 828.8,819.4C828.9,814.7 828.9,810.0 828.9,805.4C829.0,800.7 829.0,796.0 829.1,791.4C829.1,786.7 829.2,782.0 829.2,777.3C829.2,772.7 829.3,768.0 829.3,763.3C829.4,758.7 829.4,754.0 829.4,749.3C829.5,744.6 829.5,740.0 829.6,735.3C829.6,730.6 829.7,726.0 829.7,721.3C829.8,716.6 829.8,711.9 829.9,707.3C830.0,702.6 830.0,697.9 830.1,693.3C830.1,688.6 830.2,683.9 830.3,679.2C830.3,674.6 830.4,669.9 830.5,665.2C830.6,660.2 830.8,655.2 831.0,650.2C831.3,645.6 831.5,640.9 831.9,636.2C832.4,631.6 832.7,626.9 833.7,622.4C834.6,617.8 835.6,613.2 837.6,609.1C839.6,605.0 842.4,601.2 845.5,597.9C848.7,594.5 852.7,592.0 856.5,589.4C860.4,586.8 864.6,584.7 868.6,582.3"/>
<path d="M774.0,1116.6C778.6,1116.3 783.3,1116.9 787.8,1115.7C792.1,1114.7 796.4,1112.7 800.0,1110.1C803.6,1107.3 806.5,1103.5 809.1,1099.8C811.8,1096.0 813.9,1091.8 815.7,1087.5C817.5,1083.2 818.8,1078.7 820.0,1074.2C821.2,1069.7 822.1,1065.1 822.9,1060.5C823.7,1055.9 824.4,1051.3 824.9,1046.7C825.5,1042.0 825.8,1037.4 826.2,1032.7C826.5,1028.1 826.7,1023.4 826.9,1018.7C827.2,1014.1 827.4,1009.4 827.6,1004.8C827.8,1000.1 828.0,995.4 828.2,990.8C828.4,986.1 828.5,981.4 828.6,976.8C828.8,972.4 828.8,968.1 828.9,963.8C829.0,959.1 829.1,954.4 829.2,949.7C829.2,945.1 829.3,940.4 829.3,935.7C829.4,931.1 829.5,926.4 829.5,921.7C829.5,917.1 829.6,912.4 829.6,907.7C829.7,903.1 829.7,898.4 829.8,893.7C829.8,889.1 829.8,884.4 829.9,879.7C829.9,875.0 830.0,870.4 830.0,865.7C830.1,861.0 830.1,856.4 830.2,851.7C830.2,847.0 830.3,842.4 830.3,837.7C830.4,833.0 830.5,828.4 830.5,823.7C830.6,819.0 830.7,814.4 830.8,809.7C830.9,805.0 831.0,800.4 831.1,795.7C831.2,791.0 831.3,786.3 831.4,781.7C831.5,777.0 831.6,772.3 831.7,767.7C831.8,763.0 832.0,758.3 832.1,753.7C832.2,749.0 832.4,744.3 832.6,739.7C832.8,735.0 833.0,730.3 833.2,725.7C833.5,721.0 833.8,716.4 834.1,711.7C834.5,707.0 834.8,702.4 835.4,697.8C835.9,693.1 836.6,688.5 837.4,683.9C838.2,679.3 839.3,674.8 840.2,670.2C841.1,665.6 842.1,661.0 842.8,656.4C843.6,651.8 844.2,647.2 844.6,642.6C845.0,638.2 845.2,633.9 845.3,629.6C845.4,624.9 845.3,620.2 845.2,615.6C845.1,610.9 844.9,606.2 844.7,601.6C844.5,596.9 844.2,592.3 843.9,587.6C843.7,582.9 843.5,578.3 843.3,573.6C843.1,568.9 842.9,564.3 842.8,559.6C842.6,554.9 842.4,550.3 842.4,545.6C842.3,540.9 842.3,536.3 842.5,531.6C842.7,527.0 843.0,522.3 843.7,517.7C844.4,513.1 845.2,508.5 846.7,504.0C848.1,499.7 849.8,495.3 852.3,491.4C854.8,487.5 858.1,484.2 861.3,480.9C864.6,477.7 868.4,474.9 872.0,471.9"/>
<path d="M774.0,1116.6C778.5,1117.7 783.1,1118.6 787.6,1120.0C792.0,1121.4 796.5,1122.6 800.7,1124.7C804.8,1126.8 808.7,1129.4 812.3,1132.4C815.9,1135.3 819.1,1138.7 822.1,1142.2C825.2,1145.8 827.8,1149.6 830.4,1153.5C833.0,1157.4 835.3,1161.5 837.6,1165.5C839.9,1169.6 842.1,1173.7 844.3,1177.8C846.6,1181.9 848.9,1186.0 851.1,1190.1C853.4,1194.2 855.8,1198.2 857.9,1202.3C860.1,1206.5 862.2,1210.6 864.1,1214.9C866.1,1219.1 867.8,1223.5 869.5,1227.8C871.2,1232.2 872.8,1236.6 874.3,1241.0C875.6,1245.1 876.9,1249.3 878.1,1253.4C879.4,1257.9 880.6,1262.5 881.8,1267.0C882.9,1271.5 884.0,1276.1 885.0,1280.6C886.1,1285.2 887.1,1289.7 888.1,1294.3C889.0,1298.9 890.0,1303.5 890.9,1308.0C891.8,1312.6 892.6,1317.2 893.5,1321.8C894.3,1326.4 895.2,1331.0 895.9,1335.6C896.7,1340.2 897.4,1344.8 898.1,1349.5C898.8,1354.1 899.5,1358.7 900.1,1363.3C900.8,1368.0 901.4,1372.6 902.0,1377.2C902.6,1381.9 903.2,1386.5 903.8,1391.1C904.4,1395.8 905.1,1400.4 905.7,1405.0C906.2,1409.7 906.8,1414.3 907.4,1418.9C908.0,1423.6 908.5,1428.2 909.1,1432.8C909.7,1437.5 910.2,1442.1 910.8,1446.8C911.4,1451.4 912.1,1456.0 912.7,1460.7C913.3,1465.3 913.9,1469.9 914.6,1474.5C915.2,1479.2 915.9,1483.8 916.5,1488.4C917.2,1493.1 917.8,1497.7 918.4,1502.3C919.1,1506.9 919.8,1511.6 920.4,1516.2C921.1,1520.8 921.7,1525.5 922.4,1530.1C923.0,1534.7 923.7,1539.3 924.4,1544.0C925.0,1548.6 925.7,1553.2 926.4,1557.8C927.0,1562.5 927.7,1567.1 928.4,1571.7C929.1,1576.3 929.7,1580.9 930.4,1585.6C931.1,1589.9 931.7,1594.2 932.3,1598.4C933.0,1603.1 933.7,1607.7 934.4,1612.3C935.1,1616.9 935.8,1621.5 936.5,1626.2C937.2,1630.8 937.9,1635.4 938.6,1640.0C939.3,1644.7 940.0,1649.3 940.7,1653.9C941.4,1658.5 942.1,1663.1 942.8,1667.8C943.5,1672.4 944.2,1677.0 944.9,1681.6C945.5,1686.2 946.2,1690.9 946.9,1695.5C947.5,1700.1 948.2,1704.7 948.9,1709.4C949.5,1714.0 950.2,1718.6 950.8,1723.3C951.5,1727.9 952.1,1732.5 952.8,1737.1C953.4,1741.8 954.1,1746.4 954.7,1751.0C955.4,1755.6 956.0,1760.3 956.7,1764.9"/>
<path d="M777.2,868.2C778.2,872.8 779.1,877.3 780.1,881.9C781.1,886.5 782.2,891.0 783.3,895.5C784.4,900.1 785.7,904.6 786.9,909.1C788.1,913.6 789.3,918.1 790.5,922.6C791.8,927.1 793.0,931.6 794.1,936.1C795.4,941.0 796.6,945.8 797.9,950.6C799.0,955.2 800.2,959.7 801.3,964.2C802.4,968.8 803.6,973.3 804.7,977.8C805.8,982.3 806.9,986.9 808.1,991.4C809.2,995.9 810.3,1000.5 811.5,1005.0C812.7,1009.5 814.0,1014.0 815.2,1018.5C816.4,1023.0 817.7,1027.5 818.9,1032.0C820.0,1036.5 821.2,1041.0 822.1,1045.6C823.1,1050.2 824.0,1054.8 824.7,1059.4C825.3,1064.0 825.7,1068.6 826.1,1073.3C826.4,1077.9 826.5,1082.6 826.6,1087.3C826.7,1092.3 826.7,1097.3 826.8,1102.3C826.9,1106.9 827.0,1111.6 827.4,1116.3C827.7,1120.9 828.2,1125.6 828.8,1130.2C829.4,1134.8 830.3,1139.4 831.1,1144.0C832.0,1148.6 833.0,1153.1 834.0,1157.7C835.0,1162.2 836.1,1166.8 837.2,1171.3C838.3,1175.9 839.4,1180.4 840.5,1184.9C841.6,1189.5 842.7,1194.0 843.8,1198.5C844.9,1203.1 846.0,1207.6 847.1,1212.1C848.3,1216.7 849.4,1221.2 850.5,1225.7C851.7,1230.3 852.8,1234.8 854.0,1239.3C855.2,1244.1 856.5,1249.0 857.7,1253.8C858.8,1258.4 860.0,1262.9 861.1,1267.4C862.2,1272.0 863.3,1276.5 864.4,1281.0C865.5,1285.6 866.6,1290.1 867.7,1294.6C868.7,1299.2 869.8,1303.7 870.8,1308.3C871.9,1312.8 872.9,1317.4 874.0,1321.9C875.0,1326.5 876.0,1331.0 877.0,1335.6C878.0,1340.2 879.1,1344.7 880.1,1349.3C881.1,1353.8 882.1,1358.4 883.0,1363.0C884.0,1367.5 885.0,1372.1 886.0,1376.7C887.0,1381.5 888.1,1386.4 889.1,1391.3C890.0,1395.9 891.0,1400.5 891.9,1405.0C892.9,1409.6 893.8,1414.2 894.7,1418.8C895.6,1423.3 896.5,1427.9 897.4,1432.5C898.3,1437.1 899.2,1441.7 900.0,1446.3C900.9,1450.8 901.7,1455.4 902.6,1460.0C903.4,1464.6 904.2,1469.2 905.0,1473.8C905.8,1478.4 906.6,1483.0 907.4,1487.6C908.2,1492.2 908.9,1496.8 909.7,1501.4C910.5,1506.0 911.2,1510.6 912.0,1515.3C912.7,1519.9 913.5,1524.5 914.2,1529.1C915.0,1534.0 915.8,1538.9 916.6,1543.9C917.4,1548.5 918.2,1553.1 918.9,1557.7C919.7,1562.3 920.4,1566.9 921.2,1571.5C922.0,1576.1 922.7,1580.7 923.5,1585.3C924.3,1589.9 925.0,1594.5 925.8,1599.1C926.5,1603.8 927.3,1608.4 928.1,1613.0C928.8,1617.6 929.6,1622.2 930.4,1626.8C931.1,1631.4 931.9,1636.0 932.6,1640.6C933.4,1645.2 934.2,1649.8 934.9,1654.4C935.7,1659.0 936.5,1663.6 937.3,1668.2C938.0,1672.8 938.8,1677.4 939.6,1682.0C940.4,1687.0 941.3,1691.9 942.1,1696.8C942.9,1701.4 943.6,1706.0 944.4,1710.6C945.2,1715.2 945.9,1719.8 946.7,1724.4C947.5,1729.0 948.3,1733.6 949.2,1738.2C950.1,1742.8 950.7,1747.4 952.0,1751.9C953.2,1756.4 955.1,1760.6 956.7,1764.9"/>
<path d="M777.2,868.2C781.3,870.4 785.6,872.3 789.5,874.8C793.4,877.3 797.2,880.0 800.5,883.2C803.9,886.4 806.8,890.1 809.6,893.8C812.4,897.5 815.0,901.4 817.4,905.4C819.7,909.1 821.7,912.9 823.6,916.8C825.7,921.0 827.5,925.3 829.3,929.6C831.1,933.9 832.8,938.3 834.4,942.7C836.0,947.1 837.5,951.5 839.0,955.9C840.5,960.3 841.9,964.8 843.2,969.3C844.5,973.7 845.7,978.2 846.9,982.8C848.1,987.3 849.2,991.8 850.1,996.4C851.1,1001.0 851.9,1005.6 852.6,1010.2C853.2,1014.8 853.6,1019.5 853.9,1024.1C854.2,1028.8 854.3,1033.4 854.5,1038.1C854.7,1042.4 854.7,1046.8 854.9,1051.1C855.0,1055.8 855.2,1060.4 855.4,1065.1C855.5,1069.8 855.6,1074.4 855.7,1079.1C855.8,1083.8 855.8,1088.5 855.9,1093.1C856.0,1097.8 856.0,1102.5 856.2,1107.1C856.4,1111.8 856.6,1116.5 857.0,1121.1C857.4,1125.8 857.9,1130.4 858.5,1135.0C859.1,1139.7 859.8,1144.3 860.6,1148.9C861.3,1153.5 862.2,1158.1 863.0,1162.7C863.9,1166.9 864.7,1171.2 865.6,1175.4C866.6,1180.0 867.6,1184.6 868.6,1189.1C869.6,1193.7 870.6,1198.2 871.7,1202.8C872.7,1207.3 873.8,1211.9 874.9,1216.4C876.0,1220.9 877.1,1225.5 878.3,1230.0C879.4,1234.5 880.6,1239.1 881.7,1243.6C882.9,1248.1 884.1,1252.6 885.3,1257.1C886.4,1261.7 887.6,1266.2 888.8,1270.7C889.9,1275.2 891.1,1279.8 892.2,1284.3C893.4,1288.8 894.5,1293.3 895.7,1297.8C896.8,1302.0 897.9,1306.2 899.0,1310.4C900.2,1314.9 901.4,1319.5 902.6,1324.0C903.8,1328.5 905.0,1333.0 906.1,1337.5C907.3,1342.1 908.4,1346.6 909.5,1351.1C910.6,1355.7 911.7,1360.2 912.6,1364.8C913.6,1369.3 914.6,1373.9 915.4,1378.5C916.3,1383.1 917.1,1387.7 917.8,1392.3C918.6,1396.9 919.3,1401.5 919.9,1406.2C920.6,1410.8 921.2,1415.4 921.8,1420.0C922.4,1424.7 922.9,1429.3 923.5,1433.9C924.1,1438.2 924.6,1442.5 925.2,1446.8C925.8,1451.5 926.5,1456.1 927.1,1460.7C927.8,1465.3 928.4,1470.0 929.1,1474.6C929.8,1479.2 930.4,1483.8 931.1,1488.5C931.8,1493.1 932.4,1497.7 933.1,1502.3C933.8,1506.9 934.4,1511.6 935.1,1516.2C935.7,1520.8 936.4,1525.4 937.0,1530.1C937.6,1534.7 938.3,1539.3 938.9,1544.0C939.5,1548.6 940.1,1553.2 940.7,1557.8C941.2,1562.1 941.8,1566.4 942.3,1570.7C942.9,1575.4 943.5,1580.0 944.0,1584.7C944.6,1589.3 945.1,1593.9 945.7,1598.6C946.2,1603.2 946.8,1607.8 947.3,1612.5C947.9,1617.1 948.4,1621.8 948.9,1626.4C949.5,1631.0 950.0,1635.7 950.5,1640.3C951.0,1645.0 951.5,1649.6 952.0,1654.2C952.5,1658.9 953.0,1663.5 953.5,1668.2C954.0,1672.8 954.5,1677.5 955.0,1682.1C955.4,1686.8 955.9,1691.4 956.4,1696.0C956.8,1700.4 957.2,1704.7 957.6,1709.0C958.0,1713.6 958.4,1718.3 958.8,1723.0C959.1,1727.6 959.5,1732.3 959.8,1736.9C960.1,1741.6 960.3,1746.3 960.6,1750.9C960.9,1755.6 961.1,1760.2 961.4,1764.9"/>
<path d="M806.5,691.0C810.3,693.4 814.7,695.1 817.9,698.3C821.1,701.5 823.1,705.8 825.0,709.9C827.0,714.1 828.2,718.6 829.6,723.1C830.9,727.6 831.9,732.1 832.9,736.7C833.9,741.2 834.8,745.8 835.5,750.4C836.2,755.0 836.8,759.7 837.3,764.3C837.8,768.9 838.1,773.6 838.4,778.2C838.6,782.9 838.8,787.6 838.9,792.2C839.0,796.9 839.1,801.6 839.2,806.2C839.3,811.2 839.3,816.2 839.3,821.2C839.4,825.9 839.4,830.6 839.4,835.2C839.4,839.9 839.3,844.6 839.3,849.2C839.3,853.9 839.2,858.6 839.2,863.2C839.2,867.9 839.1,872.6 839.1,877.2C839.1,881.9 839.0,886.6 839.0,891.2C839.0,895.9 839.0,900.6 839.0,905.2C839.0,909.9 838.9,914.6 838.9,919.2C838.9,923.9 838.8,928.6 838.8,933.2C838.7,937.9 838.7,942.6 838.6,947.2C838.5,951.9 838.5,956.6 838.4,961.2C838.3,965.9 838.3,970.6 838.2,975.2C838.2,979.9 838.1,984.6 838.1,989.2C838.0,993.9 838.0,998.6 837.9,1003.2C837.9,1007.9 837.9,1012.6 837.9,1017.2C837.9,1021.9 837.9,1026.6 837.9,1031.2C838.0,1035.9 838.0,1040.6 838.1,1045.2C838.2,1049.9 838.3,1054.6 838.4,1059.2C838.6,1063.9 838.8,1068.5 839.0,1073.2C839.3,1077.9 839.7,1082.5 840.1,1087.2C840.6,1092.1 841.1,1097.1 841.7,1102.1C842.2,1106.7 842.8,1111.3 843.5,1116.0C844.1,1120.6 844.8,1125.2 845.5,1129.8C846.2,1134.4 847.0,1139.0 847.9,1143.6C848.7,1148.2 849.6,1152.8 850.6,1157.4C851.5,1161.9 852.5,1166.5 853.5,1171.0C854.4,1175.6 855.4,1180.2 856.4,1184.7C857.4,1189.3 858.4,1193.9 859.4,1198.4C860.4,1203.0 861.4,1207.5 862.5,1212.1C863.5,1216.6 864.6,1221.2 865.6,1225.7C866.7,1230.3 867.7,1234.8 868.8,1239.3C869.8,1243.9 870.9,1248.4 871.9,1253.0C873.0,1257.5 874.0,1262.1 875.0,1266.7C876.0,1271.2 877.0,1275.8 877.9,1280.3C878.9,1284.9 879.8,1289.5 880.6,1294.1C881.5,1298.7 882.4,1303.2 883.2,1307.8C884.1,1312.4 884.9,1317.0 885.7,1321.6C886.6,1326.2 887.4,1330.8 888.1,1335.4C888.9,1340.0 889.7,1344.6 890.5,1349.2C891.3,1354.1 892.1,1359.1 892.9,1364.0C893.6,1368.6 894.3,1373.2 895.0,1377.8C895.7,1382.5 896.4,1387.1 897.0,1391.7C897.6,1396.3 898.3,1401.0 898.9,1405.6C899.5,1410.2 900.0,1414.8 900.6,1419.5C901.2,1424.1 901.8,1428.7 902.4,1433.4C903.1,1438.0 903.7,1442.6 904.4,1447.2C905.0,1451.8 905.7,1456.5 906.4,1461.1C907.2,1465.7 907.9,1470.3 908.6,1474.9C909.4,1479.5 910.1,1484.1 910.9,1488.7C911.7,1493.3 912.4,1497.9 913.2,1502.5C914.0,1507.1 914.8,1511.7 915.5,1516.3C916.3,1520.9 917.1,1525.5 917.9,1530.1C918.7,1534.7 919.5,1539.3 920.2,1543.9C921.0,1548.5 921.8,1553.1 922.6,1557.7C923.4,1562.3 924.1,1566.9 924.9,1571.5C925.7,1576.1 926.5,1580.7 927.2,1585.3C928.0,1589.9 928.8,1594.5 929.6,1599.1C930.3,1603.7 931.1,1608.3 931.9,1612.9C932.7,1617.5 933.5,1622.1 934.2,1626.8C935.1,1631.7 935.9,1636.6 936.7,1641.5C937.5,1646.1 938.3,1650.7 939.0,1655.4C939.8,1660.0 940.6,1664.6 941.3,1669.2C942.1,1673.8 942.8,1678.4 943.5,1683.0C944.3,1687.6 945.0,1692.2 945.6,1696.8C946.3,1701.5 946.9,1706.1 947.6,1710.7C948.2,1715.3 948.8,1719.9 949.5,1724.6C950.2,1729.2 950.8,1733.8 951.5,1738.4C952.3,1743.0 952.7,1747.7 954.0,1752.1C955.2,1756.5 957.3,1760.6 959.0,1764.9"/>
</g>
<g class="t" style="filter:grayscale(1)">
<rect x="380.50" y="10.90" width="107.00" height="29.4" fill="#f5f5f5"/>
<rect x="380.50" y="40.30" width="107.00" height="48.099999999999994" fill="#fff"/>
<path class="b" d="M380.50,10.90H487.50V88.40H380.50ZM380.50,40.30H487.50M380.50,64.20H487.50M397.70,64.20V88.40M458.00,64.20V88.40"/>
<text x="387.50" y="28.00" font-weight="bold" textLength="26" lengthAdjust="spacing">title</text>
<text x="440.50" y="28.60" textLength="39" lengthAdjust="spacing">[table]</text>
<text x="385.20" y="56.90" textLength="12" lengthAdjust="spacing">...</text>
<text x="402.50" y="80.00" textLength="51" lengthAdjust="spacing">11 rows</text>
<text x="461.50" y="80.00" textLength="21" lengthAdjust="spacing">1 &gt;</text>
<rect x="334.00" y="116.20" width="201.50" height="29.4" fill="#f5f5f5"/>
<rect x="334.00" y="145.60" width="201.50" height="48.099999999999994" fill="#fff"/>
<path class="b" d="M334.00,116.20H535.50V193.70H334.00ZM334.00,145.60H535.50M334.00,169.50H535.50M400.50,169.50V193.70M487.50,169.50V193.70"/>
<text x="341.00" y="133.30" font-weight="bold" textLength="117" lengthAdjust="spacing">guest_document</text>
<text x="488.50" y="133.90" textLength="39" lengthAdjust="spacing">[table]</text>
<text x="338.70" y="162.20" textLength="12" lengthAdjust="spacing">...</text>
<text x="338.50" y="185.30" textLength="21" lengthAdjust="spacing">&lt; 3</text>
<text x="424.00" y="185.30" textLength="59" lengthAdjust="spacing">334 rows</text>
<text x="509.50" y="185.30" textLength="21" lengthAdjust="spacing">1 &gt;</text>
<rect x="625.50" y="186.50" width="154.75" height="29.4" fill="#f5f5f5"/>
<rect x="625.50" y="215.90" width="154.75" height="48.099999999999994" fill="#fff"/>
<path class="b" d="M625.50,186.50H780.25V264.00H625.50ZM625.50,215.90H780.25M625.50,239.80H780.25M654.75,239.80V264.00M750.50,239.80V264.00"/>
<text x="632.50" y="203.60" font-weight="bold" textLength="39" lengthAdjust="spacing">guest</text>
<text x="733.25" y="204.20" textLength="39" lengthAdjust="spacing">[table]</text>
<text x="630.20" y="232.50" textLength="12" lengthAdjust="spacing">...</text>
<text x="630.00" y="255.60" textLength="21" lengthAdjust="spacing">&lt; 8</text>
<text x="659.00" y="255.60" textLength="87" lengthAdjust="spacing">211,599 rows</text>
<text x="754.25" y="255.60" textLength="21" lengthAdjust="spacing">7 &gt;</text>
<rect x="890.00" y="183.50" width="153.50" height="29.4" fill="#f5f5f5"/>
<rect x="890.00" y="212.90" width="153.50" height="48.099999999999994" fill="#fff"/>
<path class="b" d="M890.00,183.50H1043.50V261.00H890.00ZM890.00,212.90H1043.50M890.00,236.80H1043.50M936.50,236.80V261.00M1005.00,236.80V261.00"/>
<text x="897.00" y="200.60" font-weight="bold" textLength="79" lengthAdjust="spacing">credit_card</text>
<text x="996.50" y="201.20" textLength="39" lengthAdjust="spacing">[table]</text>
<text x="894.70" y="229.50" textLength="12" lengthAdjust="spacing">...</text>
<text x="894.50" y="252.60" textLength="21" lengthAdjust="spacing">&lt; 1</text>
<text x="949.50" y="252.60" textLength="51" lengthAdjust="spacing">48 rows</text>
<text x="1017.50" y="252.60" textLength="21" lengthAdjust="spacing">1 &gt;</text>
<rect x="884.50" y="289.00" width="163.00" height="29.4" fill="#f5f5f5"/>
<rect x="884.50" y="318.40" width="163.00" height="48.099999999999994" fill="#fff"/>
<path class="b" d="M884.50,289.00H1047.50V366.50H884.50ZM884.50,318.40H1047.50M884.50,342.30H1047.50M942.00,342.30V366.50M1015.00,342.30V366.50"/>
<text x="891.50" y="306.10" font-weight="bold" textLength="88" lengthAdjust="spacing">guest_social</text>
<text x="1000.50" y="306.70" textLength="39" lengthAdjust="spacing">[table]</text>
<text x="889.20" y="335.00" textLength="12" lengthAdjust="spacing">...</text>
<text x="889.00" y="358.10" textLength="21" lengthAdjust="spacing">&lt; 2</text>
<text x="959.50" y="358.10" textLength="51" lengthAdjust="spacing">37 rows</text>
<rect x="628.00" y="328.00" width="149.25" height="29.4" fill="#f5f5f5"/>
<rect x="628.00" y="357.40" width="149.25" height="48.099999999999994" fill="#fff"/>
<path class="b" d="M628.00,328.00H777.25V405.50H628.00ZM628.00,357.40H777.25M628.00,381.30H777.25M676.00,381.30V405.50M737.25,381.30V405.50"/>
<text x="635.00" y="345.10" font-weight="bold" textLength="77" lengthAdjust="spacing">group_info</text>
<text x="730.25" y="345.70" textLength="39" lengthAdjust="spacing">[table]</text>
<text x="632.70" y="374.00" textLength="12" lengthAdjust="spacing">...</text>
<text x="632.50" y="397.10" textLength="21" lengthAdjust="spacing">&lt; 5</text>
<text x="689.75" y="397.10" textLength="43" lengthAdjust="spacing">3 rows</text>
<text x="751.25" y="397.10" textLength="21" lengthAdjust="spacing">2 &gt;</text>
<rect x="380.50" y="433.50" width="107.00" height="29.4" fill="#f5f5f5"/>
<rect x="380.50" y="462.90" width="107.00" height="48.099999999999994" fill="#fff"/>
<path class="b" d="M380.50,433.50H487.50V511.00H380.50ZM380.50,462.90H487.50M380.50,486.80H487.50M397.50,486.80V511.00M458.00,486.80V511.00"/>
<text x="387.50" y="450.60" font-weight="bold" textLength="21" lengthAdjust="spacing">vip</text>
<text x="440.50" y="451.20" textLength="39" lengthAdjust="spacing">[table]</text>
<text x="385.20" y="479.50" textLength="12" lengthAdjust="spacing">...</text>
<text x="402.50" y="502.60" textLength="51" lengthAdjust="spacing">15 rows</text>
<text x="461.50" y="502.60" textLength="21" lengthAdjust="spacing">4 &gt;</text>
<rect x="889.00" y="430.50" width="154.50" height="29.4" fill="#f5f5f5"/>
<rect x="889.00" y="459.90" width="154.50" height="48.099999999999994" fill="#fff"/>
<path class="b" d="M889.00,430.50H1043.50V508.00H889.00ZM889.00,459.90H1043.50M889.00,483.80H1043.50M917.50,483.80V508.00M1006.00,483.80V508.00"/>
<text x="896.00" y="447.60" font-weight="bold" textLength="57" lengthAdjust="spacing">booking</text>
<text x="996.50" y="448.20" textLength="39" lengthAdjust="spacing">[table]</text>
<text x="893.70" y="476.50" textLength="12" lengthAdjust="spacing">...</text>
<text x="893.50" y="499.60" textLength="21" lengthAdjust="spacing">&lt; 9</text>
<text x="922.50" y="499.60" textLength="79" lengthAdjust="spacing">14,113 rows</text>
<text x="1009.50" y="499.60" textLength="29" lengthAdjust="spacing">10 &gt;</text>
<rect x="1127.50" y="430.50" width="193.50" height="29.4" fill="#f5f5f5"/>
<rect x="1127.50" y="459.90" width="193.50" height="48.099999999999994" fill="#fff"/>
<path class="b" d="M1127.50,430.50H1321.00V508.00H1127.50ZM1127.50,459.90H1321.00M1127.50,483.80H1321.00M1185.50,483.80V508.00M1288.50,483.80V508.00"/>
<text x="1134.50" y="447.60" font-weight="bold" textLength="112" lengthAdjust="spacing">booking_guests</text>
<text x="1274.00" y="448.20" textLength="39" lengthAdjust="spacing">[table]</text>
<text x="1132.20" y="476.50" textLength="12" lengthAdjust="spacing">...</text>
<text x="1132.00" y="499.60" textLength="21" lengthAdjust="spacing">&lt; 3</text>
<text x="1205.00" y="499.60" textLength="79" lengthAdjust="spacing">13,836 rows</text>
<rect x="884.50" y="540.00" width="163.00" height="29.4" fill="#f5f5f5"/>
<rect x="884.50" y="569.40" width="163.00" height="48.099999999999994" fill="#fff"/>
<path class="b" d="M884.50,540.00H1047.50V617.50H884.50ZM884.50,569.40H1047.50M884.50,593.30H1047.50M922.00,593.30V617.50M1010.00,593.30V617.50"/>
<text x="891.50" y="557.10" font-weight="bold" textLength="81" lengthAdjust="spacing">registration</text>
<text x="1000.50" y="557.70" textLength="39" lengthAdjust="spacing">[table]</text>
<text x="889.20" y="586.00" textLength="12" lengthAdjust="spacing">...</text>
<text x="889.00" y="609.10" textLength="29" lengthAdjust="spacing">&lt; 15</text>
<text x="926.50" y="609.10" textLength="79" lengthAdjust="spacing">12,094 rows</text>
<text x="1013.50" y="609.10" textLength="29" lengthAdjust="spacing">13 &gt;</text>
<rect x="1127.00" y="537.00" width="192.50" height="29.4" fill="#f5f5f5"/>
<rect x="1127.00" y="566.40" width="192.50" height="48.099999999999994" fill="#fff"/>
<path class="b" d="M1127.00,537.00H1319.50V614.50H1127.00ZM1127.00,566.40H1319.50M1127.00,590.30H1319.50M1195.00,590.30V614.50M1282.00,590.30V614.50"/>
<text x="1134.00" y="554.10" font-weight="bold" textLength="109" lengthAdjust="spacing">register_guests</text>
<text x="1272.50" y="554.70" textLength="39" lengthAdjust="spacing">[table]</text>
<text x="1131.70" y="583.00" textLength="12" lengthAdjust="spacing">...</text>
<text x="1131.50" y="606.10" textLength="21" lengthAdjust="spacing">&lt; 2</text>
<text x="1218.50" y="606.10" textLength="59" lengthAdjust="spacing">136 rows</text>
<rect x="359.50" y="618.50" width="151.00" height="29.4" fill="#f5f5f5"/>
<rect x="359.50" y="647.90" width="151.00" height="48.099999999999994" fill="#fff"/>
<path class="b" d="M359.50,618.50H510.50V696.00H359.50ZM359.50,647.90H510.50M359.50,671.80H510.50M400.50,671.80V696.00M474.00,671.80V696.00"/>
<text x="366.50" y="635.60" font-weight="bold" textLength="73" lengthAdjust="spacing">nationality</text>
<text x="463.50" y="636.20" textLength="39" lengthAdjust="spacing">[table]</text>
<text x="364.20" y="664.50" textLength="12" lengthAdjust="spacing">...</text>
<text x="364.00" y="687.60" textLength="21" lengthAdjust="spacing">&lt; 2</text>
<text x="410.50" y="687.60" textLength="59" lengthAdjust="spacing">263 rows</text>
<text x="484.50" y="687.60" textLength="21" lengthAdjust="spacing">5 &gt;</text>
<rect x="599.50" y="649.00" width="206.00" height="29.4" fill="#f5f5f5"/>
<rect x="599.50" y="678.40" width="206.00" height="48.099999999999994" fill="#fff"/>
<path class="b" d="M599.50,649.00H805.50V726.50H599.50ZM599.50,678.40H805.50M599.50,702.30H805.50M669.50,702.30V726.50M749.00,702.30V726.50"/>
<text x="606.50" y="666.10" font-weight="bold" textLength="117" lengthAdjust="spacing">reservation_type</text>
<text x="758.50" y="666.70" textLength="39" lengthAdjust="spacing">[table]</text>
<text x="604.20" y="695.00" textLength="12" lengthAdjust="spacing">...</text>
<text x="701.50" y="718.10" textLength="43" lengthAdjust="spacing">7 rows</text>
<text x="779.50" y="718.10" textLength="21" lengthAdjust="spacing">4 &gt;</text>
<rect x="359.50" y="760.00" width="149.50" height="29.4" fill="#f5f5f5"/>
<rect x="359.50" y="789.40" width="149.50" height="48.099999999999994" fill="#fff"/>
<path class="b" d="M359.50,760.00H509.00V837.50H359.50ZM359.50,789.40H509.00M359.50,813.30H509.00M401.50,813.30V837.50M465.50,813.30V837.50"/>
<text x="366.50" y="777.10" font-weight="bold" textLength="75" lengthAdjust="spacing">sales_staff</text>
<text x="462.00" y="777.70" textLength="39" lengthAdjust="spacing">[table]</text>
<text x="364.20" y="806.00" textLength="12" lengthAdjust="spacing">...</text>
<text x="418.00" y="829.10" textLength="43" lengthAdjust="spacing">4 rows</text>
<text x="483.00" y="829.10" textLength="21" lengthAdjust="spacing">5 &gt;</text>
<rect x="629.00" y="827.50" width="147.00" height="29.4" fill="#f5f5f5"/>
<rect x="629.00" y="856.90" width="147.00" height="48.099999999999994" fill="#fff"/>
<path class="b" d="M629.00,827.50H776.00V905.00H629.00ZM629.00,856.90H776.00M629.00,880.80H776.00M658.00,880.80V905.00M739.00,880.80V905.00"/>
<text x="636.00" y="844.60" font-weight="bold" textLength="55" lengthAdjust="spacing">channel</text>
<text x="729.00" y="845.20" textLength="39" lengthAdjust="spacing">[table]</text>
<text x="633.70" y="873.50" textLength="12" lengthAdjust="spacing">...</text>
<text x="633.50" y="896.60" textLength="21" lengthAdjust="spacing">&lt; 7</text>
<text x="663.50" y="896.60" textLength="71" lengthAdjust="spacing">3,911 rows</text>
<text x="742.00" y="896.60" textLength="29" lengthAdjust="spacing">10 &gt;</text>
<rect x="380.50" y="865.50" width="107.00" height="29.4" fill="#f5f5f5"/>
<rect x="380.50" y="894.90" width="107.00" height="48.099999999999994" fill="#fff"/>
<path class="b" d="M380.50,865.50H487.50V943.00H380.50ZM380.50,894.90H487.50M380.50,918.80H487.50M397.50,918.80V943.00M458.00,918.80V943.00"/>
<text x="387.50" y="882.60" font-weight="bold" textLength="41" lengthAdjust="spacing">origin</text>
<text x="440.50" y="883.20" textLength="39" lengthAdjust="spacing">[table]</text>
<text x="385.20" y="911.50" textLength="12" lengthAdjust="spacing">...</text>
<text x="402.50" y="934.60" textLength="51" lengthAdjust="spacing">12 rows</text>
<text x="461.50" y="934.60" textLength="21" lengthAdjust="spacing">7 &gt;</text>
<rect x="80.50" y="914.50" width="123.00" height="29.4" fill="#f5f5f5"/>
<rect x="80.50" y="943.90" width="123.00" height="48.099999999999994" fill="#fff"/>
<path class="b" d="M80.50,914.50H203.50V992.00H80.50ZM80.50,943.90H203.50M80.50,967.80H203.50M98.00,967.80V992.00M165.50,967.80V992.00"/>
<text x="87.50" y="931.60" font-weight="bold" textLength="54" lengthAdjust="spacing">country</text>
<text x="156.50" y="932.20" textLength="39" lengthAdjust="spacing">[table]</text>
<text x="85.20" y="960.50" textLength="12" lengthAdjust="spacing">...</text>
<text x="102.00" y="983.60" textLength="59" lengthAdjust="spacing">253 rows</text>
<text x="169.50" y="983.60" textLength="29" lengthAdjust="spacing">10 &gt;</text>
<rect x="364.50" y="1006.50" width="139.00" height="29.4" fill="#f5f5f5"/>
<rect x="364.50" y="1035.90" width="139.00" height="48.099999999999994" fill="#fff"/>
<path class="b" d="M364.50,1006.50H503.50V1084.00H364.50ZM364.50,1035.90H503.50M364.50,1059.80H503.50M393.50,1059.80V1084.00M473.50,1059.80V1084.00"/>
<text x="371.50" y="1023.60" font-weight="bold" textLength="25" lengthAdjust="spacing">city</text>
<text x="456.50" y="1024.20" textLength="39" lengthAdjust="spacing">[table]</text>
<text x="369.20" y="1052.50" textLength="12" lengthAdjust="spacing">...</text>
<text x="369.00" y="1075.60" textLength="21" lengthAdjust="spacing">&lt; 1</text>
<text x="398.00" y="1075.60" textLength="71" lengthAdjust="spacing">4,057 rows</text>
<text x="477.50" y="1075.60" textLength="21" lengthAdjust="spacing">3 &gt;</text>
<rect x="634.50" y="1076.00" width="138.00" height="29.4" fill="#f5f5f5"/>
<rect x="634.50" y="1105.40" width="138.00" height="48.099999999999994" fill="#fff"/>
<path class="b" d="M634.50,1076.00H772.50V1153.50H634.50ZM634.50,1105.40H772.50M634.50,1129.30H772.50M669.00,1129.30V1153.50M732.00,1129.30V1153.50"/>
<text x="641.50" y="1093.10" font-weight="bold" textLength="65" lengthAdjust="spacing">rate_plan</text>
<text x="725.50" y="1093.70" textLength="39" lengthAdjust="spacing">[table]</text>
<text x="639.20" y="1122.00" textLength="12" lengthAdjust="spacing">...</text>
<text x="639.00" y="1145.10" textLength="21" lengthAdjust="spacing">&lt; 5</text>
<text x="676.50" y="1145.10" textLength="51" lengthAdjust="spacing">32 rows</text>
<text x="738.50" y="1145.10" textLength="29" lengthAdjust="spacing">11 &gt;</text>
<rect x="892.50" y="1078.00" width="148.00" height="29.4" fill="#f5f5f5"/>
<rect x="892.50" y="1107.40" width="148.00" height="48.099999999999994" fill="#fff"/>
<path class="b" d="M892.50,1078.00H1040.50V1155.50H892.50ZM892.50,1107.40H1040.50M892.50,1131.30H1040.50M936.50,1131.30V1155.50M1019.00,1131.30V1155.50"/>
<text x="899.50" y="1095.10" font-weight="bold" textLength="77" lengthAdjust="spacing">rsv_pickup</text>
<text x="993.50" y="1095.70" textLength="39" lengthAdjust="spacing">[table]</text>
<text x="897.20" y="1124.00" textLength="12" lengthAdjust="spacing">...</text>
<text x="897.00" y="1147.10" textLength="29" lengthAdjust="spacing">&lt; 17</text>
<text x="943.50" y="1147.10" textLength="71" lengthAdjust="spacing">2,856 rows</text>
<rect x="83.00" y="1090.50" width="118.00" height="29.4" fill="#f5f5f5"/>
<rect x="83.00" y="1119.90" width="118.00" height="48.099999999999994" fill="#fff"/>
<path class="b" d="M83.00,1090.50H201.00V1168.00H83.00ZM83.00,1119.90H201.00M83.00,1143.80H201.00M106.00,1143.80V1168.00M169.00,1143.80V1168.00"/>
<text x="90.00" y="1107.60" font-weight="bold" textLength="48" lengthAdjust="spacing">market</text>
<text x="154.00" y="1108.20" textLength="39" lengthAdjust="spacing">[table]</text>
<text x="87.70" y="1136.50" textLength="12" lengthAdjust="spacing">...</text>
<text x="113.50" y="1159.60" textLength="51" lengthAdjust="spacing">15 rows</text>
<text x="175.00" y="1159.60" textLength="21" lengthAdjust="spacing">8 &gt;</text>
<rect x="362.00" y="1112.00" width="146.00" height="29.4" fill="#f5f5f5"/>
<rect x="362.00" y="1141.40" width="146.00" height="48.099999999999994" fill="#fff"/>
<path class="b" d="M362.00,1112.00H508.00V1189.50H362.00ZM362.00,1141.40H508.00M362.00,1165.30H508.00M401.50,1165.30V1189.50M465.50,1165.30V1189.50"/>
<text x="369.00" y="1129.10" font-weight="bold" textLength="71" lengthAdjust="spacing">meal_type</text>
<text x="461.00" y="1129.70" textLength="39" lengthAdjust="spacing">[table]</text>
<text x="366.70" y="1158.00" textLength="12" lengthAdjust="spacing">...</text>
<text x="418.00" y="1181.10" textLength="43" lengthAdjust="spacing">9 rows</text>
<text x="482.00" y="1181.10" textLength="21" lengthAdjust="spacing">7 &gt;</text>
<rect x="629.00" y="1269.50" width="147.00" height="29.4" fill="#f5f5f5"/>
<rect x="629.00" y="1298.90" width="147.00" height="48.099999999999994" fill="#fff"/>
<path class="b" d="M629.00,1269.50H776.00V1347.00H629.00ZM629.00,1298.90H776.00M629.00,1322.80H776.00M670.00,1322.80V1347.00M734.50,1322.80V1347.00"/>
<text x="636.00" y="1286.60" font-weight="bold" textLength="73" lengthAdjust="spacing">promotion</text>
<text x="729.00" y="1287.20" textLength="39" lengthAdjust="spacing">[table]</text>
<text x="633.70" y="1315.50" textLength="12" lengthAdjust="spacing">...</text>
<text x="687.00" y="1338.60" textLength="43" lengthAdjust="spacing">0 rows</text>
<text x="750.00" y="1338.60" textLength="21" lengthAdjust="spacing">6 &gt;</text>
<rect x="367.50" y="1417.50" width="135.00" height="29.4" fill="#f5f5f5"/>
<rect x="367.50" y="1446.90" width="135.00" height="48.099999999999994" fill="#fff"/>
<path class="b" d="M367.50,1417.50H502.50V1495.00H367.50ZM367.50,1446.90H502.50M367.50,1470.80H502.50M401.50,1470.80V1495.00M463.50,1470.80V1495.00"/>
<text x="374.50" y="1434.60" font-weight="bold" textLength="64" lengthAdjust="spacing">bed_type</text>
<text x="455.50" y="1435.20" textLength="39" lengthAdjust="spacing">[table]</text>
<text x="372.20" y="1463.50" textLength="12" lengthAdjust="spacing">...</text>
<text x="416.00" y="1486.60" textLength="43" lengthAdjust="spacing">5 rows</text>
<text x="476.50" y="1486.60" textLength="21" lengthAdjust="spacing">4 &gt;</text>
<rect x="640.00" y="1483.00" width="127.00" height="29.4" fill="#f5f5f5"/>
<rect x="640.00" y="1512.40" width="127.00" height="48.099999999999994" fill="#fff"/>
<path class="b" d="M640.00,1483.00H767.00V1560.50H640.00ZM640.00,1512.40H767.00M640.00,1536.30H767.00M669.50,1536.30V1560.50M737.50,1536.30V1560.50"/>
<text x="647.00" y="1500.10" font-weight="bold" textLength="37" lengthAdjust="spacing">room</text>
<text x="720.00" y="1500.70" textLength="39" lengthAdjust="spacing">[table]</text>
<text x="644.70" y="1529.00" textLength="12" lengthAdjust="spacing">...</text>
<text x="644.50" y="1552.10" textLength="21" lengthAdjust="spacing">&lt; 6</text>
<text x="674.00" y="1552.10" textLength="59" lengthAdjust="spacing">283 rows</text>
<text x="741.00" y="1552.10" textLength="21" lengthAdjust="spacing">8 &gt;</text>
<rect x="360.50" y="1522.50" width="148.50" height="29.4" fill="#f5f5f5"/>
<rect x="360.50" y="1551.90" width="148.50" height="48.099999999999994" fill="#fff"/>
<path class="b" d="M360.50,1522.50H509.00V1600.00H360.50ZM360.50,1551.90H509.00M360.50,1575.80H509.00M404.50,1575.80V1600.00M463.00,1575.80V1600.00"/>
<text x="367.50" y="1539.60" font-weight="bold" textLength="75" lengthAdjust="spacing">room_type</text>
<text x="462.00" y="1540.20" textLength="39" lengthAdjust="spacing">[table]</text>
<text x="365.20" y="1568.50" textLength="12" lengthAdjust="spacing">...</text>
<text x="365.00" y="1591.60" textLength="21" lengthAdjust="spacing">&lt; 1</text>
<text x="415.50" y="1591.60" textLength="43" lengthAdjust="spacing">7 rows</text>
<text x="475.00" y="1591.60" textLength="29" lengthAdjust="spacing">11 &gt;</text>
<rect x="626.50" y="1588.00" width="152.50" height="29.4" fill="#f5f5f5"/>
<rect x="626.50" y="1617.40" width="152.50" height="48.099999999999994" fill="#fff"/>
<path class="b" d="M626.50,1588.00H779.00V1665.50H626.50ZM626.50,1617.40H779.00M626.50,1641.30H779.00M662.50,1641.30V1665.50M740.00,1641.30V1665.50"/>
<text x="633.50" y="1605.10" font-weight="bold" textLength="78" lengthAdjust="spacing">occupation</text>
<text x="732.00" y="1605.70" textLength="39" lengthAdjust="spacing">[table]</text>
<text x="631.20" y="1634.00" textLength="12" lengthAdjust="spacing">...</text>
<text x="676.50" y="1657.10" textLength="59" lengthAdjust="spacing">150 rows</text>
<text x="753.00" y="1657.10" textLength="21" lengthAdjust="spacing">2 &gt;</text>
<rect x="371.00" y="1643.00" width="127.00" height="29.4" fill="#f5f5f5"/>
<rect x="371.00" y="1672.40" width="127.00" height="48.099999999999994" fill="#fff"/>
<path class="b" d="M371.00,1643.00H498.00V1720.50H371.00ZM371.00,1672.40H498.00M371.00,1696.30H498.00M402.00,1696.30V1720.50M461.00,1696.30V1720.50"/>
<text x="378.00" y="1660.10" font-weight="bold" textLength="57" lengthAdjust="spacing">building</text>
<text x="451.00" y="1660.70" textLength="39" lengthAdjust="spacing">[table]</text>
<text x="375.70" y="1689.00" textLength="12" lengthAdjust="spacing">...</text>
<text x="413.50" y="1712.10" textLength="43" lengthAdjust="spacing">3 rows</text>
<text x="472.00" y="1712.10" textLength="21" lengthAdjust="spacing">2 &gt;</text>
<rect x="339.50" y="1777.00" width="191.00" height="29.4" fill="#f5f5f5"/>
<rect x="339.50" y="1806.40" width="191.00" height="48.099999999999994" fill="#fff"/>
<path class="b" d="M339.50,1777.00H530.50V1854.50H339.50ZM339.50,1806.40H530.50M339.50,1830.30H530.50M401.50,1830.30V1854.50M476.50,1830.30V1854.50"/>
<text x="346.50" y="1794.10" font-weight="bold" textLength="110" lengthAdjust="spacing">room_exposure</text>
<text x="483.50" y="1794.70" textLength="39" lengthAdjust="spacing">[table]</text>
<text x="344.20" y="1823.00" textLength="12" lengthAdjust="spacing">...</text>
<text x="429.00" y="1846.10" textLength="43" lengthAdjust="spacing">4 rows</text>
<text x="504.50" y="1846.10" textLength="21" lengthAdjust="spacing">2 &gt;</text>
<rect x="871.00" y="1785.50" width="191.50" height="29.4" fill="#f5f5f5"/>
<rect x="871.00" y="1814.90" width="191.50" height="48.099999999999994" fill="#fff"/>
<path class="b" d="M871.00,1785.50H1062.50V1863.00H871.00ZM871.00,1814.90H1062.50M871.00,1838.80H1062.50M928.50,1838.80V1863.00M1034.00,1838.80V1863.00"/>
<text x="878.00" y="1802.60" font-weight="bold" textLength="110" lengthAdjust="spacing">room_summary</text>
<text x="1015.50" y="1803.20" textLength="39" lengthAdjust="spacing">[table]</text>
<text x="875.70" y="1831.50" textLength="12" lengthAdjust="spacing">...</text>
<text x="875.50" y="1854.60" textLength="29" lengthAdjust="spacing">&lt; 20</text>
<text x="942.50" y="1854.60" textLength="87" lengthAdjust="spacing">227,907 rows</text>
<rect x="344.50" y="1940.00" width="180.50" height="29.4" fill="#f5f5f5"/>
<rect x="344.50" y="1969.40" width="180.50" height="48.099999999999994" fill="#fff"/>
<path class="b" d="M344.50,1940.00H525.00V2017.50H344.50ZM344.50,1969.40H525.00M344.50,1993.30H525.00M397.50,1993.30V2017.50M476.50,1993.30V2017.50"/>
<text x="351.50" y="1957.10" font-weight="bold" textLength="101" lengthAdjust="spacing">room_location</text>
<text x="478.00" y="1957.70" textLength="39" lengthAdjust="spacing">[table]</text>
<text x="349.20" y="1986.00" textLength="12" lengthAdjust="spacing">...</text>
<text x="421.00" y="2009.10" textLength="51" lengthAdjust="spacing">14 rows</text>
<text x="499.00" y="2009.10" textLength="21" lengthAdjust="spacing">2 &gt;</text>
<rect x="18" y="612" width="248" height="202.20000000000005" fill="#fff"/>
<rect x="18" y="612" width="248" height="30.200000000000045" fill="#f5f5f5"/>
<path class="b" d="M18,642.2H266M18,671.9H266M18,701H266M18,730.5H266M18,760H266M18,789H266M145.7,642.2V814.2M66.9,789V814.2"/>
<rect x="18" y="612" width="248" height="202.20000000000005" fill="none" stroke="#000" stroke-width="3.6"/>
<text x="26.00" y="629.80" font-weight="bold" textLength="64" lengthAdjust="spacing">language</text>
<text x="219.00" y="631.60" textLength="39" lengthAdjust="spacing">[table]</text>
<text x="46.00" y="660.80" textLength="11" lengthAdjust="spacing">id</text>
<text x="150.00" y="660.80" textLength="47" lengthAdjust="spacing">int4[10]</text>
<text x="46.00" y="689.60" textLength="31" lengthAdjust="spacing">code</text>
<text x="150.00" y="689.60" textLength="60" lengthAdjust="spacing">bpchar[2]</text>
<text x="46.00" y="719.20" textLength="36" lengthAdjust="spacing">name</text>
<text x="150.00" y="719.20" textLength="111" lengthAdjust="spacing">text[2147483647]</text>
<text x="46.00" y="748.40" textLength="73" lengthAdjust="spacing">local_name</text>
<text x="150.00" y="748.40" textLength="111" lengthAdjust="spacing">text[2147483647]</text>
<text x="46.00" y="777.60" textLength="51" lengthAdjust="spacing">enabled</text>
<text x="150.00" y="777.60" textLength="43" lengthAdjust="spacing">bool[1]</text>
<text x="23.00" y="804.20" textLength="21" lengthAdjust="spacing">&lt; 0</text>
<text x="90.20" y="804.20" textLength="51" lengthAdjust="spacing">92 rows</text>
<text x="240.50" y="804.20" textLength="21" lengthAdjust="spacing">5 &gt;</text>
<text x="16.00" y="2205.50" textLength="169" lengthAdjust="spacing">Generated by SchemaSpy</text>
</g>
<g fill="#d5dd00"><circle cx="33.3" cy="652.8" r="3.3"/><rect x="31.9" y="654" width="2.9" height="11" rx="1"/><circle cx="33.3" cy="651.7" r="0.8" fill="#fff"/></g>
<g class="h">
<circle cx="664.8" cy="168.7" r="3.6"/>
<path class="c" d="M666.0,172.8L663.4,186.9L667.9,179.5L675.7,183.4Z"/>
<path d="M667.6,178.3L669.5,184.9"/>
<circle cx="615.5" cy="175.0" r="3.6"/>
<path class="c" d="M618.6,177.9L623.6,191.3L623.7,182.6L632.4,182.0Z"/>
<path d="M622.8,181.8L627.9,186.5"/>
<circle cx="324.3" cy="169.7" r="3.6"/>
<path class="c" d="M326.4,166.0L338.4,158.1L329.9,160.0L327.3,151.7Z"/>
<path d="M329.3,161.0L332.8,155.1"/>
<circle cx="599.3" cy="226.2" r="3.6"/>
<path class="c" d="M603.6,225.8L617.0,230.8L610.4,225.0L615.6,218.0Z"/>
<path d="M609.2,225.2L616.1,224.4"/>
<circle cx="600.5" cy="255.2" r="3.6"/>
<path class="c" d="M604.6,253.9L618.7,256.3L611.2,251.9L615.0,244.1Z"/>
<path d="M610.1,252.3L616.7,250.3"/>
<circle cx="600.5" cy="272.3" r="3.6"/>
<path class="c" d="M604.5,270.8L618.8,272.5L611.0,268.5L614.4,260.4Z"/>
<path d="M609.9,268.9L616.4,266.5"/>
<circle cx="602.5" cy="336.2" r="3.6"/>
<path class="c" d="M606.8,336.8L618.5,344.9L613.6,337.8L620.3,332.2Z"/>
<path d="M612.4,337.6L619.2,338.6"/>
<circle cx="602.5" cy="342.2" r="3.6"/>
<path class="c" d="M606.8,342.4L619.2,349.5L613.7,342.8L619.9,336.7Z"/>
<path d="M612.5,342.7L619.4,343.1"/>
<circle cx="602.5" cy="356.0" r="3.6"/>
<path class="c" d="M606.8,356.2L619.4,363.0L613.7,356.4L619.8,350.2Z"/>
<path d="M612.5,356.3L619.4,356.6"/>
<circle cx="1111.2" cy="577.8" r="3.6"/>
<path class="c" d="M1115.5,577.8L1128.3,584.2L1122.4,577.8L1128.3,571.4Z"/>
<path d="M1121.2,577.8L1128.1,577.8"/>
<circle cx="1111.2" cy="469.7" r="3.6"/>
<path class="c" d="M1115.5,470.3L1127.2,478.4L1122.3,471.3L1129.0,465.7Z"/>
<path d="M1121.1,471.1L1127.9,472.1"/>
<circle cx="873.5" cy="225.3" r="3.6"/>
<path class="c" d="M877.8,225.3L890.6,231.7L884.7,225.3L890.6,218.9Z"/>
<path d="M883.5,225.3L890.4,225.3"/>
<circle cx="868.6" cy="328.1" r="3.6"/>
<path class="c" d="M872.9,328.5L885.1,336.0L879.8,329.1L886.2,323.2Z"/>
<path d="M878.6,329.0L885.4,329.6"/>
<circle cx="1111.2" cy="474.9" r="3.6"/>
<path class="c" d="M1115.5,474.3L1129.0,478.9L1122.3,473.3L1127.2,466.2Z"/>
<path d="M1121.1,473.5L1127.9,472.5"/>
<circle cx="1111.2" cy="471.2" r="3.6"/>
<path class="c" d="M1115.5,471.2L1128.3,477.6L1122.4,471.2L1128.3,464.8Z"/>
<path d="M1121.2,471.2L1128.1,471.2"/>
<circle cx="604.0" cy="416.5" r="3.6"/>
<path class="c" d="M607.8,414.5L622.1,414.4L614.0,411.4L616.3,403.0Z"/>
<path d="M612.9,412.0L619.1,408.8"/>
<circle cx="614.0" cy="279.7" r="3.6"/>
<path class="c" d="M616.6,276.3L629.6,270.2L620.9,270.9L619.5,262.3Z"/>
<path d="M620.2,271.8L624.4,266.4"/>
<circle cx="618.0" cy="279.7" r="3.6"/>
<path class="c" d="M620.8,276.4L633.9,270.7L625.2,271.1L624.1,262.5Z"/>
<path d="M624.4,272.0L628.9,266.8"/>
<circle cx="625.7" cy="279.7" r="3.6"/>
<path class="c" d="M628.7,276.7L642.3,272.1L633.6,271.8L633.3,263.1Z"/>
<path d="M632.8,272.6L637.7,267.7"/>
<circle cx="605.2" cy="410.2" r="3.6"/>
<path class="c" d="M608.0,406.9L621.1,401.2L612.4,401.6L611.3,393.0Z"/>
<path d="M611.6,402.5L616.1,397.3"/>
<circle cx="872.0" cy="470.0" r="3.6"/>
<path class="c" d="M876.3,470.0L889.1,476.4L883.2,470.0L889.1,463.6Z"/>
<path d="M882.0,470.0L888.9,470.0"/>
<circle cx="872.0" cy="473.5" r="3.6"/>
<path class="c" d="M876.3,473.5L889.1,479.9L883.2,473.5L889.1,467.1Z"/>
<path d="M882.0,473.5L888.9,473.5"/>
<circle cx="868.6" cy="581.0" r="3.6"/>
<path class="c" d="M872.9,581.0L885.7,587.4L879.8,581.0L885.7,574.6Z"/>
<path d="M878.6,581.0L885.5,581.0"/>
<circle cx="868.6" cy="584.0" r="3.6"/>
<path class="c" d="M872.9,584.0L885.7,590.4L879.8,584.0L885.7,577.6Z"/>
<path d="M878.6,584.0L885.5,584.0"/>
<circle cx="869.5" cy="589.0" r="3.6"/>
<path class="c" d="M873.7,588.3L887.5,592.3L880.5,587.1L885.2,579.7Z"/>
<path d="M879.3,587.3L886.1,586.1"/>
<circle cx="951.4" cy="1059.0" r="3.6"/>
<path class="c" d="M952.5,1063.2L949.6,1077.2L954.3,1069.8L962.0,1073.9Z"/>
<path d="M954.0,1068.7L955.8,1075.3"/>
<circle cx="954.8" cy="1059.0" r="3.6"/>
<path class="c" d="M955.9,1063.2L953.0,1077.2L957.7,1069.8L965.4,1073.9Z"/>
<path d="M957.4,1068.7L959.2,1075.3"/>
<circle cx="926.9" cy="1061.0" r="3.6"/>
<path class="c" d="M928.4,1065.0L926.7,1079.3L930.7,1071.5L938.8,1074.9Z"/>
<path d="M930.3,1070.4L932.7,1076.9"/>
<circle cx="957.7" cy="1059.0" r="3.6"/>
<path class="c" d="M958.7,1063.2L955.3,1077.1L960.2,1069.9L967.8,1074.2Z"/>
<path d="M959.9,1068.7L961.5,1075.5"/>
<circle cx="947.4" cy="1059.0" r="3.6"/>
<path class="c" d="M948.7,1063.1L946.6,1077.2L950.9,1069.7L958.8,1073.3Z"/>
<path d="M950.5,1068.5L952.6,1075.1"/>
<circle cx="912.0" cy="1062.4" r="3.6"/>
<path class="c" d="M914.0,1066.2L914.1,1080.5L917.1,1072.4L925.5,1074.7Z"/>
<path d="M916.5,1071.3L919.7,1077.5"/>
<circle cx="613.4" cy="864.0" r="3.6"/>
<path class="c" d="M617.7,864.0L630.5,870.4L624.6,864.0L630.5,857.6Z"/>
<path d="M623.4,864.0L630.3,864.0"/>
<circle cx="613.4" cy="867.5" r="3.6"/>
<path class="c" d="M617.7,867.5L630.5,873.9L624.6,867.5L630.5,861.1Z"/>
<path d="M623.4,867.5L630.3,867.5"/>
<circle cx="332.2" cy="657.3" r="3.6"/>
<path class="c" d="M336.5,657.3L349.3,663.7L343.4,657.3L349.3,650.9Z"/>
<path d="M342.2,657.3L349.1,657.3"/>
<circle cx="351.7" cy="711.2" r="3.6"/>
<path class="c" d="M354.0,707.6L366.4,700.3L357.8,701.8L355.6,693.4Z"/>
<path d="M357.1,702.8L360.9,697.0"/>
<circle cx="348.2" cy="1046.6" r="3.6"/>
<path class="c" d="M352.5,1047.2L364.2,1055.3L359.3,1048.2L366.0,1042.6Z"/>
<path d="M358.1,1048.0L364.9,1049.0"/>
<circle cx="877.8" cy="1066.3" r="3.6"/>
<path class="c" d="M881.7,1068.1L890.6,1079.3L888.0,1071.0L896.0,1067.7Z"/>
<path d="M886.9,1070.5L893.1,1073.4"/>
<circle cx="866.9" cy="1155.4" r="3.6"/>
<path class="c" d="M871.1,1154.3L885.1,1157.2L877.7,1152.5L881.8,1144.8Z"/>
<path d="M876.6,1152.8L883.2,1151.0"/>
<circle cx="879.3" cy="1167.1" r="3.6"/>
<path class="c" d="M883.4,1165.8L897.5,1167.9L890.0,1163.6L893.6,1155.7Z"/>
<path d="M888.8,1164.0L895.4,1161.9"/>
<circle cx="618.4" cy="1116.0" r="3.6"/>
<path class="c" d="M622.7,1116.0L635.5,1122.4L629.6,1116.0L635.5,1109.6Z"/>
<path d="M628.4,1116.0L635.3,1116.0"/>
<circle cx="618.4" cy="1119.0" r="3.6"/>
<path class="c" d="M622.7,1119.0L635.5,1125.4L629.6,1119.0L635.5,1112.6Z"/>
<path d="M628.4,1119.0L635.3,1119.0"/>
<circle cx="948.0" cy="1176.1" r="3.6"/>
<path class="c" d="M948.9,1171.9L957.8,1160.7L950.3,1165.1L945.3,1158.0Z"/>
<path d="M950.1,1166.3L951.5,1159.6"/>
<circle cx="934.6" cy="1882.0" r="3.6"/>
<path class="c" d="M935.9,1877.9L946.0,1867.7L938.1,1871.3L933.8,1863.8Z"/>
<path d="M937.7,1872.5L939.8,1865.9"/>
<circle cx="940.2" cy="1882.0" r="3.6"/>
<path class="c" d="M941.5,1877.9L951.6,1867.7L943.7,1871.3L939.4,1863.8Z"/>
<path d="M943.3,1872.5L945.4,1865.9"/>
<circle cx="945.1" cy="1882.0" r="3.6"/>
<path class="c" d="M946.4,1877.9L956.5,1867.7L948.6,1871.3L944.3,1863.8Z"/>
<path d="M948.2,1872.5L950.3,1865.9"/>
<circle cx="950.1" cy="1882.0" r="3.6"/>
<path class="c" d="M951.4,1877.9L961.5,1867.7L953.6,1871.3L949.3,1863.8Z"/>
<path d="M953.2,1872.5L955.3,1865.9"/>
<circle cx="955.0" cy="1882.0" r="3.6"/>
<path class="c" d="M956.3,1877.9L966.4,1867.7L958.5,1871.3L954.2,1863.8Z"/>
<path d="M958.1,1872.5L960.2,1865.9"/>
<circle cx="623.1" cy="1523.5" r="3.6"/>
<path class="c" d="M627.4,1523.5L640.2,1529.9L634.3,1523.5L640.2,1517.1Z"/>
<path d="M633.1,1523.5L640.0,1523.5"/>
<circle cx="623.1" cy="1526.0" r="3.6"/>
<path class="c" d="M627.4,1526.0L640.2,1532.4L634.3,1526.0L640.2,1519.6Z"/>
<path d="M633.1,1526.0L640.0,1526.0"/>
<circle cx="867.1" cy="1076.8" r="3.6"/>
<path class="c" d="M871.2,1078.1L881.6,1087.9L877.8,1080.1L885.3,1075.7Z"/>
<path d="M876.7,1079.7L883.3,1081.7"/>
<circle cx="903.3" cy="1770.1" r="3.6"/>
<path class="c" d="M906.6,1772.9L912.3,1786.0L911.9,1777.3L920.5,1776.2Z"/>
<path d="M911.0,1776.5L916.2,1781.0"/>
<circle cx="870.0" cy="1773.4" r="3.6"/>
<path class="c" d="M873.7,1775.6L881.6,1787.5L879.7,1779.0L888.0,1776.4Z"/>
<path d="M878.7,1778.4L884.6,1781.9"/>
<circle cx="845.3" cy="1792.2" r="3.6"/>
<path class="c" d="M849.3,1793.8L858.8,1804.5L855.7,1796.4L863.6,1792.7Z"/>
<path d="M854.6,1795.9L861.0,1798.5"/>
<circle cx="845.3" cy="1818.6" r="3.6"/>
<path class="c" d="M849.6,1819.0L861.8,1826.5L856.5,1819.6L862.9,1813.7Z"/>
<path d="M855.3,1819.5L862.1,1820.1"/>
<circle cx="845.3" cy="1839.3" r="3.6"/>
<path class="c" d="M849.6,1838.7L863.1,1843.3L856.4,1837.7L861.3,1830.6Z"/>
<path d="M855.2,1837.9L862.0,1836.9"/>
<circle cx="845.3" cy="1851.5" r="3.6"/>
<path class="c" d="M849.5,1850.6L863.4,1854.2L856.3,1849.2L860.7,1841.7Z"/>
<path d="M855.1,1849.4L861.8,1848.0"/>
<circle cx="878.3" cy="1874.6" r="3.6"/>
<path class="c" d="M881.8,1872.1L896.0,1870.0L887.5,1868.2L888.6,1859.5Z"/>
<path d="M886.5,1868.9L892.1,1864.9"/>
<circle cx="904.6" cy="1877.9" r="3.6"/>
<path class="c" d="M907.4,1874.6L920.5,1868.9L911.8,1869.3L910.7,1860.7Z"/>
<path d="M911.0,1870.2L915.5,1865.0"/>
<circle cx="923.1" cy="1879.5" r="3.6"/>
<path class="c" d="M925.2,1875.8L937.2,1867.9L928.7,1869.8L926.1,1861.5Z"/>
<path d="M928.1,1870.8L931.6,1864.9"/>
<circle cx="952.5" cy="1176.3" r="3.6"/>
<path class="c" d="M953.5,1172.1L962.8,1161.3L955.2,1165.4L950.4,1158.2Z"/>
<path d="M954.9,1166.6L956.6,1159.9"/>
<circle cx="954.5" cy="1176.3" r="3.6"/>
<path class="c" d="M955.6,1172.1L965.1,1161.4L957.4,1165.5L952.7,1158.1Z"/>
<path d="M957.1,1166.6L958.9,1160.0"/>
<circle cx="953.9" cy="1764.9" r="3.6"/>
<path class="c" d="M955.0,1769.1L952.1,1783.1L956.8,1775.7L964.5,1779.8Z"/>
<path d="M956.5,1774.6L958.3,1781.2"/>
<circle cx="956.7" cy="1764.9" r="3.6"/>
<path class="c" d="M957.7,1769.1L954.6,1783.0L959.4,1775.8L967.0,1779.9Z"/>
<path d="M959.1,1774.6L960.8,1781.3"/>
<circle cx="959.0" cy="1764.9" r="3.6"/>
<path class="c" d="M960.0,1769.1L956.6,1783.0L961.5,1775.8L969.1,1780.1Z"/>
<path d="M961.2,1774.6L962.8,1781.4"/>
<circle cx="961.4" cy="1764.9" r="3.6"/>
<path class="c" d="M962.3,1769.1L958.7,1783.0L963.7,1775.9L971.2,1780.3Z"/>
<path d="M963.5,1774.7L964.9,1781.4"/>
<circle cx="939.3" cy="1766.2" r="3.6"/>
<path class="c" d="M940.9,1770.2L939.8,1784.5L943.5,1776.6L951.6,1779.7Z"/>
<path d="M943.0,1775.5L945.6,1781.9"/>
<circle cx="956.3" cy="1176.3" r="3.6"/>
<path class="c" d="M957.5,1172.2L967.2,1161.6L959.4,1165.5L954.9,1158.1Z"/>
<path d="M959.1,1166.7L961.0,1160.1"/>
<circle cx="938.3" cy="1175.2" r="3.6"/>
<path class="c" d="M940.3,1171.4L952.0,1163.1L943.6,1165.3L940.7,1157.1Z"/>
<path d="M943.0,1166.4L946.2,1160.3"/>
<circle cx="866.8" cy="1117.2" r="3.6"/>
<path class="c" d="M871.1,1117.2L883.9,1123.6L878.0,1117.2L883.9,1110.8Z"/>
<path d="M876.8,1117.2L883.7,1117.2"/>
</g>
</svg>
</body></html>
